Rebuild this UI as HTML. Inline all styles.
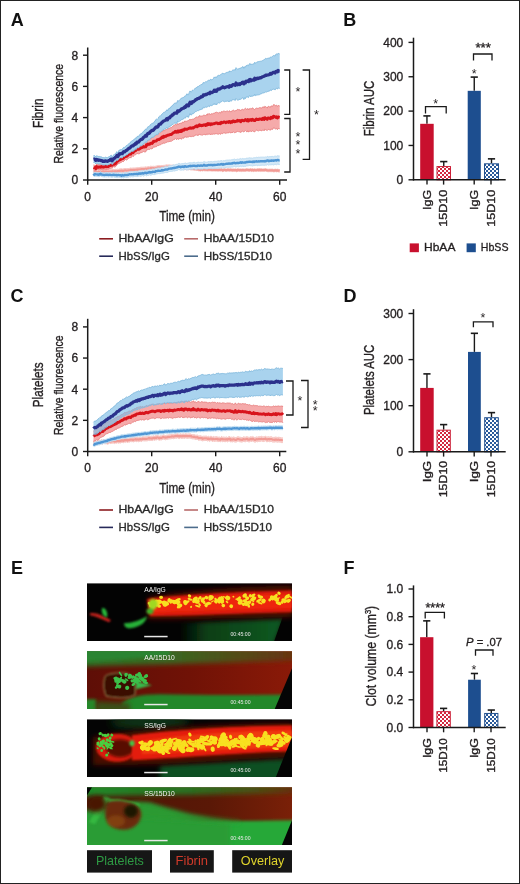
<!DOCTYPE html>
<html><head><meta charset="utf-8"><title>Figure</title>
<style>html,body{margin:0;padding:0;background:#fff;} svg{display:block;will-change:transform;} text{font-family:"Liberation Sans", sans-serif;}</style>
</head><body>
<svg width="520" height="884" viewBox="0 0 520 884" font-family='"Liberation Sans", sans-serif'>
<defs>
<pattern id="chkR" width="4" height="4" patternUnits="userSpaceOnUse"><rect width="4" height="4" fill="#fff"/><rect width="2" height="2" fill="#d2283f"/><rect x="2" y="2" width="2" height="2" fill="#d2283f"/></pattern>
<pattern id="chkB" width="4" height="4" patternUnits="userSpaceOnUse"><rect width="4" height="4" fill="#fff"/><rect width="2" height="2" fill="#2a5a9a"/><rect x="2" y="2" width="2" height="2" fill="#2a5a9a"/></pattern>
</defs>
<rect width="520" height="884" fill="#fff"/>
<path d="M93.46,170.38 L94.24,170.29 L95.02,169.99 L95.80,170.13 L96.58,170.45 L97.36,170.16 L98.14,170.23 L98.91,170.08 L99.69,170.31 L100.47,170.02 L101.25,169.99 L102.03,169.74 L102.81,169.89 L103.59,169.85 L104.37,170.11 L105.15,169.49 L105.93,170.11 L106.71,169.61 L107.49,169.78 L108.27,169.86 L109.04,169.80 L109.82,169.78 L110.60,169.57 L111.38,169.63 L112.16,169.33 L112.94,169.78 L113.72,169.47 L114.50,169.56 L115.28,169.24 L116.06,169.65 L116.84,169.33 L117.62,169.17 L118.40,169.38 L119.18,168.96 L119.95,169.01 L120.73,168.81 L121.51,168.77 L122.29,169.02 L123.07,168.92 L123.85,168.78 L124.63,168.58 L125.41,168.49 L126.19,168.70 L126.97,168.63 L127.75,168.59 L128.53,168.51 L129.31,168.41 L130.08,168.30 L130.86,167.88 L131.64,168.21 L132.42,168.10 L133.20,167.94 L133.98,168.12 L134.76,167.98 L135.54,167.88 L136.32,167.71 L137.10,167.95 L137.88,167.45 L138.66,167.66 L139.44,167.52 L140.21,167.35 L140.99,167.30 L141.77,167.19 L142.55,167.26 L143.33,167.23 L144.11,167.10 L144.89,167.25 L145.67,166.81 L146.45,167.04 L147.23,167.03 L148.01,166.44 L148.79,166.70 L149.57,166.82 L150.35,166.26 L151.12,166.54 L151.90,166.23 L152.68,166.45 L153.46,166.26 L154.24,166.41 L155.02,166.36 L155.80,166.16 L156.58,165.95 L157.36,165.77 L158.14,165.45 L158.92,165.93 L159.70,165.51 L160.48,165.68 L161.25,165.53 L162.03,165.66 L162.81,165.58 L163.59,165.42 L164.37,165.40 L165.15,165.14 L165.93,165.19 L166.71,164.83 L167.49,164.97 L168.27,164.98 L169.05,164.87 L169.83,165.00 L170.61,165.13 L171.38,165.19 L172.16,165.26 L172.94,165.11 L173.72,165.22 L174.50,165.35 L175.28,165.35 L176.06,165.63 L176.84,165.53 L177.62,165.88 L178.40,165.53 L179.18,165.80 L179.96,165.87 L180.74,165.89 L181.51,166.08 L182.29,166.20 L183.07,166.04 L183.85,166.30 L184.63,166.54 L185.41,166.41 L186.19,166.86 L186.97,166.45 L187.75,166.82 L188.53,166.90 L189.31,166.67 L190.09,166.77 L190.87,167.18 L191.65,167.21 L192.42,167.22 L193.20,167.22 L193.98,167.61 L194.76,167.65 L195.54,167.56 L196.32,167.82 L197.10,167.84 L197.88,167.94 L198.66,168.30 L199.44,168.33 L200.22,168.64 L201.00,168.31 L201.78,168.09 L202.55,168.50 L203.33,168.17 L204.11,168.23 L204.89,168.41 L205.67,168.42 L206.45,168.44 L207.23,168.60 L208.01,168.53 L208.79,168.51 L209.57,168.41 L210.35,168.40 L211.13,168.65 L211.91,168.40 L212.68,168.67 L213.46,168.60 L214.24,168.51 L215.02,168.59 L215.80,168.63 L216.58,168.57 L217.36,168.71 L218.14,168.76 L218.92,168.69 L219.70,168.52 L220.48,168.71 L221.26,168.41 L222.04,168.68 L222.81,169.20 L223.59,168.83 L224.37,168.53 L225.15,168.80 L225.93,168.90 L226.71,168.98 L227.49,168.64 L228.27,168.70 L229.05,168.78 L229.83,168.83 L230.61,168.68 L231.39,168.79 L232.17,169.12 L232.95,168.81 L233.72,168.90 L234.50,168.94 L235.28,168.79 L236.06,168.89 L236.84,169.34 L237.62,168.63 L238.40,168.72 L239.18,168.91 L239.96,168.96 L240.74,168.86 L241.52,169.07 L242.30,168.81 L243.08,168.88 L243.85,168.90 L244.63,168.99 L245.41,168.96 L246.19,168.68 L246.97,168.64 L247.75,168.76 L248.53,168.85 L249.31,168.97 L250.09,168.71 L250.87,168.55 L251.65,169.05 L252.43,168.61 L253.21,169.13 L253.98,168.84 L254.76,168.74 L255.54,169.00 L256.32,169.02 L257.10,168.74 L257.88,168.65 L258.66,168.86 L259.44,168.60 L260.22,168.96 L261.00,168.61 L261.78,168.90 L262.56,168.90 L263.34,168.86 L264.12,168.92 L264.89,168.70 L265.67,168.67 L266.45,168.95 L267.23,169.07 L268.01,169.26 L268.79,169.20 L269.57,169.11 L270.35,169.15 L271.13,169.15 L271.91,169.16 L272.69,169.12 L273.47,169.43 L274.25,169.40 L275.02,169.11 L275.80,169.17 L276.58,169.39 L277.36,169.12 L278.14,169.44 L278.92,169.37 L279.70,169.63 L279.70,172.17 L278.92,171.91 L278.14,171.95 L277.36,171.62 L276.58,171.88 L275.80,171.63 L275.02,171.56 L274.25,171.90 L273.47,171.93 L272.69,171.62 L271.91,171.69 L271.13,171.67 L270.35,171.64 L269.57,171.61 L268.79,171.70 L268.01,171.73 L267.23,171.56 L266.45,171.43 L265.67,171.14 L264.89,171.18 L264.12,171.39 L263.34,171.31 L262.56,171.35 L261.78,171.35 L261.00,171.08 L260.22,171.48 L259.44,171.14 L258.66,171.42 L257.88,171.19 L257.10,171.29 L256.32,171.53 L255.54,171.50 L254.76,171.21 L253.98,171.34 L253.21,171.63 L252.43,171.11 L251.65,171.55 L250.87,171.06 L250.09,171.19 L249.31,171.43 L248.53,171.31 L247.75,171.23 L246.97,171.10 L246.19,171.14 L245.41,171.43 L244.63,171.48 L243.85,171.40 L243.08,171.39 L242.30,171.31 L241.52,171.55 L240.74,171.31 L239.96,171.40 L239.18,171.39 L238.40,171.22 L237.62,171.15 L236.84,171.86 L236.06,171.40 L235.28,171.27 L234.50,171.40 L233.72,171.36 L232.95,171.26 L232.17,171.57 L231.39,171.25 L230.61,171.15 L229.83,171.30 L229.05,171.25 L228.27,171.20 L227.49,171.12 L226.71,171.45 L225.93,171.36 L225.15,171.28 L224.37,171.01 L223.59,171.33 L222.81,171.72 L222.04,171.22 L221.26,170.93 L220.48,171.23 L219.70,171.05 L218.92,171.22 L218.14,171.26 L217.36,171.25 L216.58,171.10 L215.80,171.14 L215.02,171.11 L214.24,171.04 L213.46,171.09 L212.68,171.17 L211.91,170.91 L211.13,171.13 L210.35,170.87 L209.57,170.88 L208.79,170.96 L208.01,170.98 L207.23,171.06 L206.45,170.90 L205.67,170.91 L204.89,170.91 L204.11,170.73 L203.33,170.69 L202.55,171.05 L201.78,170.64 L201.00,170.86 L200.22,171.19 L199.44,170.85 L198.66,170.85 L197.88,170.54 L197.10,170.47 L196.32,170.47 L195.54,170.27 L194.76,170.36 L193.98,170.32 L193.20,169.98 L192.42,169.99 L191.65,169.99 L190.87,170.01 L190.09,169.63 L189.31,169.53 L188.53,169.82 L187.75,169.81 L186.97,169.44 L186.19,169.92 L185.41,169.53 L184.63,169.66 L183.85,169.42 L183.07,169.18 L182.29,169.32 L181.51,169.21 L180.74,169.08 L179.96,169.10 L179.18,169.08 L178.40,168.85 L177.62,169.25 L176.84,168.90 L176.06,169.04 L175.28,168.80 L174.50,168.84 L173.72,168.75 L172.94,168.68 L172.16,168.81 L171.38,168.77 L170.61,168.72 L169.83,168.62 L169.05,168.52 L168.27,168.71 L167.49,168.74 L166.71,168.59 L165.93,168.93 L165.15,168.85 L164.37,169.10 L163.59,169.11 L162.81,169.31 L162.03,169.39 L161.25,169.26 L160.48,169.40 L159.70,169.21 L158.92,169.58 L158.14,169.14 L157.36,169.48 L156.58,169.72 L155.80,169.95 L155.02,170.19 L154.24,170.22 L153.46,170.08 L152.68,170.22 L151.90,170.00 L151.12,170.28 L150.35,170.02 L149.57,170.56 L148.79,170.51 L148.01,170.24 L147.23,170.83 L146.45,170.83 L145.67,170.59 L144.89,170.99 L144.11,170.87 L143.33,170.99 L142.55,171.04 L141.77,170.97 L140.99,171.11 L140.21,171.14 L139.44,171.31 L138.66,171.44 L137.88,171.23 L137.10,171.69 L136.32,171.40 L135.54,171.58 L134.76,171.72 L133.98,171.88 L133.20,171.74 L132.42,171.93 L131.64,172.01 L130.86,171.66 L130.08,172.04 L129.31,172.08 L128.53,172.20 L127.75,172.30 L126.97,172.33 L126.19,172.41 L125.41,172.24 L124.63,172.30 L123.85,172.52 L123.07,172.68 L122.29,172.76 L121.51,172.53 L120.73,172.59 L119.95,172.76 L119.18,172.69 L118.40,173.15 L117.62,172.95 L116.84,173.08 L116.06,173.43 L115.28,173.05 L114.50,173.35 L113.72,173.26 L112.94,173.61 L112.16,173.11 L111.38,173.39 L110.60,173.36 L109.82,173.55 L109.04,173.58 L108.27,173.65 L107.49,173.62 L106.71,173.40 L105.93,173.91 L105.15,173.29 L104.37,173.90 L103.59,173.60 L102.81,173.68 L102.03,173.50 L101.25,173.73 L100.47,173.75 L99.69,174.10 L98.91,173.85 L98.14,174.00 L97.36,173.94 L96.58,174.22 L95.80,173.87 L95.02,173.75 L94.24,174.06 L93.46,174.15 Z" fill="#fbd6d3" fill-opacity="1.0" stroke="none"/>
<path d="M93.46,170.38 L94.24,170.29 L95.02,169.99 L95.80,170.13 L96.58,170.45 L97.36,170.16 L98.14,170.23 L98.91,170.08 L99.69,170.31 L100.47,170.02 L101.25,169.99 L102.03,169.74 L102.81,169.89 L103.59,169.85 L104.37,170.11 L105.15,169.49 L105.93,170.11 L106.71,169.61 L107.49,169.78 L108.27,169.86 L109.04,169.80 L109.82,169.78 L110.60,169.57 L111.38,169.63 L112.16,169.33 L112.94,169.78 L113.72,169.47 L114.50,169.56 L115.28,169.24 L116.06,169.65 L116.84,169.33 L117.62,169.17 L118.40,169.38 L119.18,168.96 L119.95,169.01 L120.73,168.81 L121.51,168.77 L122.29,169.02 L123.07,168.92 L123.85,168.78 L124.63,168.58 L125.41,168.49 L126.19,168.70 L126.97,168.63 L127.75,168.59 L128.53,168.51 L129.31,168.41 L130.08,168.30 L130.86,167.88 L131.64,168.21 L132.42,168.10 L133.20,167.94 L133.98,168.12 L134.76,167.98 L135.54,167.88 L136.32,167.71 L137.10,167.95 L137.88,167.45 L138.66,167.66 L139.44,167.52 L140.21,167.35 L140.99,167.30 L141.77,167.19 L142.55,167.26 L143.33,167.23 L144.11,167.10 L144.89,167.25 L145.67,166.81 L146.45,167.04 L147.23,167.03 L148.01,166.44 L148.79,166.70 L149.57,166.82 L150.35,166.26 L151.12,166.54 L151.90,166.23 L152.68,166.45 L153.46,166.26 L154.24,166.41 L155.02,166.36 L155.80,166.16 L156.58,165.95 L157.36,165.77 L158.14,165.45 L158.92,165.93 L159.70,165.51 L160.48,165.68 L161.25,165.53 L162.03,165.66 L162.81,165.58 L163.59,165.42 L164.37,165.40 L165.15,165.14 L165.93,165.19 L166.71,164.83 L167.49,164.97 L168.27,164.98 L169.05,164.87 L169.83,165.00 L170.61,165.13 L171.38,165.19 L172.16,165.26 L172.94,165.11 L173.72,165.22 L174.50,165.35 L175.28,165.35 L176.06,165.63 L176.84,165.53 L177.62,165.88 L178.40,165.53 L179.18,165.80 L179.96,165.87 L180.74,165.89 L181.51,166.08 L182.29,166.20 L183.07,166.04 L183.85,166.30 L184.63,166.54 L185.41,166.41 L186.19,166.86 L186.97,166.45 L187.75,166.82 L188.53,166.90 L189.31,166.67 L190.09,166.77 L190.87,167.18 L191.65,167.21 L192.42,167.22 L193.20,167.22 L193.98,167.61 L194.76,167.65 L195.54,167.56 L196.32,167.82 L197.10,167.84 L197.88,167.94 L198.66,168.30 L199.44,168.33 L200.22,168.64 L201.00,168.31 L201.78,168.09 L202.55,168.50 L203.33,168.17 L204.11,168.23 L204.89,168.41 L205.67,168.42 L206.45,168.44 L207.23,168.60 L208.01,168.53 L208.79,168.51 L209.57,168.41 L210.35,168.40 L211.13,168.65 L211.91,168.40 L212.68,168.67 L213.46,168.60 L214.24,168.51 L215.02,168.59 L215.80,168.63 L216.58,168.57 L217.36,168.71 L218.14,168.76 L218.92,168.69 L219.70,168.52 L220.48,168.71 L221.26,168.41 L222.04,168.68 L222.81,169.20 L223.59,168.83 L224.37,168.53 L225.15,168.80 L225.93,168.90 L226.71,168.98 L227.49,168.64 L228.27,168.70 L229.05,168.78 L229.83,168.83 L230.61,168.68 L231.39,168.79 L232.17,169.12 L232.95,168.81 L233.72,168.90 L234.50,168.94 L235.28,168.79 L236.06,168.89 L236.84,169.34 L237.62,168.63 L238.40,168.72 L239.18,168.91 L239.96,168.96 L240.74,168.86 L241.52,169.07 L242.30,168.81 L243.08,168.88 L243.85,168.90 L244.63,168.99 L245.41,168.96 L246.19,168.68 L246.97,168.64 L247.75,168.76 L248.53,168.85 L249.31,168.97 L250.09,168.71 L250.87,168.55 L251.65,169.05 L252.43,168.61 L253.21,169.13 L253.98,168.84 L254.76,168.74 L255.54,169.00 L256.32,169.02 L257.10,168.74 L257.88,168.65 L258.66,168.86 L259.44,168.60 L260.22,168.96 L261.00,168.61 L261.78,168.90 L262.56,168.90 L263.34,168.86 L264.12,168.92 L264.89,168.70 L265.67,168.67 L266.45,168.95 L267.23,169.07 L268.01,169.26 L268.79,169.20 L269.57,169.11 L270.35,169.15 L271.13,169.15 L271.91,169.16 L272.69,169.12 L273.47,169.43 L274.25,169.40 L275.02,169.11 L275.80,169.17 L276.58,169.39 L277.36,169.12 L278.14,169.44 L278.92,169.37 L279.70,169.63" fill="none" stroke="#f7c2be" stroke-width="1.0"/>
<path d="M93.46,174.15 L94.24,174.06 L95.02,173.75 L95.80,173.87 L96.58,174.22 L97.36,173.94 L98.14,174.00 L98.91,173.85 L99.69,174.10 L100.47,173.75 L101.25,173.73 L102.03,173.50 L102.81,173.68 L103.59,173.60 L104.37,173.90 L105.15,173.29 L105.93,173.91 L106.71,173.40 L107.49,173.62 L108.27,173.65 L109.04,173.58 L109.82,173.55 L110.60,173.36 L111.38,173.39 L112.16,173.11 L112.94,173.61 L113.72,173.26 L114.50,173.35 L115.28,173.05 L116.06,173.43 L116.84,173.08 L117.62,172.95 L118.40,173.15 L119.18,172.69 L119.95,172.76 L120.73,172.59 L121.51,172.53 L122.29,172.76 L123.07,172.68 L123.85,172.52 L124.63,172.30 L125.41,172.24 L126.19,172.41 L126.97,172.33 L127.75,172.30 L128.53,172.20 L129.31,172.08 L130.08,172.04 L130.86,171.66 L131.64,172.01 L132.42,171.93 L133.20,171.74 L133.98,171.88 L134.76,171.72 L135.54,171.58 L136.32,171.40 L137.10,171.69 L137.88,171.23 L138.66,171.44 L139.44,171.31 L140.21,171.14 L140.99,171.11 L141.77,170.97 L142.55,171.04 L143.33,170.99 L144.11,170.87 L144.89,170.99 L145.67,170.59 L146.45,170.83 L147.23,170.83 L148.01,170.24 L148.79,170.51 L149.57,170.56 L150.35,170.02 L151.12,170.28 L151.90,170.00 L152.68,170.22 L153.46,170.08 L154.24,170.22 L155.02,170.19 L155.80,169.95 L156.58,169.72 L157.36,169.48 L158.14,169.14 L158.92,169.58 L159.70,169.21 L160.48,169.40 L161.25,169.26 L162.03,169.39 L162.81,169.31 L163.59,169.11 L164.37,169.10 L165.15,168.85 L165.93,168.93 L166.71,168.59 L167.49,168.74 L168.27,168.71 L169.05,168.52 L169.83,168.62 L170.61,168.72 L171.38,168.77 L172.16,168.81 L172.94,168.68 L173.72,168.75 L174.50,168.84 L175.28,168.80 L176.06,169.04 L176.84,168.90 L177.62,169.25 L178.40,168.85 L179.18,169.08 L179.96,169.10 L180.74,169.08 L181.51,169.21 L182.29,169.32 L183.07,169.18 L183.85,169.42 L184.63,169.66 L185.41,169.53 L186.19,169.92 L186.97,169.44 L187.75,169.81 L188.53,169.82 L189.31,169.53 L190.09,169.63 L190.87,170.01 L191.65,169.99 L192.42,169.99 L193.20,169.98 L193.98,170.32 L194.76,170.36 L195.54,170.27 L196.32,170.47 L197.10,170.47 L197.88,170.54 L198.66,170.85 L199.44,170.85 L200.22,171.19 L201.00,170.86 L201.78,170.64 L202.55,171.05 L203.33,170.69 L204.11,170.73 L204.89,170.91 L205.67,170.91 L206.45,170.90 L207.23,171.06 L208.01,170.98 L208.79,170.96 L209.57,170.88 L210.35,170.87 L211.13,171.13 L211.91,170.91 L212.68,171.17 L213.46,171.09 L214.24,171.04 L215.02,171.11 L215.80,171.14 L216.58,171.10 L217.36,171.25 L218.14,171.26 L218.92,171.22 L219.70,171.05 L220.48,171.23 L221.26,170.93 L222.04,171.22 L222.81,171.72 L223.59,171.33 L224.37,171.01 L225.15,171.28 L225.93,171.36 L226.71,171.45 L227.49,171.12 L228.27,171.20 L229.05,171.25 L229.83,171.30 L230.61,171.15 L231.39,171.25 L232.17,171.57 L232.95,171.26 L233.72,171.36 L234.50,171.40 L235.28,171.27 L236.06,171.40 L236.84,171.86 L237.62,171.15 L238.40,171.22 L239.18,171.39 L239.96,171.40 L240.74,171.31 L241.52,171.55 L242.30,171.31 L243.08,171.39 L243.85,171.40 L244.63,171.48 L245.41,171.43 L246.19,171.14 L246.97,171.10 L247.75,171.23 L248.53,171.31 L249.31,171.43 L250.09,171.19 L250.87,171.06 L251.65,171.55 L252.43,171.11 L253.21,171.63 L253.98,171.34 L254.76,171.21 L255.54,171.50 L256.32,171.53 L257.10,171.29 L257.88,171.19 L258.66,171.42 L259.44,171.14 L260.22,171.48 L261.00,171.08 L261.78,171.35 L262.56,171.35 L263.34,171.31 L264.12,171.39 L264.89,171.18 L265.67,171.14 L266.45,171.43 L267.23,171.56 L268.01,171.73 L268.79,171.70 L269.57,171.61 L270.35,171.64 L271.13,171.67 L271.91,171.69 L272.69,171.62 L273.47,171.93 L274.25,171.90 L275.02,171.56 L275.80,171.63 L276.58,171.88 L277.36,171.62 L278.14,171.95 L278.92,171.91 L279.70,172.17" fill="none" stroke="#f7c2be" stroke-width="1.0"/>
<path d="M93.46,172.27 L94.24,172.18 L95.02,171.87 L95.80,172.00 L96.58,172.33 L97.36,172.05 L98.14,172.11 L98.91,171.96 L99.69,172.21 L100.47,171.89 L101.25,171.86 L102.03,171.62 L102.81,171.78 L103.59,171.72 L104.37,172.00 L105.15,171.39 L105.93,172.01 L106.71,171.51 L107.49,171.70 L108.27,171.76 L109.04,171.69 L109.82,171.66 L110.60,171.46 L111.38,171.51 L112.16,171.22 L112.94,171.69 L113.72,171.36 L114.50,171.45 L115.28,171.14 L116.06,171.54 L116.84,171.21 L117.62,171.06 L118.40,171.27 L119.18,170.82 L119.95,170.89 L120.73,170.70 L121.51,170.65 L122.29,170.89 L123.07,170.80 L123.85,170.65 L124.63,170.44 L125.41,170.37 L126.19,170.55 L126.97,170.48 L127.75,170.45 L128.53,170.36 L129.31,170.24 L130.08,170.17 L130.86,169.77 L131.64,170.11 L132.42,170.01 L133.20,169.84 L133.98,170.00 L134.76,169.85 L135.54,169.73 L136.32,169.55 L137.10,169.82 L137.88,169.34 L138.66,169.55 L139.44,169.41 L140.21,169.24 L140.99,169.21 L141.77,169.08 L142.55,169.15 L143.33,169.11 L144.11,168.99 L144.89,169.12 L145.67,168.70 L146.45,168.93 L147.23,168.93 L148.01,168.34 L148.79,168.61 L149.57,168.69 L150.35,168.14 L151.12,168.41 L151.90,168.11 L152.68,168.33 L153.46,168.17 L154.24,168.32 L155.02,168.27 L155.80,168.05 L156.58,167.84 L157.36,167.62 L158.14,167.29 L158.92,167.76 L159.70,167.36 L160.48,167.54 L161.25,167.39 L162.03,167.52 L162.81,167.45 L163.59,167.26 L164.37,167.25 L165.15,167.00 L165.93,167.06 L166.71,166.71 L167.49,166.86 L168.27,166.85 L169.05,166.70 L169.83,166.81 L170.61,166.93 L171.38,166.98 L172.16,167.03 L172.94,166.89 L173.72,166.98 L174.50,167.10 L175.28,167.08 L176.06,167.33 L176.84,167.22 L177.62,167.57 L178.40,167.19 L179.18,167.44 L179.96,167.49 L180.74,167.49 L181.51,167.65 L182.29,167.76 L183.07,167.61 L183.85,167.86 L184.63,168.10 L185.41,167.97 L186.19,168.39 L186.97,167.95 L187.75,168.31 L188.53,168.36 L189.31,168.10 L190.09,168.20 L190.87,168.60 L191.65,168.60 L192.42,168.61 L193.20,168.60 L193.98,168.96 L194.76,169.01 L195.54,168.92 L196.32,169.15 L197.10,169.15 L197.88,169.24 L198.66,169.58 L199.44,169.59 L200.22,169.92 L201.00,169.58 L201.78,169.37 L202.55,169.77 L203.33,169.43 L204.11,169.48 L204.89,169.66 L205.67,169.67 L206.45,169.67 L207.23,169.83 L208.01,169.75 L208.79,169.73 L209.57,169.64 L210.35,169.63 L211.13,169.89 L211.91,169.66 L212.68,169.92 L213.46,169.84 L214.24,169.77 L215.02,169.85 L215.80,169.88 L216.58,169.84 L217.36,169.98 L218.14,170.01 L218.92,169.95 L219.70,169.79 L220.48,169.97 L221.26,169.67 L222.04,169.95 L222.81,170.46 L223.59,170.08 L224.37,169.77 L225.15,170.04 L225.93,170.13 L226.71,170.21 L227.49,169.88 L228.27,169.95 L229.05,170.01 L229.83,170.06 L230.61,169.92 L231.39,170.02 L232.17,170.34 L232.95,170.04 L233.72,170.13 L234.50,170.17 L235.28,170.03 L236.06,170.14 L236.84,170.60 L237.62,169.89 L238.40,169.97 L239.18,170.15 L239.96,170.18 L240.74,170.08 L241.52,170.31 L242.30,170.06 L243.08,170.14 L243.85,170.15 L244.63,170.24 L245.41,170.19 L246.19,169.91 L246.97,169.87 L247.75,170.00 L248.53,170.08 L249.31,170.20 L250.09,169.95 L250.87,169.80 L251.65,170.30 L252.43,169.86 L253.21,170.38 L253.98,170.09 L254.76,169.97 L255.54,170.25 L256.32,170.27 L257.10,170.01 L257.88,169.92 L258.66,170.14 L259.44,169.87 L260.22,170.22 L261.00,169.85 L261.78,170.12 L262.56,170.13 L263.34,170.09 L264.12,170.16 L264.89,169.94 L265.67,169.91 L266.45,170.19 L267.23,170.32 L268.01,170.50 L268.79,170.45 L269.57,170.36 L270.35,170.40 L271.13,170.41 L271.91,170.42 L272.69,170.37 L273.47,170.68 L274.25,170.65 L275.02,170.33 L275.80,170.40 L276.58,170.64 L277.36,170.37 L278.14,170.69 L278.92,170.64 L279.70,170.90" fill="none" stroke="#f29b95" stroke-width="2.2" stroke-linejoin="round"/>
<path d="M93.46,171.67 L94.24,172.78 L95.02,172.11 L95.80,172.39 L96.58,172.39 L97.36,172.38 L98.14,172.85 L98.91,172.47 L99.69,172.65 L100.47,171.71 L101.25,172.47 L102.03,172.61 L102.81,172.65 L103.59,172.74 L104.37,172.85 L105.15,172.72 L105.93,172.55 L106.71,172.73 L107.49,172.51 L108.27,172.81 L109.04,172.77 L109.82,172.42 L110.60,172.66 L111.38,172.90 L112.16,172.86 L112.94,172.70 L113.72,172.41 L114.50,172.92 L115.28,172.91 L116.06,172.61 L116.84,173.05 L117.62,172.93 L118.40,172.69 L119.18,172.80 L119.95,172.93 L120.73,172.79 L121.51,173.59 L122.29,172.65 L123.07,173.07 L123.85,173.19 L124.63,172.68 L125.41,172.51 L126.19,172.71 L126.97,172.77 L127.75,172.40 L128.53,172.30 L129.31,171.87 L130.08,171.90 L130.86,171.93 L131.64,171.65 L132.42,171.88 L133.20,171.98 L133.98,171.53 L134.76,171.44 L135.54,171.51 L136.32,171.57 L137.10,171.21 L137.88,171.75 L138.66,170.90 L139.44,170.87 L140.21,171.25 L140.99,170.75 L141.77,170.90 L142.55,170.42 L143.33,170.98 L144.11,170.60 L144.89,170.18 L145.67,169.98 L146.45,170.67 L147.23,170.15 L148.01,169.86 L148.79,169.96 L149.57,169.33 L150.35,169.86 L151.12,169.42 L151.90,169.64 L152.68,168.92 L153.46,169.12 L154.24,169.05 L155.02,169.21 L155.80,168.23 L156.58,168.31 L157.36,168.16 L158.14,167.91 L158.92,167.94 L159.70,168.05 L160.48,167.95 L161.25,167.77 L162.03,167.11 L162.81,167.59 L163.59,167.21 L164.37,166.98 L165.15,166.70 L165.93,166.47 L166.71,166.77 L167.49,166.72 L168.27,166.15 L169.05,165.74 L169.83,165.69 L170.61,165.64 L171.38,165.64 L172.16,165.34 L172.94,165.27 L173.72,164.84 L174.50,165.07 L175.28,164.69 L176.06,164.57 L176.84,164.28 L177.62,164.22 L178.40,163.53 L179.18,163.61 L179.96,163.50 L180.74,164.18 L181.51,163.65 L182.29,163.65 L183.07,163.33 L183.85,163.93 L184.63,163.10 L185.41,163.07 L186.19,163.53 L186.97,163.39 L187.75,163.28 L188.53,163.04 L189.31,162.85 L190.09,162.51 L190.87,163.00 L191.65,162.76 L192.42,162.82 L193.20,162.41 L193.98,162.57 L194.76,162.38 L195.54,162.88 L196.32,162.62 L197.10,162.71 L197.88,162.12 L198.66,162.24 L199.44,162.42 L200.22,162.42 L201.00,162.16 L201.78,162.38 L202.55,162.38 L203.33,161.99 L204.11,161.46 L204.89,162.05 L205.67,162.11 L206.45,162.23 L207.23,162.18 L208.01,161.71 L208.79,161.54 L209.57,161.70 L210.35,161.55 L211.13,161.58 L211.91,161.53 L212.68,161.86 L213.46,161.53 L214.24,161.34 L215.02,161.47 L215.80,161.31 L216.58,161.35 L217.36,161.19 L218.14,160.86 L218.92,161.10 L219.70,161.03 L220.48,160.77 L221.26,160.76 L222.04,160.43 L222.81,161.26 L223.59,160.50 L224.37,160.73 L225.15,160.49 L225.93,160.28 L226.71,160.17 L227.49,160.10 L228.27,160.22 L229.05,159.81 L229.83,160.16 L230.61,160.04 L231.39,159.73 L232.17,159.96 L232.95,159.22 L233.72,159.45 L234.50,159.09 L235.28,159.52 L236.06,159.55 L236.84,159.33 L237.62,159.08 L238.40,159.30 L239.18,159.00 L239.96,158.96 L240.74,158.50 L241.52,158.97 L242.30,158.46 L243.08,158.78 L243.85,158.78 L244.63,158.66 L245.41,158.70 L246.19,158.36 L246.97,158.08 L247.75,158.26 L248.53,158.07 L249.31,157.76 L250.09,158.04 L250.87,157.97 L251.65,158.03 L252.43,158.28 L253.21,157.68 L253.98,158.18 L254.76,157.54 L255.54,157.65 L256.32,157.29 L257.10,157.44 L257.88,157.53 L258.66,157.21 L259.44,157.34 L260.22,157.22 L261.00,157.17 L261.78,157.18 L262.56,157.16 L263.34,157.21 L264.12,157.01 L264.89,157.43 L265.67,156.91 L266.45,157.10 L267.23,156.51 L268.01,156.46 L268.79,157.12 L269.57,156.56 L270.35,156.54 L271.13,156.74 L271.91,156.31 L272.69,156.51 L273.47,156.74 L274.25,156.30 L275.02,156.23 L275.80,156.13 L276.58,156.31 L277.36,155.84 L278.14,155.79 L278.92,156.16 L279.70,155.99 L279.70,164.49 L278.92,164.61 L278.14,164.16 L277.36,164.25 L276.58,164.73 L275.80,164.38 L275.02,164.50 L274.25,164.58 L273.47,164.94 L272.69,164.66 L271.91,164.50 L271.13,164.90 L270.35,164.77 L269.57,164.72 L268.79,165.24 L268.01,164.50 L267.23,164.61 L266.45,165.20 L265.67,165.01 L264.89,165.51 L264.12,165.12 L263.34,165.31 L262.56,165.16 L261.78,165.22 L261.00,165.24 L260.22,165.40 L259.44,165.55 L258.66,165.35 L257.88,165.68 L257.10,165.52 L256.32,165.21 L255.54,165.48 L254.76,165.38 L253.98,165.96 L253.21,165.39 L252.43,165.99 L251.65,165.71 L250.87,165.66 L250.09,165.66 L249.31,165.40 L248.53,165.68 L247.75,165.82 L246.97,165.72 L246.19,165.98 L245.41,166.41 L244.63,166.35 L243.85,166.49 L243.08,166.48 L242.30,166.16 L241.52,166.59 L240.74,166.14 L239.96,166.59 L239.18,166.50 L238.40,166.79 L237.62,166.54 L236.84,166.69 L236.06,166.88 L235.28,166.89 L234.50,166.43 L233.72,166.75 L232.95,166.58 L232.17,167.26 L231.39,166.99 L230.61,167.28 L229.83,167.36 L229.05,166.97 L228.27,167.38 L227.49,167.23 L226.71,167.28 L225.93,167.43 L225.15,167.68 L224.37,167.87 L223.59,167.61 L222.81,168.35 L222.04,167.53 L221.26,167.80 L220.48,167.81 L219.70,168.10 L218.92,168.25 L218.14,167.99 L217.36,168.30 L216.58,168.45 L215.80,168.42 L215.02,168.49 L214.24,168.30 L213.46,168.46 L212.68,168.72 L211.91,168.36 L211.13,168.40 L210.35,168.42 L209.57,168.51 L208.79,168.36 L208.01,168.43 L207.23,168.91 L206.45,168.88 L205.67,168.80 L204.89,168.80 L204.11,168.21 L203.33,168.69 L202.55,169.06 L201.78,169.04 L201.00,168.78 L200.22,169.05 L199.44,169.07 L198.66,168.89 L197.88,168.70 L197.10,169.29 L196.32,169.17 L195.54,169.41 L194.76,168.85 L193.98,169.05 L193.20,168.82 L192.42,169.25 L191.65,169.11 L190.87,169.41 L190.09,168.94 L189.31,169.34 L188.53,169.52 L187.75,169.76 L186.97,169.82 L186.19,169.92 L185.41,169.36 L184.63,169.37 L183.85,170.24 L183.07,169.63 L182.29,169.97 L181.51,169.99 L180.74,170.43 L179.96,169.65 L179.18,169.76 L178.40,169.60 L177.62,170.26 L176.84,170.33 L176.06,170.65 L175.28,170.71 L174.50,171.05 L173.72,170.83 L172.94,171.19 L172.16,171.16 L171.38,171.45 L170.61,171.49 L169.83,171.48 L169.05,171.52 L168.27,171.97 L167.49,172.50 L166.71,172.52 L165.93,172.27 L165.15,172.49 L164.37,172.76 L163.59,172.96 L162.81,173.28 L162.03,172.73 L161.25,173.38 L160.48,173.50 L159.70,173.62 L158.92,173.56 L158.14,173.52 L157.36,173.74 L156.58,173.89 L155.80,173.83 L155.02,174.74 L154.24,174.55 L153.46,174.59 L152.68,174.38 L151.90,175.04 L151.12,174.84 L150.35,175.34 L149.57,174.77 L148.79,175.36 L148.01,175.19 L147.23,175.46 L146.45,175.88 L145.67,175.19 L144.89,175.37 L144.11,175.87 L143.33,176.19 L142.55,175.60 L141.77,176.10 L140.99,175.94 L140.21,176.40 L139.44,175.96 L138.66,176.00 L137.88,176.81 L137.10,176.25 L136.32,176.53 L135.54,176.50 L134.76,176.36 L133.98,176.43 L133.20,176.87 L132.42,176.79 L131.64,176.57 L130.86,176.89 L130.08,176.83 L129.31,176.72 L128.53,177.14 L127.75,177.18 L126.97,177.49 L126.19,177.42 L125.41,177.24 L124.63,177.40 L123.85,177.90 L123.07,177.77 L122.29,177.31 L121.51,178.21 L120.73,177.37 L119.95,177.49 L119.18,177.35 L118.40,177.27 L117.62,177.54 L116.84,177.65 L116.06,177.16 L115.28,177.39 L114.50,177.35 L113.72,176.79 L112.94,177.10 L112.16,177.24 L111.38,177.30 L110.60,177.01 L109.82,176.73 L109.04,177.04 L108.27,177.05 L107.49,176.75 L106.71,177.01 L105.93,176.79 L105.15,176.95 L104.37,177.05 L103.59,176.90 L102.81,176.71 L102.03,176.69 L101.25,176.47 L100.47,175.69 L99.69,176.62 L98.91,176.42 L98.14,176.78 L97.36,176.32 L96.58,176.33 L95.80,176.30 L95.02,176.05 L94.24,176.71 L93.46,175.62 Z" fill="#d3e8f7" fill-opacity="1.0" stroke="none"/>
<path d="M93.46,171.67 L94.24,172.78 L95.02,172.11 L95.80,172.39 L96.58,172.39 L97.36,172.38 L98.14,172.85 L98.91,172.47 L99.69,172.65 L100.47,171.71 L101.25,172.47 L102.03,172.61 L102.81,172.65 L103.59,172.74 L104.37,172.85 L105.15,172.72 L105.93,172.55 L106.71,172.73 L107.49,172.51 L108.27,172.81 L109.04,172.77 L109.82,172.42 L110.60,172.66 L111.38,172.90 L112.16,172.86 L112.94,172.70 L113.72,172.41 L114.50,172.92 L115.28,172.91 L116.06,172.61 L116.84,173.05 L117.62,172.93 L118.40,172.69 L119.18,172.80 L119.95,172.93 L120.73,172.79 L121.51,173.59 L122.29,172.65 L123.07,173.07 L123.85,173.19 L124.63,172.68 L125.41,172.51 L126.19,172.71 L126.97,172.77 L127.75,172.40 L128.53,172.30 L129.31,171.87 L130.08,171.90 L130.86,171.93 L131.64,171.65 L132.42,171.88 L133.20,171.98 L133.98,171.53 L134.76,171.44 L135.54,171.51 L136.32,171.57 L137.10,171.21 L137.88,171.75 L138.66,170.90 L139.44,170.87 L140.21,171.25 L140.99,170.75 L141.77,170.90 L142.55,170.42 L143.33,170.98 L144.11,170.60 L144.89,170.18 L145.67,169.98 L146.45,170.67 L147.23,170.15 L148.01,169.86 L148.79,169.96 L149.57,169.33 L150.35,169.86 L151.12,169.42 L151.90,169.64 L152.68,168.92 L153.46,169.12 L154.24,169.05 L155.02,169.21 L155.80,168.23 L156.58,168.31 L157.36,168.16 L158.14,167.91 L158.92,167.94 L159.70,168.05 L160.48,167.95 L161.25,167.77 L162.03,167.11 L162.81,167.59 L163.59,167.21 L164.37,166.98 L165.15,166.70 L165.93,166.47 L166.71,166.77 L167.49,166.72 L168.27,166.15 L169.05,165.74 L169.83,165.69 L170.61,165.64 L171.38,165.64 L172.16,165.34 L172.94,165.27 L173.72,164.84 L174.50,165.07 L175.28,164.69 L176.06,164.57 L176.84,164.28 L177.62,164.22 L178.40,163.53 L179.18,163.61 L179.96,163.50 L180.74,164.18 L181.51,163.65 L182.29,163.65 L183.07,163.33 L183.85,163.93 L184.63,163.10 L185.41,163.07 L186.19,163.53 L186.97,163.39 L187.75,163.28 L188.53,163.04 L189.31,162.85 L190.09,162.51 L190.87,163.00 L191.65,162.76 L192.42,162.82 L193.20,162.41 L193.98,162.57 L194.76,162.38 L195.54,162.88 L196.32,162.62 L197.10,162.71 L197.88,162.12 L198.66,162.24 L199.44,162.42 L200.22,162.42 L201.00,162.16 L201.78,162.38 L202.55,162.38 L203.33,161.99 L204.11,161.46 L204.89,162.05 L205.67,162.11 L206.45,162.23 L207.23,162.18 L208.01,161.71 L208.79,161.54 L209.57,161.70 L210.35,161.55 L211.13,161.58 L211.91,161.53 L212.68,161.86 L213.46,161.53 L214.24,161.34 L215.02,161.47 L215.80,161.31 L216.58,161.35 L217.36,161.19 L218.14,160.86 L218.92,161.10 L219.70,161.03 L220.48,160.77 L221.26,160.76 L222.04,160.43 L222.81,161.26 L223.59,160.50 L224.37,160.73 L225.15,160.49 L225.93,160.28 L226.71,160.17 L227.49,160.10 L228.27,160.22 L229.05,159.81 L229.83,160.16 L230.61,160.04 L231.39,159.73 L232.17,159.96 L232.95,159.22 L233.72,159.45 L234.50,159.09 L235.28,159.52 L236.06,159.55 L236.84,159.33 L237.62,159.08 L238.40,159.30 L239.18,159.00 L239.96,158.96 L240.74,158.50 L241.52,158.97 L242.30,158.46 L243.08,158.78 L243.85,158.78 L244.63,158.66 L245.41,158.70 L246.19,158.36 L246.97,158.08 L247.75,158.26 L248.53,158.07 L249.31,157.76 L250.09,158.04 L250.87,157.97 L251.65,158.03 L252.43,158.28 L253.21,157.68 L253.98,158.18 L254.76,157.54 L255.54,157.65 L256.32,157.29 L257.10,157.44 L257.88,157.53 L258.66,157.21 L259.44,157.34 L260.22,157.22 L261.00,157.17 L261.78,157.18 L262.56,157.16 L263.34,157.21 L264.12,157.01 L264.89,157.43 L265.67,156.91 L266.45,157.10 L267.23,156.51 L268.01,156.46 L268.79,157.12 L269.57,156.56 L270.35,156.54 L271.13,156.74 L271.91,156.31 L272.69,156.51 L273.47,156.74 L274.25,156.30 L275.02,156.23 L275.80,156.13 L276.58,156.31 L277.36,155.84 L278.14,155.79 L278.92,156.16 L279.70,155.99" fill="none" stroke="#bcdcf2" stroke-width="1.0"/>
<path d="M93.46,175.62 L94.24,176.71 L95.02,176.05 L95.80,176.30 L96.58,176.33 L97.36,176.32 L98.14,176.78 L98.91,176.42 L99.69,176.62 L100.47,175.69 L101.25,176.47 L102.03,176.69 L102.81,176.71 L103.59,176.90 L104.37,177.05 L105.15,176.95 L105.93,176.79 L106.71,177.01 L107.49,176.75 L108.27,177.05 L109.04,177.04 L109.82,176.73 L110.60,177.01 L111.38,177.30 L112.16,177.24 L112.94,177.10 L113.72,176.79 L114.50,177.35 L115.28,177.39 L116.06,177.16 L116.84,177.65 L117.62,177.54 L118.40,177.27 L119.18,177.35 L119.95,177.49 L120.73,177.37 L121.51,178.21 L122.29,177.31 L123.07,177.77 L123.85,177.90 L124.63,177.40 L125.41,177.24 L126.19,177.42 L126.97,177.49 L127.75,177.18 L128.53,177.14 L129.31,176.72 L130.08,176.83 L130.86,176.89 L131.64,176.57 L132.42,176.79 L133.20,176.87 L133.98,176.43 L134.76,176.36 L135.54,176.50 L136.32,176.53 L137.10,176.25 L137.88,176.81 L138.66,176.00 L139.44,175.96 L140.21,176.40 L140.99,175.94 L141.77,176.10 L142.55,175.60 L143.33,176.19 L144.11,175.87 L144.89,175.37 L145.67,175.19 L146.45,175.88 L147.23,175.46 L148.01,175.19 L148.79,175.36 L149.57,174.77 L150.35,175.34 L151.12,174.84 L151.90,175.04 L152.68,174.38 L153.46,174.59 L154.24,174.55 L155.02,174.74 L155.80,173.83 L156.58,173.89 L157.36,173.74 L158.14,173.52 L158.92,173.56 L159.70,173.62 L160.48,173.50 L161.25,173.38 L162.03,172.73 L162.81,173.28 L163.59,172.96 L164.37,172.76 L165.15,172.49 L165.93,172.27 L166.71,172.52 L167.49,172.50 L168.27,171.97 L169.05,171.52 L169.83,171.48 L170.61,171.49 L171.38,171.45 L172.16,171.16 L172.94,171.19 L173.72,170.83 L174.50,171.05 L175.28,170.71 L176.06,170.65 L176.84,170.33 L177.62,170.26 L178.40,169.60 L179.18,169.76 L179.96,169.65 L180.74,170.43 L181.51,169.99 L182.29,169.97 L183.07,169.63 L183.85,170.24 L184.63,169.37 L185.41,169.36 L186.19,169.92 L186.97,169.82 L187.75,169.76 L188.53,169.52 L189.31,169.34 L190.09,168.94 L190.87,169.41 L191.65,169.11 L192.42,169.25 L193.20,168.82 L193.98,169.05 L194.76,168.85 L195.54,169.41 L196.32,169.17 L197.10,169.29 L197.88,168.70 L198.66,168.89 L199.44,169.07 L200.22,169.05 L201.00,168.78 L201.78,169.04 L202.55,169.06 L203.33,168.69 L204.11,168.21 L204.89,168.80 L205.67,168.80 L206.45,168.88 L207.23,168.91 L208.01,168.43 L208.79,168.36 L209.57,168.51 L210.35,168.42 L211.13,168.40 L211.91,168.36 L212.68,168.72 L213.46,168.46 L214.24,168.30 L215.02,168.49 L215.80,168.42 L216.58,168.45 L217.36,168.30 L218.14,167.99 L218.92,168.25 L219.70,168.10 L220.48,167.81 L221.26,167.80 L222.04,167.53 L222.81,168.35 L223.59,167.61 L224.37,167.87 L225.15,167.68 L225.93,167.43 L226.71,167.28 L227.49,167.23 L228.27,167.38 L229.05,166.97 L229.83,167.36 L230.61,167.28 L231.39,166.99 L232.17,167.26 L232.95,166.58 L233.72,166.75 L234.50,166.43 L235.28,166.89 L236.06,166.88 L236.84,166.69 L237.62,166.54 L238.40,166.79 L239.18,166.50 L239.96,166.59 L240.74,166.14 L241.52,166.59 L242.30,166.16 L243.08,166.48 L243.85,166.49 L244.63,166.35 L245.41,166.41 L246.19,165.98 L246.97,165.72 L247.75,165.82 L248.53,165.68 L249.31,165.40 L250.09,165.66 L250.87,165.66 L251.65,165.71 L252.43,165.99 L253.21,165.39 L253.98,165.96 L254.76,165.38 L255.54,165.48 L256.32,165.21 L257.10,165.52 L257.88,165.68 L258.66,165.35 L259.44,165.55 L260.22,165.40 L261.00,165.24 L261.78,165.22 L262.56,165.16 L263.34,165.31 L264.12,165.12 L264.89,165.51 L265.67,165.01 L266.45,165.20 L267.23,164.61 L268.01,164.50 L268.79,165.24 L269.57,164.72 L270.35,164.77 L271.13,164.90 L271.91,164.50 L272.69,164.66 L273.47,164.94 L274.25,164.58 L275.02,164.50 L275.80,164.38 L276.58,164.73 L277.36,164.25 L278.14,164.16 L278.92,164.61 L279.70,164.49" fill="none" stroke="#bcdcf2" stroke-width="1.0"/>
<path d="M93.46,173.64 L94.24,174.75 L95.02,174.08 L95.80,174.35 L96.58,174.36 L97.36,174.35 L98.14,174.82 L98.91,174.44 L99.69,174.64 L100.47,173.70 L101.25,174.47 L102.03,174.65 L102.81,174.68 L103.59,174.82 L104.37,174.95 L105.15,174.84 L105.93,174.67 L106.71,174.87 L107.49,174.63 L108.27,174.93 L109.04,174.91 L109.82,174.58 L110.60,174.83 L111.38,175.10 L112.16,175.05 L112.94,174.90 L113.72,174.60 L114.50,175.14 L115.28,175.15 L116.06,174.89 L116.84,175.35 L117.62,175.23 L118.40,174.98 L119.18,175.08 L119.95,175.21 L120.73,175.08 L121.51,175.90 L122.29,174.98 L123.07,175.42 L123.85,175.54 L124.63,175.04 L125.41,174.87 L126.19,175.07 L126.97,175.13 L127.75,174.79 L128.53,174.72 L129.31,174.30 L130.08,174.37 L130.86,174.41 L131.64,174.11 L132.42,174.34 L133.20,174.42 L133.98,173.98 L134.76,173.90 L135.54,174.00 L136.32,174.05 L137.10,173.73 L137.88,174.28 L138.66,173.45 L139.44,173.41 L140.21,173.83 L140.99,173.35 L141.77,173.50 L142.55,173.01 L143.33,173.58 L144.11,173.24 L144.89,172.77 L145.67,172.58 L146.45,173.27 L147.23,172.80 L148.01,172.52 L148.79,172.66 L149.57,172.05 L150.35,172.60 L151.12,172.13 L151.90,172.34 L152.68,171.65 L153.46,171.85 L154.24,171.80 L155.02,171.97 L155.80,171.03 L156.58,171.10 L157.36,170.95 L158.14,170.71 L158.92,170.75 L159.70,170.83 L160.48,170.72 L161.25,170.58 L162.03,169.92 L162.81,170.43 L163.59,170.08 L164.37,169.87 L165.15,169.60 L165.93,169.37 L166.71,169.65 L167.49,169.61 L168.27,169.06 L169.05,168.63 L169.83,168.59 L170.61,168.57 L171.38,168.54 L172.16,168.25 L172.94,168.23 L173.72,167.83 L174.50,168.06 L175.28,167.70 L176.06,167.61 L176.84,167.31 L177.62,167.24 L178.40,166.56 L179.18,166.69 L179.96,166.58 L180.74,167.31 L181.51,166.82 L182.29,166.81 L183.07,166.48 L183.85,167.08 L184.63,166.23 L185.41,166.21 L186.19,166.72 L186.97,166.61 L187.75,166.52 L188.53,166.28 L189.31,166.09 L190.09,165.72 L190.87,166.20 L191.65,165.93 L192.42,166.03 L193.20,165.61 L193.98,165.81 L194.76,165.62 L195.54,166.15 L196.32,165.90 L197.10,166.00 L197.88,165.41 L198.66,165.56 L199.44,165.75 L200.22,165.74 L201.00,165.47 L201.78,165.71 L202.55,165.72 L203.33,165.34 L204.11,164.84 L204.89,165.43 L205.67,165.45 L206.45,165.55 L207.23,165.55 L208.01,165.07 L208.79,164.95 L209.57,165.10 L210.35,164.98 L211.13,164.99 L211.91,164.94 L212.68,165.29 L213.46,164.99 L214.24,164.82 L215.02,164.98 L215.80,164.87 L216.58,164.90 L217.36,164.74 L218.14,164.42 L218.92,164.67 L219.70,164.57 L220.48,164.29 L221.26,164.28 L222.04,163.98 L222.81,164.80 L223.59,164.05 L224.37,164.30 L225.15,164.09 L225.93,163.85 L226.71,163.73 L227.49,163.66 L228.27,163.80 L229.05,163.39 L229.83,163.76 L230.61,163.66 L231.39,163.36 L232.17,163.61 L232.95,162.90 L233.72,163.10 L234.50,162.76 L235.28,163.20 L236.06,163.21 L236.84,163.01 L237.62,162.81 L238.40,163.05 L239.18,162.75 L239.96,162.77 L240.74,162.32 L241.52,162.78 L242.30,162.31 L243.08,162.63 L243.85,162.64 L244.63,162.51 L245.41,162.55 L246.19,162.17 L246.97,161.90 L247.75,162.04 L248.53,161.88 L249.31,161.58 L250.09,161.85 L250.87,161.81 L251.65,161.87 L252.43,162.14 L253.21,161.53 L253.98,162.07 L254.76,161.46 L255.54,161.57 L256.32,161.25 L257.10,161.48 L257.88,161.61 L258.66,161.28 L259.44,161.45 L260.22,161.31 L261.00,161.21 L261.78,161.20 L262.56,161.16 L263.34,161.26 L264.12,161.06 L264.89,161.47 L265.67,160.96 L266.45,161.15 L267.23,160.56 L268.01,160.48 L268.79,161.18 L269.57,160.64 L270.35,160.65 L271.13,160.82 L271.91,160.40 L272.69,160.58 L273.47,160.84 L274.25,160.44 L275.02,160.36 L275.80,160.25 L276.58,160.52 L277.36,160.04 L278.14,159.98 L278.92,160.38 L279.70,160.24" fill="none" stroke="#4f96d4" stroke-width="2.4" stroke-linejoin="round"/>
<path d="M93.46,164.97 L94.24,165.27 L95.02,165.17 L95.80,166.05 L96.58,164.01 L97.36,164.23 L98.14,164.85 L98.91,164.21 L99.69,164.34 L100.47,164.67 L101.25,163.89 L102.03,164.39 L102.81,164.34 L103.59,164.49 L104.37,163.81 L105.15,163.99 L105.93,163.58 L106.71,164.01 L107.49,163.57 L108.27,163.88 L109.04,162.86 L109.82,162.90 L110.60,162.51 L111.38,162.10 L112.16,162.37 L112.94,161.09 L113.72,160.01 L114.50,161.29 L115.28,160.81 L116.06,160.16 L116.84,158.50 L117.62,158.31 L118.40,157.30 L119.18,156.98 L119.95,156.71 L120.73,156.14 L121.51,155.81 L122.29,154.83 L123.07,155.21 L123.85,154.33 L124.63,153.50 L125.41,152.23 L126.19,152.84 L126.97,152.50 L127.75,151.73 L128.53,150.48 L129.31,150.55 L130.08,149.31 L130.86,150.27 L131.64,148.39 L132.42,147.94 L133.20,148.59 L133.98,147.40 L134.76,146.43 L135.54,146.51 L136.32,145.63 L137.10,144.50 L137.88,145.01 L138.66,144.79 L139.44,144.51 L140.21,143.35 L140.99,143.32 L141.77,142.90 L142.55,142.43 L143.33,141.67 L144.11,142.04 L144.89,141.84 L145.67,141.83 L146.45,139.79 L147.23,139.90 L148.01,138.89 L148.79,139.20 L149.57,139.11 L150.35,138.06 L151.12,137.91 L151.90,137.97 L152.68,137.39 L153.46,135.71 L154.24,135.88 L155.02,135.35 L155.80,135.26 L156.58,134.90 L157.36,133.67 L158.14,133.73 L158.92,133.64 L159.70,132.85 L160.48,132.74 L161.25,131.79 L162.03,130.92 L162.81,131.38 L163.59,129.87 L164.37,130.51 L165.15,129.77 L165.93,129.81 L166.71,129.23 L167.49,128.75 L168.27,128.64 L169.05,128.39 L169.83,128.02 L170.61,127.67 L171.38,127.72 L172.16,126.74 L172.94,126.07 L173.72,125.58 L174.50,125.42 L175.28,124.24 L176.06,124.89 L176.84,124.99 L177.62,123.57 L178.40,124.57 L179.18,123.36 L179.96,123.91 L180.74,122.95 L181.51,123.64 L182.29,122.08 L183.07,122.29 L183.85,122.48 L184.63,121.05 L185.41,121.29 L186.19,121.27 L186.97,121.38 L187.75,120.78 L188.53,120.44 L189.31,119.71 L190.09,119.41 L190.87,119.77 L191.65,119.45 L192.42,119.25 L193.20,119.35 L193.98,118.77 L194.76,118.25 L195.54,117.60 L196.32,117.01 L197.10,117.67 L197.88,116.71 L198.66,116.98 L199.44,115.54 L200.22,116.21 L201.00,115.72 L201.78,116.27 L202.55,115.93 L203.33,115.26 L204.11,115.57 L204.89,115.13 L205.67,115.70 L206.45,114.55 L207.23,115.12 L208.01,113.55 L208.79,114.35 L209.57,113.66 L210.35,114.61 L211.13,113.64 L211.91,114.11 L212.68,113.80 L213.46,113.36 L214.24,113.32 L215.02,112.71 L215.80,112.39 L216.58,112.24 L217.36,112.46 L218.14,113.08 L218.92,112.81 L219.70,112.36 L220.48,113.14 L221.26,111.60 L222.04,111.85 L222.81,111.76 L223.59,111.12 L224.37,111.19 L225.15,111.39 L225.93,111.79 L226.71,111.14 L227.49,111.02 L228.27,111.64 L229.05,110.77 L229.83,111.01 L230.61,112.14 L231.39,111.05 L232.17,111.40 L232.95,110.14 L233.72,110.25 L234.50,110.94 L235.28,110.79 L236.06,110.31 L236.84,110.37 L237.62,109.37 L238.40,109.63 L239.18,110.00 L239.96,109.63 L240.74,110.77 L241.52,109.65 L242.30,109.29 L243.08,109.74 L243.85,109.75 L244.63,109.00 L245.41,108.32 L246.19,109.07 L246.97,109.59 L247.75,108.42 L248.53,109.96 L249.31,108.67 L250.09,109.12 L250.87,108.34 L251.65,108.99 L252.43,107.86 L253.21,108.33 L253.98,109.34 L254.76,109.54 L255.54,108.84 L256.32,107.96 L257.10,108.41 L257.88,108.35 L258.66,108.23 L259.44,107.68 L260.22,107.84 L261.00,107.78 L261.78,108.19 L262.56,107.07 L263.34,106.74 L264.12,107.98 L264.89,106.23 L265.67,106.82 L266.45,107.34 L267.23,108.02 L268.01,106.51 L268.79,106.42 L269.57,106.90 L270.35,107.37 L271.13,105.81 L271.91,106.50 L272.69,106.37 L273.47,104.64 L274.25,104.78 L275.02,105.22 L275.80,105.82 L276.58,105.15 L277.36,106.50 L278.14,105.38 L278.92,105.78 L279.70,106.03 L279.70,128.74 L278.92,128.62 L278.14,128.35 L277.36,129.64 L276.58,128.43 L275.80,129.01 L275.02,128.51 L274.25,128.06 L273.47,127.75 L272.69,129.33 L271.91,129.53 L271.13,128.84 L270.35,130.22 L269.57,129.78 L268.79,129.40 L268.01,129.43 L267.23,130.54 L266.45,130.10 L265.67,129.71 L264.89,129.03 L264.12,130.87 L263.34,129.83 L262.56,129.87 L261.78,130.96 L261.00,130.36 L260.22,130.38 L259.44,130.36 L258.66,130.86 L257.88,130.58 L257.10,130.58 L256.32,130.05 L255.54,130.79 L254.76,131.75 L253.98,131.83 L253.21,131.05 L252.43,130.68 L251.65,131.69 L250.87,130.79 L250.09,131.53 L249.31,131.08 L248.53,132.13 L247.75,130.66 L246.97,132.00 L246.19,131.40 L245.41,130.62 L244.63,131.35 L243.85,131.90 L243.08,131.53 L242.30,131.12 L241.52,131.41 L240.74,132.61 L239.96,131.44 L239.18,132.02 L238.40,131.58 L237.62,131.26 L236.84,132.06 L236.06,131.96 L235.28,132.56 L234.50,132.78 L233.72,131.83 L232.95,131.79 L232.17,132.93 L231.39,132.14 L230.61,133.17 L229.83,132.14 L229.05,132.03 L228.27,133.12 L227.49,132.74 L226.71,132.82 L225.93,133.55 L225.15,132.96 L224.37,132.90 L223.59,132.87 L222.81,133.51 L222.04,133.58 L221.26,133.08 L220.48,134.40 L219.70,133.56 L218.92,133.87 L218.14,134.32 L217.36,133.95 L216.58,133.68 L215.80,133.64 L215.02,133.98 L214.24,134.11 L213.46,133.96 L212.68,134.21 L211.91,134.48 L211.13,133.92 L210.35,134.87 L209.57,133.68 L208.79,134.49 L208.01,133.62 L207.23,134.71 L206.45,134.03 L205.67,135.16 L204.89,134.14 L204.11,134.59 L203.33,134.57 L202.55,135.08 L201.78,135.12 L201.00,134.60 L200.22,134.93 L199.44,133.94 L198.66,135.21 L197.88,134.93 L197.10,135.64 L196.32,134.73 L195.54,135.15 L194.76,135.66 L193.98,136.03 L193.20,136.58 L192.42,136.34 L191.65,136.57 L190.87,136.79 L190.09,136.20 L189.31,136.39 L188.53,136.91 L187.75,136.88 L186.97,137.36 L186.19,137.15 L185.41,136.88 L184.63,136.71 L183.85,138.20 L183.07,138.08 L182.29,137.76 L181.51,139.34 L180.74,138.34 L179.96,139.08 L179.18,138.32 L178.40,139.47 L177.62,138.23 L176.84,139.47 L176.06,139.33 L175.28,138.47 L174.50,139.47 L173.72,139.57 L172.94,140.07 L172.16,140.56 L171.38,141.36 L170.61,141.28 L169.83,141.38 L169.05,141.64 L168.27,141.76 L167.49,141.84 L166.71,142.24 L165.93,142.86 L165.15,142.61 L164.37,143.30 L163.59,142.65 L162.81,143.96 L162.03,143.30 L161.25,144.05 L160.48,144.89 L159.70,144.85 L158.92,145.45 L158.14,145.58 L157.36,145.54 L156.58,146.63 L155.80,146.72 L155.02,146.81 L154.24,147.15 L153.46,146.80 L152.68,148.39 L151.90,148.93 L151.12,148.64 L150.35,148.72 L149.57,149.54 L148.79,149.47 L148.01,149.07 L147.23,150.11 L146.45,149.88 L145.67,151.95 L144.89,151.81 L144.11,151.91 L143.33,151.41 L142.55,152.11 L141.77,152.45 L140.99,152.81 L140.21,152.76 L139.44,153.71 L138.66,153.75 L137.88,153.80 L137.10,153.13 L136.32,154.07 L135.54,154.85 L134.76,154.69 L133.98,155.54 L133.20,156.68 L132.42,155.90 L131.64,156.25 L130.86,158.08 L130.08,156.96 L129.31,158.12 L128.53,158.00 L127.75,159.12 L126.97,159.77 L126.19,160.08 L125.41,159.23 L124.63,160.38 L123.85,161.13 L123.07,161.88 L122.29,161.36 L121.51,162.33 L120.73,162.56 L119.95,163.05 L119.18,163.30 L118.40,163.64 L117.62,164.52 L116.84,164.66 L116.06,166.18 L115.28,166.74 L114.50,167.17 L113.72,165.99 L112.94,167.06 L112.16,168.32 L111.38,168.03 L110.60,168.37 L109.82,168.69 L109.04,168.60 L108.27,169.59 L107.49,169.23 L106.71,169.67 L105.93,169.15 L105.15,169.48 L104.37,169.28 L103.59,169.90 L102.81,169.74 L102.03,169.81 L101.25,169.24 L100.47,170.02 L99.69,169.69 L98.91,169.50 L98.14,170.02 L97.36,169.39 L96.58,169.13 L95.80,171.18 L95.02,170.26 L94.24,170.35 L93.46,170.06 Z" fill="#f5aaaa" fill-opacity="1.0" stroke="none"/>
<path d="M93.46,164.97 L94.24,165.27 L95.02,165.17 L95.80,166.05 L96.58,164.01 L97.36,164.23 L98.14,164.85 L98.91,164.21 L99.69,164.34 L100.47,164.67 L101.25,163.89 L102.03,164.39 L102.81,164.34 L103.59,164.49 L104.37,163.81 L105.15,163.99 L105.93,163.58 L106.71,164.01 L107.49,163.57 L108.27,163.88 L109.04,162.86 L109.82,162.90 L110.60,162.51 L111.38,162.10 L112.16,162.37 L112.94,161.09 L113.72,160.01 L114.50,161.29 L115.28,160.81 L116.06,160.16 L116.84,158.50 L117.62,158.31 L118.40,157.30 L119.18,156.98 L119.95,156.71 L120.73,156.14 L121.51,155.81 L122.29,154.83 L123.07,155.21 L123.85,154.33 L124.63,153.50 L125.41,152.23 L126.19,152.84 L126.97,152.50 L127.75,151.73 L128.53,150.48 L129.31,150.55 L130.08,149.31 L130.86,150.27 L131.64,148.39 L132.42,147.94 L133.20,148.59 L133.98,147.40 L134.76,146.43 L135.54,146.51 L136.32,145.63 L137.10,144.50 L137.88,145.01 L138.66,144.79 L139.44,144.51 L140.21,143.35 L140.99,143.32 L141.77,142.90 L142.55,142.43 L143.33,141.67 L144.11,142.04 L144.89,141.84 L145.67,141.83 L146.45,139.79 L147.23,139.90 L148.01,138.89 L148.79,139.20 L149.57,139.11 L150.35,138.06 L151.12,137.91 L151.90,137.97 L152.68,137.39 L153.46,135.71 L154.24,135.88 L155.02,135.35 L155.80,135.26 L156.58,134.90 L157.36,133.67 L158.14,133.73 L158.92,133.64 L159.70,132.85 L160.48,132.74 L161.25,131.79 L162.03,130.92 L162.81,131.38 L163.59,129.87 L164.37,130.51 L165.15,129.77 L165.93,129.81 L166.71,129.23 L167.49,128.75 L168.27,128.64 L169.05,128.39 L169.83,128.02 L170.61,127.67 L171.38,127.72 L172.16,126.74 L172.94,126.07 L173.72,125.58 L174.50,125.42 L175.28,124.24 L176.06,124.89 L176.84,124.99 L177.62,123.57 L178.40,124.57 L179.18,123.36 L179.96,123.91 L180.74,122.95 L181.51,123.64 L182.29,122.08 L183.07,122.29 L183.85,122.48 L184.63,121.05 L185.41,121.29 L186.19,121.27 L186.97,121.38 L187.75,120.78 L188.53,120.44 L189.31,119.71 L190.09,119.41 L190.87,119.77 L191.65,119.45 L192.42,119.25 L193.20,119.35 L193.98,118.77 L194.76,118.25 L195.54,117.60 L196.32,117.01 L197.10,117.67 L197.88,116.71 L198.66,116.98 L199.44,115.54 L200.22,116.21 L201.00,115.72 L201.78,116.27 L202.55,115.93 L203.33,115.26 L204.11,115.57 L204.89,115.13 L205.67,115.70 L206.45,114.55 L207.23,115.12 L208.01,113.55 L208.79,114.35 L209.57,113.66 L210.35,114.61 L211.13,113.64 L211.91,114.11 L212.68,113.80 L213.46,113.36 L214.24,113.32 L215.02,112.71 L215.80,112.39 L216.58,112.24 L217.36,112.46 L218.14,113.08 L218.92,112.81 L219.70,112.36 L220.48,113.14 L221.26,111.60 L222.04,111.85 L222.81,111.76 L223.59,111.12 L224.37,111.19 L225.15,111.39 L225.93,111.79 L226.71,111.14 L227.49,111.02 L228.27,111.64 L229.05,110.77 L229.83,111.01 L230.61,112.14 L231.39,111.05 L232.17,111.40 L232.95,110.14 L233.72,110.25 L234.50,110.94 L235.28,110.79 L236.06,110.31 L236.84,110.37 L237.62,109.37 L238.40,109.63 L239.18,110.00 L239.96,109.63 L240.74,110.77 L241.52,109.65 L242.30,109.29 L243.08,109.74 L243.85,109.75 L244.63,109.00 L245.41,108.32 L246.19,109.07 L246.97,109.59 L247.75,108.42 L248.53,109.96 L249.31,108.67 L250.09,109.12 L250.87,108.34 L251.65,108.99 L252.43,107.86 L253.21,108.33 L253.98,109.34 L254.76,109.54 L255.54,108.84 L256.32,107.96 L257.10,108.41 L257.88,108.35 L258.66,108.23 L259.44,107.68 L260.22,107.84 L261.00,107.78 L261.78,108.19 L262.56,107.07 L263.34,106.74 L264.12,107.98 L264.89,106.23 L265.67,106.82 L266.45,107.34 L267.23,108.02 L268.01,106.51 L268.79,106.42 L269.57,106.90 L270.35,107.37 L271.13,105.81 L271.91,106.50 L272.69,106.37 L273.47,104.64 L274.25,104.78 L275.02,105.22 L275.80,105.82 L276.58,105.15 L277.36,106.50 L278.14,105.38 L278.92,105.78 L279.70,106.03" fill="none" stroke="#ea8686" stroke-width="1.0"/>
<path d="M93.46,170.06 L94.24,170.35 L95.02,170.26 L95.80,171.18 L96.58,169.13 L97.36,169.39 L98.14,170.02 L98.91,169.50 L99.69,169.69 L100.47,170.02 L101.25,169.24 L102.03,169.81 L102.81,169.74 L103.59,169.90 L104.37,169.28 L105.15,169.48 L105.93,169.15 L106.71,169.67 L107.49,169.23 L108.27,169.59 L109.04,168.60 L109.82,168.69 L110.60,168.37 L111.38,168.03 L112.16,168.32 L112.94,167.06 L113.72,165.99 L114.50,167.17 L115.28,166.74 L116.06,166.18 L116.84,164.66 L117.62,164.52 L118.40,163.64 L119.18,163.30 L119.95,163.05 L120.73,162.56 L121.51,162.33 L122.29,161.36 L123.07,161.88 L123.85,161.13 L124.63,160.38 L125.41,159.23 L126.19,160.08 L126.97,159.77 L127.75,159.12 L128.53,158.00 L129.31,158.12 L130.08,156.96 L130.86,158.08 L131.64,156.25 L132.42,155.90 L133.20,156.68 L133.98,155.54 L134.76,154.69 L135.54,154.85 L136.32,154.07 L137.10,153.13 L137.88,153.80 L138.66,153.75 L139.44,153.71 L140.21,152.76 L140.99,152.81 L141.77,152.45 L142.55,152.11 L143.33,151.41 L144.11,151.91 L144.89,151.81 L145.67,151.95 L146.45,149.88 L147.23,150.11 L148.01,149.07 L148.79,149.47 L149.57,149.54 L150.35,148.72 L151.12,148.64 L151.90,148.93 L152.68,148.39 L153.46,146.80 L154.24,147.15 L155.02,146.81 L155.80,146.72 L156.58,146.63 L157.36,145.54 L158.14,145.58 L158.92,145.45 L159.70,144.85 L160.48,144.89 L161.25,144.05 L162.03,143.30 L162.81,143.96 L163.59,142.65 L164.37,143.30 L165.15,142.61 L165.93,142.86 L166.71,142.24 L167.49,141.84 L168.27,141.76 L169.05,141.64 L169.83,141.38 L170.61,141.28 L171.38,141.36 L172.16,140.56 L172.94,140.07 L173.72,139.57 L174.50,139.47 L175.28,138.47 L176.06,139.33 L176.84,139.47 L177.62,138.23 L178.40,139.47 L179.18,138.32 L179.96,139.08 L180.74,138.34 L181.51,139.34 L182.29,137.76 L183.07,138.08 L183.85,138.20 L184.63,136.71 L185.41,136.88 L186.19,137.15 L186.97,137.36 L187.75,136.88 L188.53,136.91 L189.31,136.39 L190.09,136.20 L190.87,136.79 L191.65,136.57 L192.42,136.34 L193.20,136.58 L193.98,136.03 L194.76,135.66 L195.54,135.15 L196.32,134.73 L197.10,135.64 L197.88,134.93 L198.66,135.21 L199.44,133.94 L200.22,134.93 L201.00,134.60 L201.78,135.12 L202.55,135.08 L203.33,134.57 L204.11,134.59 L204.89,134.14 L205.67,135.16 L206.45,134.03 L207.23,134.71 L208.01,133.62 L208.79,134.49 L209.57,133.68 L210.35,134.87 L211.13,133.92 L211.91,134.48 L212.68,134.21 L213.46,133.96 L214.24,134.11 L215.02,133.98 L215.80,133.64 L216.58,133.68 L217.36,133.95 L218.14,134.32 L218.92,133.87 L219.70,133.56 L220.48,134.40 L221.26,133.08 L222.04,133.58 L222.81,133.51 L223.59,132.87 L224.37,132.90 L225.15,132.96 L225.93,133.55 L226.71,132.82 L227.49,132.74 L228.27,133.12 L229.05,132.03 L229.83,132.14 L230.61,133.17 L231.39,132.14 L232.17,132.93 L232.95,131.79 L233.72,131.83 L234.50,132.78 L235.28,132.56 L236.06,131.96 L236.84,132.06 L237.62,131.26 L238.40,131.58 L239.18,132.02 L239.96,131.44 L240.74,132.61 L241.52,131.41 L242.30,131.12 L243.08,131.53 L243.85,131.90 L244.63,131.35 L245.41,130.62 L246.19,131.40 L246.97,132.00 L247.75,130.66 L248.53,132.13 L249.31,131.08 L250.09,131.53 L250.87,130.79 L251.65,131.69 L252.43,130.68 L253.21,131.05 L253.98,131.83 L254.76,131.75 L255.54,130.79 L256.32,130.05 L257.10,130.58 L257.88,130.58 L258.66,130.86 L259.44,130.36 L260.22,130.38 L261.00,130.36 L261.78,130.96 L262.56,129.87 L263.34,129.83 L264.12,130.87 L264.89,129.03 L265.67,129.71 L266.45,130.10 L267.23,130.54 L268.01,129.43 L268.79,129.40 L269.57,129.78 L270.35,130.22 L271.13,128.84 L271.91,129.53 L272.69,129.33 L273.47,127.75 L274.25,128.06 L275.02,128.51 L275.80,129.01 L276.58,128.43 L277.36,129.64 L278.14,128.35 L278.92,128.62 L279.70,128.74" fill="none" stroke="#ea8686" stroke-width="1.0"/>
<path d="M93.46,167.51 L94.24,167.81 L95.02,167.72 L95.80,168.61 L96.58,166.57 L97.36,166.81 L98.14,167.43 L98.91,166.85 L99.69,167.02 L100.47,167.34 L101.25,166.56 L102.03,167.10 L102.81,167.04 L103.59,167.19 L104.37,166.54 L105.15,166.74 L105.93,166.37 L106.71,166.84 L107.49,166.40 L108.27,166.73 L109.04,165.73 L109.82,165.80 L110.60,165.44 L111.38,165.07 L112.16,165.35 L112.94,164.07 L113.72,163.00 L114.50,164.23 L115.28,163.78 L116.06,163.17 L116.84,161.58 L117.62,161.41 L118.40,160.47 L119.18,160.14 L119.95,159.88 L120.73,159.35 L121.51,159.07 L122.29,158.10 L123.07,158.54 L123.85,157.73 L124.63,156.94 L125.41,155.73 L126.19,156.46 L126.97,156.14 L127.75,155.43 L128.53,154.24 L129.31,154.34 L130.08,153.14 L130.86,154.17 L131.64,152.32 L132.42,151.92 L133.20,152.63 L133.98,151.47 L134.76,150.56 L135.54,150.68 L136.32,149.85 L137.10,148.81 L137.88,149.41 L138.66,149.27 L139.44,149.11 L140.21,148.06 L140.99,148.07 L141.77,147.68 L142.55,147.27 L143.33,146.54 L144.11,146.97 L144.89,146.83 L145.67,146.89 L146.45,144.84 L147.23,145.01 L148.01,143.98 L148.79,144.34 L149.57,144.32 L150.35,143.39 L151.12,143.27 L151.90,143.45 L152.68,142.89 L153.46,141.25 L154.24,141.52 L155.02,141.08 L155.80,140.99 L156.58,140.77 L157.36,139.61 L158.14,139.66 L158.92,139.55 L159.70,138.85 L160.48,138.82 L161.25,137.92 L162.03,137.11 L162.81,137.67 L163.59,136.26 L164.37,136.90 L165.15,136.19 L165.93,136.34 L166.71,135.73 L167.49,135.29 L168.27,135.20 L169.05,135.02 L169.83,134.70 L170.61,134.48 L171.38,134.54 L172.16,133.65 L172.94,133.07 L173.72,132.57 L174.50,132.44 L175.28,131.35 L176.06,132.11 L176.84,132.23 L177.62,130.90 L178.40,132.02 L179.18,130.84 L179.96,131.49 L180.74,130.64 L181.51,131.49 L182.29,129.92 L183.07,130.19 L183.85,130.34 L184.63,128.88 L185.41,129.09 L186.19,129.21 L186.97,129.37 L187.75,128.83 L188.53,128.68 L189.31,128.05 L190.09,127.80 L190.87,128.28 L191.65,128.01 L192.42,127.79 L193.20,127.96 L193.98,127.40 L194.76,126.95 L195.54,126.38 L196.32,125.87 L197.10,126.66 L197.88,125.82 L198.66,126.10 L199.44,124.74 L200.22,125.57 L201.00,125.16 L201.78,125.69 L202.55,125.50 L203.33,124.91 L204.11,125.08 L204.89,124.64 L205.67,125.43 L206.45,124.29 L207.23,124.91 L208.01,123.59 L208.79,124.42 L209.57,123.67 L210.35,124.74 L211.13,123.78 L211.91,124.29 L212.68,124.00 L213.46,123.66 L214.24,123.72 L215.02,123.34 L215.80,123.02 L216.58,122.96 L217.36,123.20 L218.14,123.70 L218.92,123.34 L219.70,122.96 L220.48,123.77 L221.26,122.34 L222.04,122.71 L222.81,122.64 L223.59,121.99 L224.37,122.05 L225.15,122.18 L225.93,122.67 L226.71,121.98 L227.49,121.88 L228.27,122.38 L229.05,121.40 L229.83,121.57 L230.61,122.65 L231.39,121.60 L232.17,122.17 L232.95,120.96 L233.72,121.04 L234.50,121.86 L235.28,121.68 L236.06,121.13 L236.84,121.22 L237.62,120.31 L238.40,120.60 L239.18,121.01 L239.96,120.54 L240.74,121.69 L241.52,120.53 L242.30,120.21 L243.08,120.64 L243.85,120.83 L244.63,120.17 L245.41,119.47 L246.19,120.23 L246.97,120.80 L247.75,119.54 L248.53,121.04 L249.31,119.87 L250.09,120.33 L250.87,119.56 L251.65,120.34 L252.43,119.27 L253.21,119.69 L253.98,120.59 L254.76,120.65 L255.54,119.81 L256.32,119.01 L257.10,119.50 L257.88,119.47 L258.66,119.54 L259.44,119.02 L260.22,119.11 L261.00,119.07 L261.78,119.58 L262.56,118.47 L263.34,118.28 L264.12,119.43 L264.89,117.63 L265.67,118.26 L266.45,118.72 L267.23,119.28 L268.01,117.97 L268.79,117.91 L269.57,118.34 L270.35,118.79 L271.13,117.32 L271.91,118.02 L272.69,117.85 L273.47,116.19 L274.25,116.42 L275.02,116.86 L275.80,117.42 L276.58,116.79 L277.36,118.07 L278.14,116.87 L278.92,117.20 L279.70,117.39" fill="none" stroke="#d8141c" stroke-width="2.9" stroke-linejoin="round"/>
<path d="M93.46,155.77 L94.24,155.55 L95.02,155.90 L95.80,156.87 L96.58,155.71 L97.36,156.08 L98.14,156.75 L98.91,156.25 L99.69,156.53 L100.47,156.71 L101.25,157.03 L102.03,156.90 L102.81,157.75 L103.59,157.56 L104.37,157.81 L105.15,157.16 L105.93,157.42 L106.71,157.52 L107.49,157.62 L108.27,157.12 L109.04,156.76 L109.82,156.62 L110.60,155.45 L111.38,155.26 L112.16,156.94 L112.94,156.09 L113.72,154.71 L114.50,154.36 L115.28,153.59 L116.06,153.13 L116.84,151.62 L117.62,152.86 L118.40,151.93 L119.18,150.00 L119.95,150.15 L120.73,149.49 L121.51,149.51 L122.29,149.49 L123.07,147.95 L123.85,147.34 L124.63,147.44 L125.41,146.53 L126.19,145.63 L126.97,145.53 L127.75,144.58 L128.53,143.95 L129.31,143.42 L130.08,143.09 L130.86,141.82 L131.64,140.96 L132.42,140.61 L133.20,140.61 L133.98,139.16 L134.76,139.23 L135.54,137.90 L136.32,138.29 L137.10,136.53 L137.88,136.35 L138.66,136.36 L139.44,135.11 L140.21,134.20 L140.99,133.40 L141.77,133.38 L142.55,132.74 L143.33,131.35 L144.11,131.07 L144.89,129.99 L145.67,129.03 L146.45,129.61 L147.23,127.81 L148.01,126.59 L148.79,126.65 L149.57,126.22 L150.35,124.68 L151.12,124.36 L151.90,123.35 L152.68,123.32 L153.46,123.24 L154.24,121.72 L155.02,121.10 L155.80,119.60 L156.58,119.16 L157.36,119.39 L158.14,118.58 L158.92,116.79 L159.70,116.15 L160.48,116.13 L161.25,115.08 L162.03,114.04 L162.81,113.32 L163.59,112.44 L164.37,112.27 L165.15,111.85 L165.93,111.25 L166.71,109.82 L167.49,111.00 L168.27,109.07 L169.05,108.33 L169.83,108.54 L170.61,106.97 L171.38,106.86 L172.16,105.47 L172.94,105.23 L173.72,104.15 L174.50,103.19 L175.28,103.07 L176.06,103.12 L176.84,102.99 L177.62,100.59 L178.40,100.96 L179.18,100.66 L179.96,99.52 L180.74,99.13 L181.51,97.99 L182.29,97.89 L183.07,97.45 L183.85,97.45 L184.63,96.19 L185.41,96.39 L186.19,94.91 L186.97,93.75 L187.75,94.82 L188.53,94.72 L189.31,92.46 L190.09,90.92 L190.87,92.26 L191.65,91.63 L192.42,90.09 L193.20,90.39 L193.98,89.59 L194.76,88.96 L195.54,87.99 L196.32,87.87 L197.10,86.91 L197.88,86.61 L198.66,86.35 L199.44,85.52 L200.22,85.34 L201.00,84.38 L201.78,84.56 L202.55,84.11 L203.33,82.41 L204.11,82.90 L204.89,82.42 L205.67,81.71 L206.45,81.80 L207.23,81.25 L208.01,80.55 L208.79,80.25 L209.57,80.58 L210.35,79.30 L211.13,79.75 L211.91,79.67 L212.68,79.32 L213.46,78.61 L214.24,76.91 L215.02,77.91 L215.80,76.83 L216.58,77.52 L217.36,75.98 L218.14,75.25 L218.92,75.54 L219.70,75.36 L220.48,74.67 L221.26,74.20 L222.04,73.93 L222.81,73.06 L223.59,73.60 L224.37,73.78 L225.15,73.25 L225.93,72.95 L226.71,72.36 L227.49,72.32 L228.27,71.84 L229.05,72.42 L229.83,70.83 L230.61,71.57 L231.39,71.60 L232.17,70.49 L232.95,69.90 L233.72,70.04 L234.50,69.82 L235.28,70.10 L236.06,67.66 L236.84,68.51 L237.62,69.34 L238.40,68.88 L239.18,68.28 L239.96,68.97 L240.74,67.73 L241.52,67.94 L242.30,66.82 L243.08,66.63 L243.85,68.36 L244.63,66.74 L245.41,67.11 L246.19,65.51 L246.97,65.66 L247.75,65.11 L248.53,65.70 L249.31,63.96 L250.09,63.41 L250.87,64.94 L251.65,64.05 L252.43,64.30 L253.21,63.74 L253.98,64.24 L254.76,62.21 L255.54,63.31 L256.32,62.55 L257.10,61.75 L257.88,62.07 L258.66,61.51 L259.44,61.44 L260.22,61.20 L261.00,61.55 L261.78,60.96 L262.56,60.53 L263.34,60.21 L264.12,59.50 L264.89,59.40 L265.67,58.33 L266.45,58.73 L267.23,58.38 L268.01,58.48 L268.79,58.10 L269.57,58.36 L270.35,56.98 L271.13,57.64 L271.91,56.95 L272.69,56.02 L273.47,55.50 L274.25,55.67 L275.02,56.06 L275.80,54.35 L276.58,54.02 L277.36,54.67 L278.14,53.14 L278.92,53.80 L279.70,53.91 L279.70,88.33 L278.92,88.30 L278.14,87.75 L277.36,89.07 L276.58,88.42 L275.80,88.50 L275.02,90.05 L274.25,89.27 L273.47,89.15 L272.69,89.27 L271.91,90.14 L271.13,90.48 L270.35,89.91 L269.57,91.07 L268.79,91.12 L268.01,91.49 L267.23,91.59 L266.45,92.05 L265.67,91.86 L264.89,92.53 L264.12,92.64 L263.34,92.94 L262.56,93.04 L261.78,93.42 L261.00,94.17 L260.22,93.92 L259.44,94.66 L258.66,94.74 L257.88,95.11 L257.10,94.65 L256.32,95.19 L255.54,95.64 L254.76,94.11 L253.98,95.97 L253.21,95.59 L252.43,96.21 L251.65,95.78 L250.87,96.93 L250.09,95.56 L249.31,95.69 L248.53,97.59 L247.75,96.89 L246.97,97.22 L246.19,96.81 L245.41,98.66 L244.63,97.69 L243.85,99.55 L243.08,97.72 L242.30,97.70 L241.52,98.86 L240.74,98.82 L239.96,99.89 L239.18,99.20 L238.40,99.95 L237.62,100.28 L236.84,99.29 L236.06,98.35 L235.28,100.46 L234.50,99.92 L233.72,99.73 L232.95,99.35 L232.17,99.90 L231.39,101.15 L230.61,100.91 L229.83,100.50 L229.05,102.03 L228.27,100.98 L227.49,101.11 L226.71,101.30 L225.93,101.29 L225.15,101.44 L224.37,101.80 L223.59,101.49 L222.81,100.53 L222.04,101.53 L221.26,101.70 L220.48,102.25 L219.70,103.03 L218.92,102.98 L218.14,102.62 L217.36,103.50 L216.58,104.95 L215.80,103.78 L215.02,104.80 L214.24,103.40 L213.46,104.56 L212.68,105.05 L211.91,105.53 L211.13,105.59 L210.35,105.13 L209.57,106.68 L208.79,106.09 L208.01,106.28 L207.23,106.95 L206.45,107.25 L205.67,106.98 L204.89,107.53 L204.11,107.71 L203.33,107.21 L202.55,109.00 L201.78,109.32 L201.00,109.05 L200.22,109.95 L199.44,109.95 L198.66,110.60 L197.88,110.56 L197.10,110.76 L196.32,111.57 L195.54,111.46 L194.76,112.48 L193.98,113.04 L193.20,113.64 L192.42,113.40 L191.65,114.90 L190.87,115.02 L190.09,113.51 L189.31,115.11 L188.53,117.25 L187.75,117.14 L186.97,115.91 L186.19,116.71 L185.41,118.12 L184.63,117.70 L183.85,118.75 L183.07,118.99 L182.29,119.54 L181.51,119.56 L180.74,120.58 L179.96,120.83 L179.18,121.62 L178.40,121.70 L177.62,121.04 L176.84,123.23 L176.06,123.41 L175.28,123.10 L174.50,123.09 L173.72,123.75 L172.94,124.58 L172.16,124.31 L171.38,125.64 L170.61,125.52 L169.83,126.95 L169.05,126.67 L168.27,127.22 L167.49,128.70 L166.71,127.40 L165.93,128.51 L165.15,128.84 L164.37,129.17 L163.59,129.47 L162.81,130.20 L162.03,130.69 L161.25,131.33 L160.48,132.19 L159.70,131.96 L158.92,132.35 L158.14,134.09 L157.36,135.02 L156.58,134.52 L155.80,134.72 L155.02,135.82 L154.24,136.09 L153.46,137.34 L152.68,137.28 L151.90,137.16 L151.12,138.12 L150.35,138.52 L149.57,139.96 L148.79,140.23 L148.01,139.90 L147.23,141.01 L146.45,142.55 L145.67,141.76 L144.89,142.63 L144.11,143.58 L143.33,143.81 L142.55,145.09 L141.77,145.56 L140.99,145.39 L140.21,146.06 L139.44,146.77 L138.66,147.76 L137.88,147.64 L137.10,147.66 L136.32,149.28 L135.54,148.74 L134.76,150.09 L133.98,149.96 L133.20,151.33 L132.42,151.19 L131.64,151.30 L130.86,151.83 L130.08,152.79 L129.31,152.89 L128.53,153.30 L127.75,153.90 L126.97,154.88 L126.19,154.85 L125.41,155.64 L124.63,156.36 L123.85,156.05 L123.07,156.42 L122.29,157.92 L121.51,157.74 L120.73,157.55 L119.95,158.00 L119.18,157.71 L118.40,159.51 L117.62,160.47 L116.84,159.26 L116.06,160.84 L115.28,161.35 L114.50,162.18 L113.72,162.43 L112.94,163.72 L112.16,164.51 L111.38,162.83 L110.60,162.97 L109.82,164.12 L109.04,164.22 L108.27,164.62 L107.49,165.05 L106.71,164.88 L105.93,164.78 L105.15,164.50 L104.37,165.00 L103.59,164.77 L102.81,164.97 L102.03,164.14 L101.25,164.29 L100.47,164.04 L99.69,163.86 L98.91,163.61 L98.14,164.05 L97.36,163.36 L96.58,162.94 L95.80,163.95 L95.02,162.91 L94.24,162.53 L93.46,162.67 Z" fill="#a9d3ee" fill-opacity="1.0" stroke="none"/>
<path d="M93.46,155.77 L94.24,155.55 L95.02,155.90 L95.80,156.87 L96.58,155.71 L97.36,156.08 L98.14,156.75 L98.91,156.25 L99.69,156.53 L100.47,156.71 L101.25,157.03 L102.03,156.90 L102.81,157.75 L103.59,157.56 L104.37,157.81 L105.15,157.16 L105.93,157.42 L106.71,157.52 L107.49,157.62 L108.27,157.12 L109.04,156.76 L109.82,156.62 L110.60,155.45 L111.38,155.26 L112.16,156.94 L112.94,156.09 L113.72,154.71 L114.50,154.36 L115.28,153.59 L116.06,153.13 L116.84,151.62 L117.62,152.86 L118.40,151.93 L119.18,150.00 L119.95,150.15 L120.73,149.49 L121.51,149.51 L122.29,149.49 L123.07,147.95 L123.85,147.34 L124.63,147.44 L125.41,146.53 L126.19,145.63 L126.97,145.53 L127.75,144.58 L128.53,143.95 L129.31,143.42 L130.08,143.09 L130.86,141.82 L131.64,140.96 L132.42,140.61 L133.20,140.61 L133.98,139.16 L134.76,139.23 L135.54,137.90 L136.32,138.29 L137.10,136.53 L137.88,136.35 L138.66,136.36 L139.44,135.11 L140.21,134.20 L140.99,133.40 L141.77,133.38 L142.55,132.74 L143.33,131.35 L144.11,131.07 L144.89,129.99 L145.67,129.03 L146.45,129.61 L147.23,127.81 L148.01,126.59 L148.79,126.65 L149.57,126.22 L150.35,124.68 L151.12,124.36 L151.90,123.35 L152.68,123.32 L153.46,123.24 L154.24,121.72 L155.02,121.10 L155.80,119.60 L156.58,119.16 L157.36,119.39 L158.14,118.58 L158.92,116.79 L159.70,116.15 L160.48,116.13 L161.25,115.08 L162.03,114.04 L162.81,113.32 L163.59,112.44 L164.37,112.27 L165.15,111.85 L165.93,111.25 L166.71,109.82 L167.49,111.00 L168.27,109.07 L169.05,108.33 L169.83,108.54 L170.61,106.97 L171.38,106.86 L172.16,105.47 L172.94,105.23 L173.72,104.15 L174.50,103.19 L175.28,103.07 L176.06,103.12 L176.84,102.99 L177.62,100.59 L178.40,100.96 L179.18,100.66 L179.96,99.52 L180.74,99.13 L181.51,97.99 L182.29,97.89 L183.07,97.45 L183.85,97.45 L184.63,96.19 L185.41,96.39 L186.19,94.91 L186.97,93.75 L187.75,94.82 L188.53,94.72 L189.31,92.46 L190.09,90.92 L190.87,92.26 L191.65,91.63 L192.42,90.09 L193.20,90.39 L193.98,89.59 L194.76,88.96 L195.54,87.99 L196.32,87.87 L197.10,86.91 L197.88,86.61 L198.66,86.35 L199.44,85.52 L200.22,85.34 L201.00,84.38 L201.78,84.56 L202.55,84.11 L203.33,82.41 L204.11,82.90 L204.89,82.42 L205.67,81.71 L206.45,81.80 L207.23,81.25 L208.01,80.55 L208.79,80.25 L209.57,80.58 L210.35,79.30 L211.13,79.75 L211.91,79.67 L212.68,79.32 L213.46,78.61 L214.24,76.91 L215.02,77.91 L215.80,76.83 L216.58,77.52 L217.36,75.98 L218.14,75.25 L218.92,75.54 L219.70,75.36 L220.48,74.67 L221.26,74.20 L222.04,73.93 L222.81,73.06 L223.59,73.60 L224.37,73.78 L225.15,73.25 L225.93,72.95 L226.71,72.36 L227.49,72.32 L228.27,71.84 L229.05,72.42 L229.83,70.83 L230.61,71.57 L231.39,71.60 L232.17,70.49 L232.95,69.90 L233.72,70.04 L234.50,69.82 L235.28,70.10 L236.06,67.66 L236.84,68.51 L237.62,69.34 L238.40,68.88 L239.18,68.28 L239.96,68.97 L240.74,67.73 L241.52,67.94 L242.30,66.82 L243.08,66.63 L243.85,68.36 L244.63,66.74 L245.41,67.11 L246.19,65.51 L246.97,65.66 L247.75,65.11 L248.53,65.70 L249.31,63.96 L250.09,63.41 L250.87,64.94 L251.65,64.05 L252.43,64.30 L253.21,63.74 L253.98,64.24 L254.76,62.21 L255.54,63.31 L256.32,62.55 L257.10,61.75 L257.88,62.07 L258.66,61.51 L259.44,61.44 L260.22,61.20 L261.00,61.55 L261.78,60.96 L262.56,60.53 L263.34,60.21 L264.12,59.50 L264.89,59.40 L265.67,58.33 L266.45,58.73 L267.23,58.38 L268.01,58.48 L268.79,58.10 L269.57,58.36 L270.35,56.98 L271.13,57.64 L271.91,56.95 L272.69,56.02 L273.47,55.50 L274.25,55.67 L275.02,56.06 L275.80,54.35 L276.58,54.02 L277.36,54.67 L278.14,53.14 L278.92,53.80 L279.70,53.91" fill="none" stroke="#86bde0" stroke-width="1.0"/>
<path d="M93.46,162.67 L94.24,162.53 L95.02,162.91 L95.80,163.95 L96.58,162.94 L97.36,163.36 L98.14,164.05 L98.91,163.61 L99.69,163.86 L100.47,164.04 L101.25,164.29 L102.03,164.14 L102.81,164.97 L103.59,164.77 L104.37,165.00 L105.15,164.50 L105.93,164.78 L106.71,164.88 L107.49,165.05 L108.27,164.62 L109.04,164.22 L109.82,164.12 L110.60,162.97 L111.38,162.83 L112.16,164.51 L112.94,163.72 L113.72,162.43 L114.50,162.18 L115.28,161.35 L116.06,160.84 L116.84,159.26 L117.62,160.47 L118.40,159.51 L119.18,157.71 L119.95,158.00 L120.73,157.55 L121.51,157.74 L122.29,157.92 L123.07,156.42 L123.85,156.05 L124.63,156.36 L125.41,155.64 L126.19,154.85 L126.97,154.88 L127.75,153.90 L128.53,153.30 L129.31,152.89 L130.08,152.79 L130.86,151.83 L131.64,151.30 L132.42,151.19 L133.20,151.33 L133.98,149.96 L134.76,150.09 L135.54,148.74 L136.32,149.28 L137.10,147.66 L137.88,147.64 L138.66,147.76 L139.44,146.77 L140.21,146.06 L140.99,145.39 L141.77,145.56 L142.55,145.09 L143.33,143.81 L144.11,143.58 L144.89,142.63 L145.67,141.76 L146.45,142.55 L147.23,141.01 L148.01,139.90 L148.79,140.23 L149.57,139.96 L150.35,138.52 L151.12,138.12 L151.90,137.16 L152.68,137.28 L153.46,137.34 L154.24,136.09 L155.02,135.82 L155.80,134.72 L156.58,134.52 L157.36,135.02 L158.14,134.09 L158.92,132.35 L159.70,131.96 L160.48,132.19 L161.25,131.33 L162.03,130.69 L162.81,130.20 L163.59,129.47 L164.37,129.17 L165.15,128.84 L165.93,128.51 L166.71,127.40 L167.49,128.70 L168.27,127.22 L169.05,126.67 L169.83,126.95 L170.61,125.52 L171.38,125.64 L172.16,124.31 L172.94,124.58 L173.72,123.75 L174.50,123.09 L175.28,123.10 L176.06,123.41 L176.84,123.23 L177.62,121.04 L178.40,121.70 L179.18,121.62 L179.96,120.83 L180.74,120.58 L181.51,119.56 L182.29,119.54 L183.07,118.99 L183.85,118.75 L184.63,117.70 L185.41,118.12 L186.19,116.71 L186.97,115.91 L187.75,117.14 L188.53,117.25 L189.31,115.11 L190.09,113.51 L190.87,115.02 L191.65,114.90 L192.42,113.40 L193.20,113.64 L193.98,113.04 L194.76,112.48 L195.54,111.46 L196.32,111.57 L197.10,110.76 L197.88,110.56 L198.66,110.60 L199.44,109.95 L200.22,109.95 L201.00,109.05 L201.78,109.32 L202.55,109.00 L203.33,107.21 L204.11,107.71 L204.89,107.53 L205.67,106.98 L206.45,107.25 L207.23,106.95 L208.01,106.28 L208.79,106.09 L209.57,106.68 L210.35,105.13 L211.13,105.59 L211.91,105.53 L212.68,105.05 L213.46,104.56 L214.24,103.40 L215.02,104.80 L215.80,103.78 L216.58,104.95 L217.36,103.50 L218.14,102.62 L218.92,102.98 L219.70,103.03 L220.48,102.25 L221.26,101.70 L222.04,101.53 L222.81,100.53 L223.59,101.49 L224.37,101.80 L225.15,101.44 L225.93,101.29 L226.71,101.30 L227.49,101.11 L228.27,100.98 L229.05,102.03 L229.83,100.50 L230.61,100.91 L231.39,101.15 L232.17,99.90 L232.95,99.35 L233.72,99.73 L234.50,99.92 L235.28,100.46 L236.06,98.35 L236.84,99.29 L237.62,100.28 L238.40,99.95 L239.18,99.20 L239.96,99.89 L240.74,98.82 L241.52,98.86 L242.30,97.70 L243.08,97.72 L243.85,99.55 L244.63,97.69 L245.41,98.66 L246.19,96.81 L246.97,97.22 L247.75,96.89 L248.53,97.59 L249.31,95.69 L250.09,95.56 L250.87,96.93 L251.65,95.78 L252.43,96.21 L253.21,95.59 L253.98,95.97 L254.76,94.11 L255.54,95.64 L256.32,95.19 L257.10,94.65 L257.88,95.11 L258.66,94.74 L259.44,94.66 L260.22,93.92 L261.00,94.17 L261.78,93.42 L262.56,93.04 L263.34,92.94 L264.12,92.64 L264.89,92.53 L265.67,91.86 L266.45,92.05 L267.23,91.59 L268.01,91.49 L268.79,91.12 L269.57,91.07 L270.35,89.91 L271.13,90.48 L271.91,90.14 L272.69,89.27 L273.47,89.15 L274.25,89.27 L275.02,90.05 L275.80,88.50 L276.58,88.42 L277.36,89.07 L278.14,87.75 L278.92,88.30 L279.70,88.33" fill="none" stroke="#86bde0" stroke-width="1.0"/>
<path d="M93.46,159.22 L94.24,159.04 L95.02,159.40 L95.80,160.41 L96.58,159.33 L97.36,159.72 L98.14,160.40 L98.91,159.93 L99.69,160.19 L100.47,160.37 L101.25,160.66 L102.03,160.52 L102.81,161.36 L103.59,161.16 L104.37,161.40 L105.15,160.83 L105.93,161.10 L106.71,161.20 L107.49,161.33 L108.27,160.87 L109.04,160.49 L109.82,160.37 L110.60,159.21 L111.38,159.05 L112.16,160.73 L112.94,159.91 L113.72,158.57 L114.50,158.27 L115.28,157.47 L116.06,156.99 L116.84,155.44 L117.62,156.67 L118.40,155.72 L119.18,153.85 L119.95,154.07 L120.73,153.52 L121.51,153.62 L122.29,153.71 L123.07,152.19 L123.85,151.69 L124.63,151.90 L125.41,151.09 L126.19,150.24 L126.97,150.21 L127.75,149.24 L128.53,148.63 L129.31,148.15 L130.08,147.94 L130.86,146.82 L131.64,146.13 L132.42,145.90 L133.20,145.97 L133.98,144.56 L134.76,144.66 L135.54,143.32 L136.32,143.79 L137.10,142.09 L137.88,142.00 L138.66,142.06 L139.44,140.94 L140.21,140.13 L140.99,139.40 L141.77,139.47 L142.55,138.92 L143.33,137.58 L144.11,137.32 L144.89,136.31 L145.67,135.40 L146.45,136.08 L147.23,134.41 L148.01,133.24 L148.79,133.44 L149.57,133.09 L150.35,131.60 L151.12,131.24 L151.90,130.26 L152.68,130.30 L153.46,130.29 L154.24,128.91 L155.02,128.46 L155.80,127.16 L156.58,126.84 L157.36,127.21 L158.14,126.33 L158.92,124.57 L159.70,124.05 L160.48,124.16 L161.25,123.20 L162.03,122.36 L162.81,121.76 L163.59,120.96 L164.37,120.72 L165.15,120.35 L165.93,119.88 L166.71,118.61 L167.49,119.85 L168.27,118.14 L169.05,117.50 L169.83,117.75 L170.61,116.24 L171.38,116.25 L172.16,114.89 L172.94,114.90 L173.72,113.95 L174.50,113.14 L175.28,113.09 L176.06,113.27 L176.84,113.11 L177.62,110.82 L178.40,111.33 L179.18,111.14 L179.96,110.18 L180.74,109.85 L181.51,108.78 L182.29,108.71 L183.07,108.22 L183.85,108.10 L184.63,106.95 L185.41,107.25 L186.19,105.81 L186.97,104.83 L187.75,105.98 L188.53,105.98 L189.31,103.79 L190.09,102.22 L190.87,103.64 L191.65,103.27 L192.42,101.75 L193.20,102.01 L193.98,101.32 L194.76,100.72 L195.54,99.72 L196.32,99.72 L197.10,98.84 L197.88,98.59 L198.66,98.48 L199.44,97.74 L200.22,97.65 L201.00,96.71 L201.78,96.94 L202.55,96.55 L203.33,94.81 L204.11,95.30 L204.89,94.98 L205.67,94.34 L206.45,94.53 L207.23,94.10 L208.01,93.42 L208.79,93.17 L209.57,93.63 L210.35,92.22 L211.13,92.67 L211.91,92.60 L212.68,92.19 L213.46,91.58 L214.24,90.15 L215.02,91.36 L215.80,90.30 L216.58,91.23 L217.36,89.74 L218.14,88.94 L218.92,89.26 L219.70,89.19 L220.48,88.46 L221.26,87.95 L222.04,87.73 L222.81,86.79 L223.59,87.55 L224.37,87.79 L225.15,87.34 L225.93,87.12 L226.71,86.83 L227.49,86.71 L228.27,86.41 L229.05,87.22 L229.83,85.67 L230.61,86.24 L231.39,86.37 L232.17,85.19 L232.95,84.63 L233.72,84.88 L234.50,84.87 L235.28,85.28 L236.06,83.01 L236.84,83.90 L237.62,84.81 L238.40,84.42 L239.18,83.74 L239.96,84.43 L240.74,83.28 L241.52,83.40 L242.30,82.26 L243.08,82.18 L243.85,83.95 L244.63,82.21 L245.41,82.88 L246.19,81.16 L246.97,81.44 L247.75,81.00 L248.53,81.64 L249.31,79.83 L250.09,79.49 L250.87,80.94 L251.65,79.92 L252.43,80.25 L253.21,79.66 L253.98,80.11 L254.76,78.16 L255.54,79.47 L256.32,78.87 L257.10,78.20 L257.88,78.59 L258.66,78.12 L259.44,78.05 L260.22,77.56 L261.00,77.86 L261.78,77.19 L262.56,76.79 L263.34,76.57 L264.12,76.07 L264.89,75.96 L265.67,75.10 L266.45,75.39 L267.23,74.99 L268.01,74.98 L268.79,74.61 L269.57,74.72 L270.35,73.45 L271.13,74.06 L271.91,73.55 L272.69,72.65 L273.47,72.33 L274.25,72.47 L275.02,73.06 L275.80,71.43 L276.58,71.22 L277.36,71.87 L278.14,70.45 L278.92,71.05 L279.70,71.12" fill="none" stroke="#2b318c" stroke-width="3.2" stroke-linejoin="round"/>
<line x1="87.70" y1="47.50" x2="87.70" y2="180.70" stroke="#1a1a1a" stroke-width="1.5" />
<line x1="87.00" y1="180.00" x2="287.00" y2="180.00" stroke="#1a1a1a" stroke-width="1.5" />
<line x1="83.00" y1="180.00" x2="87.70" y2="180.00" stroke="#1a1a1a" stroke-width="1.4" />
<text x="78.30" y="184.30" font-size="12" text-anchor="end" fill="#231f20" stroke="#231f20" stroke-width="0.32" >0</text>
<line x1="83.00" y1="148.80" x2="87.70" y2="148.80" stroke="#1a1a1a" stroke-width="1.4" />
<text x="78.30" y="153.10" font-size="12" text-anchor="end" fill="#231f20" stroke="#231f20" stroke-width="0.32" >2</text>
<line x1="83.00" y1="117.60" x2="87.70" y2="117.60" stroke="#1a1a1a" stroke-width="1.4" />
<text x="78.30" y="121.90" font-size="12" text-anchor="end" fill="#231f20" stroke="#231f20" stroke-width="0.32" >4</text>
<line x1="83.00" y1="86.40" x2="87.70" y2="86.40" stroke="#1a1a1a" stroke-width="1.4" />
<text x="78.30" y="90.70" font-size="12" text-anchor="end" fill="#231f20" stroke="#231f20" stroke-width="0.32" >6</text>
<line x1="83.00" y1="55.20" x2="87.70" y2="55.20" stroke="#1a1a1a" stroke-width="1.4" />
<text x="78.30" y="59.50" font-size="12" text-anchor="end" fill="#231f20" stroke="#231f20" stroke-width="0.32" >8</text>
<line x1="87.70" y1="180.00" x2="87.70" y2="184.80" stroke="#1a1a1a" stroke-width="1.4" />
<text x="87.70" y="200.60" font-size="12" text-anchor="middle" fill="#231f20" stroke="#231f20" stroke-width="0.32" >0</text>
<line x1="151.70" y1="180.00" x2="151.70" y2="184.80" stroke="#1a1a1a" stroke-width="1.4" />
<text x="151.70" y="200.60" font-size="12" text-anchor="middle" fill="#231f20" stroke="#231f20" stroke-width="0.32" >20</text>
<line x1="215.70" y1="180.00" x2="215.70" y2="184.80" stroke="#1a1a1a" stroke-width="1.4" />
<text x="215.70" y="200.60" font-size="12" text-anchor="middle" fill="#231f20" stroke="#231f20" stroke-width="0.32" >40</text>
<line x1="279.70" y1="180.00" x2="279.70" y2="184.80" stroke="#1a1a1a" stroke-width="1.4" />
<text x="279.70" y="200.60" font-size="12" text-anchor="middle" fill="#231f20" stroke="#231f20" stroke-width="0.32" >60</text>
<text x="159.20" y="220.60" font-size="14.5" text-anchor="start" fill="#231f20" stroke="#231f20" stroke-width="0.32" textLength="55.80" lengthAdjust="spacingAndGlyphs" >Time (min)</text>
<text transform="translate(43.00,113.30) rotate(-90)" x="0" y="0" font-size="14.5" text-anchor="middle" fill="#231f20" stroke="#231f20" stroke-width="0.36" textLength="29.60" lengthAdjust="spacingAndGlyphs">Fibrin</text>
<text transform="translate(63.30,113.80) rotate(-90)" x="0" y="0" font-size="13" text-anchor="middle" fill="#231f20" stroke="#231f20" stroke-width="0.36" textLength="99.50" lengthAdjust="spacingAndGlyphs">Relative fluorescence</text>
<path d="M284.2,70 H289.7 V114.3 H284.2" fill="none" stroke="#1a1a1a" stroke-width="1.3"/>
<path d="M284.2,118.5 H290 V172 H284.2" fill="none" stroke="#1a1a1a" stroke-width="1.3"/>
<path d="M302.6,70 H309.5 V159.3 H302.6" fill="none" stroke="#1a1a1a" stroke-width="1.3"/>
<line x1="99.20" y1="238.80" x2="113.00" y2="238.80" stroke="#8c1c20" stroke-width="1.6" />
<text x="118.50" y="242.20" font-size="11" text-anchor="start" fill="#2a2a2a" stroke="#2a2a2a" stroke-width="0.32" textLength="55.20" lengthAdjust="spacingAndGlyphs" >HbAA/IgG</text>
<line x1="184.20" y1="238.80" x2="198.00" y2="238.80" stroke="#b86a6a" stroke-width="1.6" />
<text x="203.70" y="242.20" font-size="11" text-anchor="start" fill="#2a2a2a" stroke="#2a2a2a" stroke-width="0.32" textLength="70.30" lengthAdjust="spacingAndGlyphs" >HbAA/15D10</text>
<line x1="99.20" y1="256.20" x2="113.00" y2="256.20" stroke="#272a5a" stroke-width="1.6" />
<text x="118.50" y="259.60" font-size="11" text-anchor="start" fill="#2a2a2a" stroke="#2a2a2a" stroke-width="0.32" textLength="51.30" lengthAdjust="spacingAndGlyphs" >HbSS/IgG</text>
<line x1="184.20" y1="256.20" x2="198.00" y2="256.20" stroke="#4c6c8c" stroke-width="1.6" />
<text x="203.70" y="259.60" font-size="11" text-anchor="start" fill="#2a2a2a" stroke="#2a2a2a" stroke-width="0.32" textLength="68.30" lengthAdjust="spacingAndGlyphs" >HbSS/15D10</text>
<text x="298.00" y="96.45" font-size="12.5" text-anchor="middle" fill="#231f20">*</text>
<text x="298.00" y="140.75" font-size="12.5" text-anchor="middle" fill="#231f20">*</text>
<text x="298.00" y="148.75" font-size="12.5" text-anchor="middle" fill="#231f20">*</text>
<text x="298.00" y="157.55" font-size="12.5" text-anchor="middle" fill="#231f20">*</text>
<text x="316.50" y="119.25" font-size="12.5" text-anchor="middle" fill="#231f20">*</text>
<path d="M93.46,440.64 L94.25,441.11 L95.05,441.24 L95.84,441.60 L96.63,440.75 L97.42,440.18 L98.22,440.51 L99.01,440.32 L99.80,440.10 L100.59,440.63 L101.39,439.46 L102.18,440.49 L102.97,440.05 L103.76,439.26 L104.56,440.10 L105.35,439.98 L106.14,440.11 L106.93,439.78 L107.73,440.49 L108.52,439.94 L109.31,439.14 L110.11,439.54 L110.90,439.64 L111.69,439.37 L112.48,439.31 L113.28,439.34 L114.07,439.15 L114.86,439.78 L115.65,439.00 L116.45,439.35 L117.24,438.82 L118.03,439.02 L118.82,439.24 L119.62,438.90 L120.41,439.10 L121.20,438.42 L121.99,438.66 L122.79,438.33 L123.58,438.88 L124.37,437.98 L125.17,438.51 L125.96,437.94 L126.75,438.04 L127.54,438.59 L128.34,438.07 L129.13,438.27 L129.92,437.92 L130.71,437.51 L131.51,437.66 L132.30,437.49 L133.09,438.13 L133.88,437.62 L134.68,437.51 L135.47,437.22 L136.26,437.68 L137.05,437.23 L137.85,437.23 L138.64,437.79 L139.43,437.60 L140.23,437.07 L141.02,437.51 L141.81,437.46 L142.60,436.72 L143.40,436.84 L144.19,436.91 L144.98,436.74 L145.77,436.80 L146.57,436.77 L147.36,436.67 L148.15,436.37 L148.94,436.00 L149.74,436.51 L150.53,436.32 L151.32,436.30 L152.12,436.56 L152.91,436.02 L153.70,435.76 L154.49,436.21 L155.29,435.63 L156.08,436.00 L156.87,435.40 L157.66,435.33 L158.46,435.79 L159.25,436.24 L160.04,435.67 L160.83,435.93 L161.63,435.82 L162.42,435.39 L163.21,434.81 L164.00,435.17 L164.80,435.16 L165.59,435.61 L166.38,435.18 L167.18,435.37 L167.97,434.73 L168.76,434.97 L169.55,434.76 L170.35,434.68 L171.14,434.66 L171.93,434.22 L172.72,434.29 L173.52,434.47 L174.31,434.25 L175.10,434.06 L175.89,433.75 L176.69,434.09 L177.48,433.64 L178.27,434.23 L179.06,434.08 L179.86,434.42 L180.65,433.67 L181.44,434.21 L182.24,434.21 L183.03,433.63 L183.82,434.09 L184.61,434.19 L185.41,433.68 L186.20,434.07 L186.99,433.73 L187.78,434.18 L188.58,433.88 L189.37,433.85 L190.16,434.22 L190.95,433.78 L191.75,434.59 L192.54,434.63 L193.33,434.68 L194.12,434.54 L194.92,435.07 L195.71,435.24 L196.50,435.20 L197.30,435.00 L198.09,435.68 L198.88,436.08 L199.67,435.85 L200.47,435.69 L201.26,436.16 L202.05,436.01 L202.84,436.71 L203.64,436.17 L204.43,436.23 L205.22,436.13 L206.01,436.27 L206.81,436.16 L207.60,436.77 L208.39,436.28 L209.18,437.03 L209.98,436.73 L210.77,436.25 L211.56,436.35 L212.36,437.22 L213.15,436.50 L213.94,436.87 L214.73,437.01 L215.53,436.74 L216.32,436.80 L217.11,436.45 L217.90,437.38 L218.70,437.12 L219.49,437.06 L220.28,437.63 L221.07,436.71 L221.87,436.53 L222.66,437.28 L223.45,437.01 L224.24,437.23 L225.04,437.10 L225.83,437.40 L226.62,436.93 L227.42,437.54 L228.21,436.75 L229.00,437.04 L229.79,436.38 L230.59,437.66 L231.38,437.13 L232.17,437.49 L232.96,437.11 L233.76,436.94 L234.55,437.34 L235.34,437.54 L236.13,437.65 L236.93,437.05 L237.72,436.72 L238.51,436.76 L239.31,437.09 L240.10,437.38 L240.89,437.21 L241.68,437.56 L242.48,437.58 L243.27,436.75 L244.06,437.17 L244.85,436.97 L245.65,437.16 L246.44,436.68 L247.23,436.65 L248.02,437.32 L248.82,437.20 L249.61,437.30 L250.40,436.69 L251.19,436.73 L251.99,437.22 L252.78,436.40 L253.57,437.07 L254.37,437.43 L255.16,437.65 L255.95,437.03 L256.74,436.87 L257.54,437.13 L258.33,436.79 L259.12,436.53 L259.91,436.91 L260.71,436.59 L261.50,436.32 L262.29,436.69 L263.08,437.01 L263.88,436.67 L264.67,436.63 L265.46,436.12 L266.25,436.93 L267.05,437.27 L267.84,436.73 L268.63,436.76 L269.43,437.05 L270.22,436.77 L271.01,436.93 L271.80,436.71 L272.60,437.41 L273.39,437.43 L274.18,437.30 L274.97,437.48 L275.77,436.98 L276.56,437.25 L277.35,437.49 L278.14,437.08 L278.94,437.50 L279.73,437.40 L280.52,437.53 L281.31,437.86 L282.11,437.88 L282.90,437.84 L282.90,442.59 L282.11,442.58 L281.31,442.52 L280.52,442.16 L279.73,442.06 L278.94,442.15 L278.14,441.80 L277.35,442.23 L276.56,441.97 L275.77,441.69 L274.97,442.18 L274.18,441.93 L273.39,442.10 L272.60,442.08 L271.80,441.38 L271.01,441.59 L270.22,441.47 L269.43,441.69 L268.63,441.43 L267.84,441.41 L267.05,441.97 L266.25,441.58 L265.46,440.76 L264.67,441.25 L263.88,441.29 L263.08,441.62 L262.29,441.30 L261.50,440.98 L260.71,441.26 L259.91,441.55 L259.12,441.19 L258.33,441.48 L257.54,441.78 L256.74,441.51 L255.95,441.66 L255.16,442.25 L254.37,441.98 L253.57,441.58 L252.78,440.85 L251.99,441.65 L251.19,441.19 L250.40,441.19 L249.61,441.83 L248.82,441.74 L248.02,441.87 L247.23,441.16 L246.44,441.20 L245.65,441.71 L244.85,441.54 L244.06,441.70 L243.27,441.29 L242.48,442.10 L241.68,442.08 L240.89,441.72 L240.10,441.92 L239.31,441.59 L238.51,441.21 L237.72,441.19 L236.93,441.51 L236.13,442.13 L235.34,442.06 L234.55,441.93 L233.76,441.49 L232.96,441.68 L232.17,442.01 L231.38,441.63 L230.59,442.07 L229.79,440.81 L229.00,441.44 L228.21,441.11 L227.42,441.89 L226.62,441.26 L225.83,441.72 L225.04,441.44 L224.24,441.63 L223.45,441.42 L222.66,441.75 L221.87,440.97 L221.07,441.11 L220.28,442.00 L219.49,441.45 L218.70,441.50 L217.90,441.78 L217.11,440.86 L216.32,441.22 L215.53,441.15 L214.73,441.40 L213.94,441.24 L213.15,440.90 L212.36,441.61 L211.56,440.72 L210.77,440.58 L209.98,441.07 L209.18,441.35 L208.39,440.57 L207.60,441.03 L206.81,440.46 L206.01,440.55 L205.22,440.41 L204.43,440.55 L203.64,440.56 L202.84,441.07 L202.05,440.38 L201.26,440.47 L200.47,440.01 L199.67,440.10 L198.88,440.34 L198.09,439.95 L197.30,439.30 L196.50,439.43 L195.71,439.53 L194.92,439.32 L194.12,438.76 L193.33,438.91 L192.54,438.88 L191.75,438.80 L190.95,438.03 L190.16,438.48 L189.37,438.07 L188.58,438.13 L187.78,438.43 L186.99,437.97 L186.20,438.27 L185.41,437.89 L184.61,438.40 L183.82,438.31 L183.03,437.88 L182.24,438.45 L181.44,438.45 L180.65,437.86 L179.86,438.60 L179.06,438.22 L178.27,438.38 L177.48,437.80 L176.69,438.30 L175.89,437.99 L175.10,438.32 L174.31,438.51 L173.52,438.71 L172.72,438.52 L171.93,438.43 L171.14,438.82 L170.35,438.82 L169.55,438.89 L168.76,439.11 L167.97,438.82 L167.18,439.51 L166.38,439.33 L165.59,439.81 L164.80,439.37 L164.00,439.40 L163.21,438.98 L162.42,439.53 L161.63,439.89 L160.83,439.95 L160.04,439.70 L159.25,440.28 L158.46,439.84 L157.66,439.43 L156.87,439.53 L156.08,440.13 L155.29,439.76 L154.49,440.35 L153.70,439.85 L152.91,440.10 L152.12,440.63 L151.32,440.37 L150.53,440.39 L149.74,440.58 L148.94,440.10 L148.15,440.44 L147.36,440.79 L146.57,440.86 L145.77,440.88 L144.98,440.75 L144.19,440.93 L143.40,440.80 L142.60,440.66 L141.81,441.38 L141.02,441.43 L140.23,440.99 L139.43,441.51 L138.64,441.75 L137.85,441.22 L137.05,441.26 L136.26,441.68 L135.47,441.21 L134.68,441.49 L133.88,441.62 L133.09,442.08 L132.30,441.46 L131.51,441.66 L130.71,441.47 L129.92,441.83 L129.13,442.20 L128.34,441.99 L127.54,442.48 L126.75,441.95 L125.96,441.86 L125.17,442.45 L124.37,441.91 L123.58,442.85 L122.79,442.30 L121.99,442.64 L121.20,442.35 L120.41,443.06 L119.62,442.80 L118.82,443.16 L118.03,442.89 L117.24,442.70 L116.45,443.20 L115.65,442.88 L114.86,443.62 L114.07,442.97 L113.28,443.17 L112.48,443.16 L111.69,443.24 L110.90,443.47 L110.11,443.40 L109.31,443.00 L108.52,443.77 L107.73,444.27 L106.93,443.56 L106.14,443.88 L105.35,443.73 L104.56,443.88 L103.76,443.05 L102.97,443.86 L102.18,444.31 L101.39,443.26 L100.59,444.41 L99.80,443.87 L99.01,444.09 L98.22,444.32 L97.42,444.01 L96.63,444.55 L95.84,445.41 L95.05,445.02 L94.25,444.86 L93.46,444.35 Z" fill="#fbd6d3" fill-opacity="1.0" stroke="none"/>
<path d="M93.46,440.64 L94.25,441.11 L95.05,441.24 L95.84,441.60 L96.63,440.75 L97.42,440.18 L98.22,440.51 L99.01,440.32 L99.80,440.10 L100.59,440.63 L101.39,439.46 L102.18,440.49 L102.97,440.05 L103.76,439.26 L104.56,440.10 L105.35,439.98 L106.14,440.11 L106.93,439.78 L107.73,440.49 L108.52,439.94 L109.31,439.14 L110.11,439.54 L110.90,439.64 L111.69,439.37 L112.48,439.31 L113.28,439.34 L114.07,439.15 L114.86,439.78 L115.65,439.00 L116.45,439.35 L117.24,438.82 L118.03,439.02 L118.82,439.24 L119.62,438.90 L120.41,439.10 L121.20,438.42 L121.99,438.66 L122.79,438.33 L123.58,438.88 L124.37,437.98 L125.17,438.51 L125.96,437.94 L126.75,438.04 L127.54,438.59 L128.34,438.07 L129.13,438.27 L129.92,437.92 L130.71,437.51 L131.51,437.66 L132.30,437.49 L133.09,438.13 L133.88,437.62 L134.68,437.51 L135.47,437.22 L136.26,437.68 L137.05,437.23 L137.85,437.23 L138.64,437.79 L139.43,437.60 L140.23,437.07 L141.02,437.51 L141.81,437.46 L142.60,436.72 L143.40,436.84 L144.19,436.91 L144.98,436.74 L145.77,436.80 L146.57,436.77 L147.36,436.67 L148.15,436.37 L148.94,436.00 L149.74,436.51 L150.53,436.32 L151.32,436.30 L152.12,436.56 L152.91,436.02 L153.70,435.76 L154.49,436.21 L155.29,435.63 L156.08,436.00 L156.87,435.40 L157.66,435.33 L158.46,435.79 L159.25,436.24 L160.04,435.67 L160.83,435.93 L161.63,435.82 L162.42,435.39 L163.21,434.81 L164.00,435.17 L164.80,435.16 L165.59,435.61 L166.38,435.18 L167.18,435.37 L167.97,434.73 L168.76,434.97 L169.55,434.76 L170.35,434.68 L171.14,434.66 L171.93,434.22 L172.72,434.29 L173.52,434.47 L174.31,434.25 L175.10,434.06 L175.89,433.75 L176.69,434.09 L177.48,433.64 L178.27,434.23 L179.06,434.08 L179.86,434.42 L180.65,433.67 L181.44,434.21 L182.24,434.21 L183.03,433.63 L183.82,434.09 L184.61,434.19 L185.41,433.68 L186.20,434.07 L186.99,433.73 L187.78,434.18 L188.58,433.88 L189.37,433.85 L190.16,434.22 L190.95,433.78 L191.75,434.59 L192.54,434.63 L193.33,434.68 L194.12,434.54 L194.92,435.07 L195.71,435.24 L196.50,435.20 L197.30,435.00 L198.09,435.68 L198.88,436.08 L199.67,435.85 L200.47,435.69 L201.26,436.16 L202.05,436.01 L202.84,436.71 L203.64,436.17 L204.43,436.23 L205.22,436.13 L206.01,436.27 L206.81,436.16 L207.60,436.77 L208.39,436.28 L209.18,437.03 L209.98,436.73 L210.77,436.25 L211.56,436.35 L212.36,437.22 L213.15,436.50 L213.94,436.87 L214.73,437.01 L215.53,436.74 L216.32,436.80 L217.11,436.45 L217.90,437.38 L218.70,437.12 L219.49,437.06 L220.28,437.63 L221.07,436.71 L221.87,436.53 L222.66,437.28 L223.45,437.01 L224.24,437.23 L225.04,437.10 L225.83,437.40 L226.62,436.93 L227.42,437.54 L228.21,436.75 L229.00,437.04 L229.79,436.38 L230.59,437.66 L231.38,437.13 L232.17,437.49 L232.96,437.11 L233.76,436.94 L234.55,437.34 L235.34,437.54 L236.13,437.65 L236.93,437.05 L237.72,436.72 L238.51,436.76 L239.31,437.09 L240.10,437.38 L240.89,437.21 L241.68,437.56 L242.48,437.58 L243.27,436.75 L244.06,437.17 L244.85,436.97 L245.65,437.16 L246.44,436.68 L247.23,436.65 L248.02,437.32 L248.82,437.20 L249.61,437.30 L250.40,436.69 L251.19,436.73 L251.99,437.22 L252.78,436.40 L253.57,437.07 L254.37,437.43 L255.16,437.65 L255.95,437.03 L256.74,436.87 L257.54,437.13 L258.33,436.79 L259.12,436.53 L259.91,436.91 L260.71,436.59 L261.50,436.32 L262.29,436.69 L263.08,437.01 L263.88,436.67 L264.67,436.63 L265.46,436.12 L266.25,436.93 L267.05,437.27 L267.84,436.73 L268.63,436.76 L269.43,437.05 L270.22,436.77 L271.01,436.93 L271.80,436.71 L272.60,437.41 L273.39,437.43 L274.18,437.30 L274.97,437.48 L275.77,436.98 L276.56,437.25 L277.35,437.49 L278.14,437.08 L278.94,437.50 L279.73,437.40 L280.52,437.53 L281.31,437.86 L282.11,437.88 L282.90,437.84" fill="none" stroke="#f7c2be" stroke-width="1.0"/>
<path d="M93.46,444.35 L94.25,444.86 L95.05,445.02 L95.84,445.41 L96.63,444.55 L97.42,444.01 L98.22,444.32 L99.01,444.09 L99.80,443.87 L100.59,444.41 L101.39,443.26 L102.18,444.31 L102.97,443.86 L103.76,443.05 L104.56,443.88 L105.35,443.73 L106.14,443.88 L106.93,443.56 L107.73,444.27 L108.52,443.77 L109.31,443.00 L110.11,443.40 L110.90,443.47 L111.69,443.24 L112.48,443.16 L113.28,443.17 L114.07,442.97 L114.86,443.62 L115.65,442.88 L116.45,443.20 L117.24,442.70 L118.03,442.89 L118.82,443.16 L119.62,442.80 L120.41,443.06 L121.20,442.35 L121.99,442.64 L122.79,442.30 L123.58,442.85 L124.37,441.91 L125.17,442.45 L125.96,441.86 L126.75,441.95 L127.54,442.48 L128.34,441.99 L129.13,442.20 L129.92,441.83 L130.71,441.47 L131.51,441.66 L132.30,441.46 L133.09,442.08 L133.88,441.62 L134.68,441.49 L135.47,441.21 L136.26,441.68 L137.05,441.26 L137.85,441.22 L138.64,441.75 L139.43,441.51 L140.23,440.99 L141.02,441.43 L141.81,441.38 L142.60,440.66 L143.40,440.80 L144.19,440.93 L144.98,440.75 L145.77,440.88 L146.57,440.86 L147.36,440.79 L148.15,440.44 L148.94,440.10 L149.74,440.58 L150.53,440.39 L151.32,440.37 L152.12,440.63 L152.91,440.10 L153.70,439.85 L154.49,440.35 L155.29,439.76 L156.08,440.13 L156.87,439.53 L157.66,439.43 L158.46,439.84 L159.25,440.28 L160.04,439.70 L160.83,439.95 L161.63,439.89 L162.42,439.53 L163.21,438.98 L164.00,439.40 L164.80,439.37 L165.59,439.81 L166.38,439.33 L167.18,439.51 L167.97,438.82 L168.76,439.11 L169.55,438.89 L170.35,438.82 L171.14,438.82 L171.93,438.43 L172.72,438.52 L173.52,438.71 L174.31,438.51 L175.10,438.32 L175.89,437.99 L176.69,438.30 L177.48,437.80 L178.27,438.38 L179.06,438.22 L179.86,438.60 L180.65,437.86 L181.44,438.45 L182.24,438.45 L183.03,437.88 L183.82,438.31 L184.61,438.40 L185.41,437.89 L186.20,438.27 L186.99,437.97 L187.78,438.43 L188.58,438.13 L189.37,438.07 L190.16,438.48 L190.95,438.03 L191.75,438.80 L192.54,438.88 L193.33,438.91 L194.12,438.76 L194.92,439.32 L195.71,439.53 L196.50,439.43 L197.30,439.30 L198.09,439.95 L198.88,440.34 L199.67,440.10 L200.47,440.01 L201.26,440.47 L202.05,440.38 L202.84,441.07 L203.64,440.56 L204.43,440.55 L205.22,440.41 L206.01,440.55 L206.81,440.46 L207.60,441.03 L208.39,440.57 L209.18,441.35 L209.98,441.07 L210.77,440.58 L211.56,440.72 L212.36,441.61 L213.15,440.90 L213.94,441.24 L214.73,441.40 L215.53,441.15 L216.32,441.22 L217.11,440.86 L217.90,441.78 L218.70,441.50 L219.49,441.45 L220.28,442.00 L221.07,441.11 L221.87,440.97 L222.66,441.75 L223.45,441.42 L224.24,441.63 L225.04,441.44 L225.83,441.72 L226.62,441.26 L227.42,441.89 L228.21,441.11 L229.00,441.44 L229.79,440.81 L230.59,442.07 L231.38,441.63 L232.17,442.01 L232.96,441.68 L233.76,441.49 L234.55,441.93 L235.34,442.06 L236.13,442.13 L236.93,441.51 L237.72,441.19 L238.51,441.21 L239.31,441.59 L240.10,441.92 L240.89,441.72 L241.68,442.08 L242.48,442.10 L243.27,441.29 L244.06,441.70 L244.85,441.54 L245.65,441.71 L246.44,441.20 L247.23,441.16 L248.02,441.87 L248.82,441.74 L249.61,441.83 L250.40,441.19 L251.19,441.19 L251.99,441.65 L252.78,440.85 L253.57,441.58 L254.37,441.98 L255.16,442.25 L255.95,441.66 L256.74,441.51 L257.54,441.78 L258.33,441.48 L259.12,441.19 L259.91,441.55 L260.71,441.26 L261.50,440.98 L262.29,441.30 L263.08,441.62 L263.88,441.29 L264.67,441.25 L265.46,440.76 L266.25,441.58 L267.05,441.97 L267.84,441.41 L268.63,441.43 L269.43,441.69 L270.22,441.47 L271.01,441.59 L271.80,441.38 L272.60,442.08 L273.39,442.10 L274.18,441.93 L274.97,442.18 L275.77,441.69 L276.56,441.97 L277.35,442.23 L278.14,441.80 L278.94,442.15 L279.73,442.06 L280.52,442.16 L281.31,442.52 L282.11,442.58 L282.90,442.59" fill="none" stroke="#f7c2be" stroke-width="1.0"/>
<path d="M93.46,442.50 L94.25,442.98 L95.05,443.13 L95.84,443.51 L96.63,442.65 L97.42,442.09 L98.22,442.41 L99.01,442.21 L99.80,441.99 L100.59,442.52 L101.39,441.36 L102.18,442.40 L102.97,441.95 L103.76,441.16 L104.56,441.99 L105.35,441.86 L106.14,441.99 L106.93,441.67 L107.73,442.38 L108.52,441.86 L109.31,441.07 L110.11,441.47 L110.90,441.55 L111.69,441.30 L112.48,441.23 L113.28,441.26 L114.07,441.06 L114.86,441.70 L115.65,440.94 L116.45,441.28 L117.24,440.76 L118.03,440.96 L118.82,441.20 L119.62,440.85 L120.41,441.08 L121.20,440.39 L121.99,440.65 L122.79,440.31 L123.58,440.86 L124.37,439.95 L125.17,440.48 L125.96,439.90 L126.75,439.99 L127.54,440.54 L128.34,440.03 L129.13,440.24 L129.92,439.87 L130.71,439.49 L131.51,439.66 L132.30,439.48 L133.09,440.11 L133.88,439.62 L134.68,439.50 L135.47,439.21 L136.26,439.68 L137.05,439.25 L137.85,439.23 L138.64,439.77 L139.43,439.55 L140.23,439.03 L141.02,439.47 L141.81,439.42 L142.60,438.69 L143.40,438.82 L144.19,438.92 L144.98,438.75 L145.77,438.84 L146.57,438.82 L147.36,438.73 L148.15,438.40 L148.94,438.05 L149.74,438.54 L150.53,438.35 L151.32,438.34 L152.12,438.60 L152.91,438.06 L153.70,437.81 L154.49,438.28 L155.29,437.69 L156.08,438.07 L156.87,437.47 L157.66,437.38 L158.46,437.82 L159.25,438.26 L160.04,437.68 L160.83,437.94 L161.63,437.86 L162.42,437.46 L163.21,436.90 L164.00,437.29 L164.80,437.26 L165.59,437.71 L166.38,437.26 L167.18,437.44 L167.97,436.78 L168.76,437.04 L169.55,436.83 L170.35,436.75 L171.14,436.74 L171.93,436.32 L172.72,436.40 L173.52,436.59 L174.31,436.38 L175.10,436.19 L175.89,435.87 L176.69,436.19 L177.48,435.72 L178.27,436.30 L179.06,436.15 L179.86,436.51 L180.65,435.77 L181.44,436.33 L182.24,436.33 L183.03,435.75 L183.82,436.20 L184.61,436.29 L185.41,435.79 L186.20,436.17 L186.99,435.85 L187.78,436.30 L188.58,436.00 L189.37,435.96 L190.16,436.35 L190.95,435.91 L191.75,436.69 L192.54,436.76 L193.33,436.80 L194.12,436.65 L194.92,437.20 L195.71,437.39 L196.50,437.31 L197.30,437.15 L198.09,437.81 L198.88,438.21 L199.67,437.98 L200.47,437.85 L201.26,438.31 L202.05,438.19 L202.84,438.89 L203.64,438.36 L204.43,438.39 L205.22,438.27 L206.01,438.41 L206.81,438.31 L207.60,438.90 L208.39,438.43 L209.18,439.19 L209.98,438.90 L210.77,438.41 L211.56,438.53 L212.36,439.42 L213.15,438.70 L213.94,439.06 L214.73,439.21 L215.53,438.94 L216.32,439.01 L217.11,438.66 L217.90,439.58 L218.70,439.31 L219.49,439.26 L220.28,439.82 L221.07,438.91 L221.87,438.75 L222.66,439.51 L223.45,439.21 L224.24,439.43 L225.04,439.27 L225.83,439.56 L226.62,439.09 L227.42,439.71 L228.21,438.93 L229.00,439.24 L229.79,438.60 L230.59,439.87 L231.38,439.38 L232.17,439.75 L232.96,439.40 L233.76,439.22 L234.55,439.64 L235.34,439.80 L236.13,439.89 L236.93,439.28 L237.72,438.95 L238.51,438.99 L239.31,439.34 L240.10,439.65 L240.89,439.46 L241.68,439.82 L242.48,439.84 L243.27,439.02 L244.06,439.44 L244.85,439.25 L245.65,439.44 L246.44,438.94 L247.23,438.90 L248.02,439.59 L248.82,439.47 L249.61,439.56 L250.40,438.94 L251.19,438.96 L251.99,439.44 L252.78,438.63 L253.57,439.33 L254.37,439.71 L255.16,439.95 L255.95,439.35 L256.74,439.19 L257.54,439.45 L258.33,439.14 L259.12,438.86 L259.91,439.23 L260.71,438.93 L261.50,438.65 L262.29,439.00 L263.08,439.31 L263.88,438.98 L264.67,438.94 L265.46,438.44 L266.25,439.25 L267.05,439.62 L267.84,439.07 L268.63,439.10 L269.43,439.37 L270.22,439.12 L271.01,439.26 L271.80,439.04 L272.60,439.74 L273.39,439.76 L274.18,439.61 L274.97,439.83 L275.77,439.33 L276.56,439.61 L277.35,439.86 L278.14,439.44 L278.94,439.82 L279.73,439.73 L280.52,439.84 L281.31,440.19 L282.11,440.23 L282.90,440.22" fill="none" stroke="#f29b95" stroke-width="2.2" stroke-linejoin="round"/>
<path d="M93.46,442.19 L94.25,442.87 L95.05,442.09 L95.84,442.05 L96.63,441.63 L97.42,441.54 L98.22,441.08 L99.01,441.13 L99.80,441.03 L100.59,440.66 L101.39,440.46 L102.18,440.34 L102.97,440.10 L103.76,439.72 L104.56,439.51 L105.35,439.47 L106.14,439.22 L106.93,439.22 L107.73,438.45 L108.52,438.50 L109.31,438.02 L110.11,437.95 L110.90,437.49 L111.69,437.29 L112.48,437.25 L113.28,436.86 L114.07,437.01 L114.86,436.44 L115.65,436.64 L116.45,436.15 L117.24,435.82 L118.03,435.73 L118.82,435.59 L119.62,435.51 L120.41,435.27 L121.20,434.87 L121.99,434.74 L122.79,434.80 L123.58,434.80 L124.37,434.38 L125.17,434.61 L125.96,434.37 L126.75,434.30 L127.54,433.98 L128.34,433.95 L129.13,433.83 L129.92,433.76 L130.71,433.80 L131.51,433.49 L132.30,433.22 L133.09,433.33 L133.88,433.12 L134.68,433.14 L135.47,432.86 L136.26,432.83 L137.05,432.69 L137.85,432.68 L138.64,432.37 L139.43,432.58 L140.23,432.47 L141.02,432.39 L141.81,432.09 L142.60,432.19 L143.40,432.09 L144.19,431.77 L144.98,431.62 L145.77,431.60 L146.57,431.99 L147.36,431.63 L148.15,431.54 L148.94,431.43 L149.74,431.22 L150.53,430.79 L151.32,431.02 L152.12,431.00 L152.91,430.69 L153.70,430.72 L154.49,430.65 L155.29,430.71 L156.08,430.55 L156.87,430.43 L157.66,430.73 L158.46,430.62 L159.25,430.12 L160.04,430.10 L160.83,430.24 L161.63,430.25 L162.42,430.09 L163.21,430.21 L164.00,430.01 L164.80,429.65 L165.59,429.83 L166.38,429.59 L167.18,429.74 L167.97,429.61 L168.76,429.39 L169.55,429.78 L170.35,429.58 L171.14,429.50 L171.93,429.38 L172.72,429.14 L173.52,429.23 L174.31,429.51 L175.10,429.28 L175.89,429.32 L176.69,429.29 L177.48,428.79 L178.27,429.22 L179.06,428.98 L179.86,429.08 L180.65,428.78 L181.44,428.80 L182.24,428.78 L183.03,428.77 L183.82,428.54 L184.61,428.83 L185.41,428.76 L186.20,428.78 L186.99,428.37 L187.78,428.59 L188.58,428.66 L189.37,428.53 L190.16,428.04 L190.95,428.40 L191.75,428.23 L192.54,428.24 L193.33,428.29 L194.12,428.37 L194.92,428.29 L195.71,428.24 L196.50,428.49 L197.30,427.73 L198.09,427.97 L198.88,428.05 L199.67,428.07 L200.47,428.13 L201.26,427.80 L202.05,427.91 L202.84,427.75 L203.64,428.01 L204.43,427.69 L205.22,427.39 L206.01,427.72 L206.81,427.53 L207.60,427.60 L208.39,427.40 L209.18,427.39 L209.98,427.50 L210.77,427.55 L211.56,427.38 L212.36,427.39 L213.15,427.44 L213.94,427.25 L214.73,427.21 L215.53,427.37 L216.32,427.20 L217.11,426.65 L217.90,426.94 L218.70,427.03 L219.49,426.61 L220.28,427.05 L221.07,427.37 L221.87,427.24 L222.66,427.15 L223.45,426.87 L224.24,426.72 L225.04,427.18 L225.83,426.65 L226.62,426.99 L227.42,426.74 L228.21,426.71 L229.00,426.72 L229.79,426.78 L230.59,426.74 L231.38,426.94 L232.17,426.68 L232.96,426.54 L233.76,426.52 L234.55,426.23 L235.34,426.47 L236.13,426.51 L236.93,426.34 L237.72,426.57 L238.51,426.80 L239.31,426.91 L240.10,426.37 L240.89,426.47 L241.68,426.39 L242.48,426.55 L243.27,426.42 L244.06,426.14 L244.85,426.38 L245.65,426.60 L246.44,426.48 L247.23,426.21 L248.02,426.60 L248.82,426.83 L249.61,426.78 L250.40,426.63 L251.19,426.27 L251.99,426.35 L252.78,426.46 L253.57,426.53 L254.37,426.33 L255.16,426.33 L255.95,426.39 L256.74,426.31 L257.54,426.36 L258.33,425.94 L259.12,426.57 L259.91,426.16 L260.71,426.35 L261.50,426.08 L262.29,426.22 L263.08,426.13 L263.88,426.08 L264.67,426.11 L265.46,425.96 L266.25,426.31 L267.05,425.93 L267.84,426.10 L268.63,425.98 L269.43,425.79 L270.22,425.84 L271.01,425.69 L271.80,426.35 L272.60,426.16 L273.39,425.81 L274.18,426.14 L274.97,425.96 L275.77,425.64 L276.56,425.76 L277.35,426.04 L278.14,425.79 L278.94,425.74 L279.73,425.83 L280.52,425.83 L281.31,425.78 L282.11,426.04 L282.90,425.79 L282.90,429.54 L282.11,429.82 L281.31,429.58 L280.52,429.63 L279.73,429.61 L278.94,429.54 L278.14,429.58 L277.35,429.80 L276.56,429.54 L275.77,429.42 L274.97,429.72 L274.18,429.87 L273.39,429.57 L272.60,429.85 L271.80,430.09 L271.01,429.46 L270.22,429.61 L269.43,429.55 L268.63,429.76 L267.84,429.85 L267.05,429.69 L266.25,430.06 L265.46,429.69 L264.67,429.82 L263.88,429.77 L263.08,429.80 L262.29,429.93 L261.50,429.80 L260.71,430.10 L259.91,429.96 L259.12,430.37 L258.33,429.72 L257.54,430.13 L256.74,430.04 L255.95,430.09 L255.16,430.05 L254.37,430.07 L253.57,430.26 L252.78,430.20 L251.99,430.07 L251.19,429.96 L250.40,430.30 L249.61,430.46 L248.82,430.53 L248.02,430.33 L247.23,429.98 L246.44,430.30 L245.65,430.43 L244.85,430.22 L244.06,430.00 L243.27,430.24 L242.48,430.35 L241.68,430.17 L240.89,430.20 L240.10,430.11 L239.31,430.69 L238.51,430.53 L237.72,430.32 L236.93,430.13 L236.13,430.28 L235.34,430.23 L234.55,430.03 L233.76,430.30 L232.96,430.29 L232.17,430.40 L231.38,430.60 L230.59,430.42 L229.79,430.46 L229.00,430.42 L228.21,430.45 L227.42,430.51 L226.62,430.75 L225.83,430.39 L225.04,430.91 L224.24,430.43 L223.45,430.55 L222.66,430.86 L221.87,430.94 L221.07,431.05 L220.28,430.80 L219.49,430.38 L218.70,430.79 L217.90,430.74 L217.11,430.45 L216.32,430.92 L215.53,431.07 L214.73,430.89 L213.94,430.92 L213.15,431.14 L212.36,431.07 L211.56,431.07 L210.77,431.25 L209.98,431.18 L209.18,431.05 L208.39,431.11 L207.60,431.32 L206.81,431.23 L206.01,431.45 L205.22,431.15 L204.43,431.44 L203.64,431.74 L202.84,431.50 L202.05,431.62 L201.26,431.45 L200.47,431.74 L199.67,431.69 L198.88,431.69 L198.09,431.60 L197.30,431.40 L196.50,432.21 L195.71,431.96 L194.92,431.99 L194.12,432.09 L193.33,432.04 L192.54,432.01 L191.75,431.98 L190.95,432.19 L190.16,431.81 L189.37,432.30 L188.58,432.45 L187.78,432.37 L186.99,432.15 L186.20,432.58 L185.41,432.56 L184.61,432.63 L183.82,432.36 L183.03,432.58 L182.24,432.59 L181.44,432.58 L180.65,432.52 L179.86,432.80 L179.06,432.69 L178.27,432.94 L177.48,432.50 L176.69,433.01 L175.89,433.07 L175.10,433.00 L174.31,433.24 L173.52,432.93 L172.72,432.85 L171.93,433.09 L171.14,433.20 L170.35,433.27 L169.55,433.48 L168.76,433.12 L167.97,433.32 L167.18,433.48 L166.38,433.31 L165.59,433.51 L164.80,433.33 L164.00,433.71 L163.21,433.91 L162.42,433.83 L161.63,434.06 L160.83,434.04 L160.04,433.88 L159.25,433.91 L158.46,434.38 L157.66,434.48 L156.87,434.18 L156.08,434.33 L155.29,434.50 L154.49,434.44 L153.70,434.52 L152.91,434.49 L152.12,434.79 L151.32,434.80 L150.53,434.55 L149.74,434.98 L148.94,435.21 L148.15,435.27 L147.36,435.35 L146.57,435.74 L145.77,435.32 L144.98,435.33 L144.19,435.52 L143.40,435.84 L142.60,435.93 L141.81,435.86 L141.02,436.15 L140.23,436.20 L139.43,436.30 L138.64,436.10 L137.85,436.40 L137.05,436.43 L136.26,436.57 L135.47,436.64 L134.68,436.92 L133.88,436.91 L133.09,437.12 L132.30,436.99 L131.51,437.21 L130.71,437.48 L129.92,437.44 L129.13,437.51 L128.34,437.67 L127.54,437.70 L126.75,438.04 L125.96,438.12 L125.17,438.37 L124.37,438.15 L123.58,438.55 L122.79,438.48 L121.99,438.46 L121.20,438.58 L120.41,438.94 L119.62,439.20 L118.82,439.36 L118.03,439.44 L117.24,439.53 L116.45,439.88 L115.65,440.41 L114.86,440.21 L114.07,440.78 L113.28,440.63 L112.48,441.05 L111.69,441.08 L110.90,441.22 L110.11,441.69 L109.31,441.78 L108.52,442.24 L107.73,442.15 L106.93,442.92 L106.14,442.93 L105.35,443.17 L104.56,443.21 L103.76,443.45 L102.97,443.82 L102.18,444.07 L101.39,444.16 L100.59,444.37 L99.80,444.79 L99.01,444.98 L98.22,444.92 L97.42,445.36 L96.63,445.44 L95.84,445.81 L95.05,445.84 L94.25,446.63 L93.46,446.03 Z" fill="#d3e8f7" fill-opacity="1.0" stroke="none"/>
<path d="M93.46,442.19 L94.25,442.87 L95.05,442.09 L95.84,442.05 L96.63,441.63 L97.42,441.54 L98.22,441.08 L99.01,441.13 L99.80,441.03 L100.59,440.66 L101.39,440.46 L102.18,440.34 L102.97,440.10 L103.76,439.72 L104.56,439.51 L105.35,439.47 L106.14,439.22 L106.93,439.22 L107.73,438.45 L108.52,438.50 L109.31,438.02 L110.11,437.95 L110.90,437.49 L111.69,437.29 L112.48,437.25 L113.28,436.86 L114.07,437.01 L114.86,436.44 L115.65,436.64 L116.45,436.15 L117.24,435.82 L118.03,435.73 L118.82,435.59 L119.62,435.51 L120.41,435.27 L121.20,434.87 L121.99,434.74 L122.79,434.80 L123.58,434.80 L124.37,434.38 L125.17,434.61 L125.96,434.37 L126.75,434.30 L127.54,433.98 L128.34,433.95 L129.13,433.83 L129.92,433.76 L130.71,433.80 L131.51,433.49 L132.30,433.22 L133.09,433.33 L133.88,433.12 L134.68,433.14 L135.47,432.86 L136.26,432.83 L137.05,432.69 L137.85,432.68 L138.64,432.37 L139.43,432.58 L140.23,432.47 L141.02,432.39 L141.81,432.09 L142.60,432.19 L143.40,432.09 L144.19,431.77 L144.98,431.62 L145.77,431.60 L146.57,431.99 L147.36,431.63 L148.15,431.54 L148.94,431.43 L149.74,431.22 L150.53,430.79 L151.32,431.02 L152.12,431.00 L152.91,430.69 L153.70,430.72 L154.49,430.65 L155.29,430.71 L156.08,430.55 L156.87,430.43 L157.66,430.73 L158.46,430.62 L159.25,430.12 L160.04,430.10 L160.83,430.24 L161.63,430.25 L162.42,430.09 L163.21,430.21 L164.00,430.01 L164.80,429.65 L165.59,429.83 L166.38,429.59 L167.18,429.74 L167.97,429.61 L168.76,429.39 L169.55,429.78 L170.35,429.58 L171.14,429.50 L171.93,429.38 L172.72,429.14 L173.52,429.23 L174.31,429.51 L175.10,429.28 L175.89,429.32 L176.69,429.29 L177.48,428.79 L178.27,429.22 L179.06,428.98 L179.86,429.08 L180.65,428.78 L181.44,428.80 L182.24,428.78 L183.03,428.77 L183.82,428.54 L184.61,428.83 L185.41,428.76 L186.20,428.78 L186.99,428.37 L187.78,428.59 L188.58,428.66 L189.37,428.53 L190.16,428.04 L190.95,428.40 L191.75,428.23 L192.54,428.24 L193.33,428.29 L194.12,428.37 L194.92,428.29 L195.71,428.24 L196.50,428.49 L197.30,427.73 L198.09,427.97 L198.88,428.05 L199.67,428.07 L200.47,428.13 L201.26,427.80 L202.05,427.91 L202.84,427.75 L203.64,428.01 L204.43,427.69 L205.22,427.39 L206.01,427.72 L206.81,427.53 L207.60,427.60 L208.39,427.40 L209.18,427.39 L209.98,427.50 L210.77,427.55 L211.56,427.38 L212.36,427.39 L213.15,427.44 L213.94,427.25 L214.73,427.21 L215.53,427.37 L216.32,427.20 L217.11,426.65 L217.90,426.94 L218.70,427.03 L219.49,426.61 L220.28,427.05 L221.07,427.37 L221.87,427.24 L222.66,427.15 L223.45,426.87 L224.24,426.72 L225.04,427.18 L225.83,426.65 L226.62,426.99 L227.42,426.74 L228.21,426.71 L229.00,426.72 L229.79,426.78 L230.59,426.74 L231.38,426.94 L232.17,426.68 L232.96,426.54 L233.76,426.52 L234.55,426.23 L235.34,426.47 L236.13,426.51 L236.93,426.34 L237.72,426.57 L238.51,426.80 L239.31,426.91 L240.10,426.37 L240.89,426.47 L241.68,426.39 L242.48,426.55 L243.27,426.42 L244.06,426.14 L244.85,426.38 L245.65,426.60 L246.44,426.48 L247.23,426.21 L248.02,426.60 L248.82,426.83 L249.61,426.78 L250.40,426.63 L251.19,426.27 L251.99,426.35 L252.78,426.46 L253.57,426.53 L254.37,426.33 L255.16,426.33 L255.95,426.39 L256.74,426.31 L257.54,426.36 L258.33,425.94 L259.12,426.57 L259.91,426.16 L260.71,426.35 L261.50,426.08 L262.29,426.22 L263.08,426.13 L263.88,426.08 L264.67,426.11 L265.46,425.96 L266.25,426.31 L267.05,425.93 L267.84,426.10 L268.63,425.98 L269.43,425.79 L270.22,425.84 L271.01,425.69 L271.80,426.35 L272.60,426.16 L273.39,425.81 L274.18,426.14 L274.97,425.96 L275.77,425.64 L276.56,425.76 L277.35,426.04 L278.14,425.79 L278.94,425.74 L279.73,425.83 L280.52,425.83 L281.31,425.78 L282.11,426.04 L282.90,425.79" fill="none" stroke="#bcdcf2" stroke-width="1.0"/>
<path d="M93.46,446.03 L94.25,446.63 L95.05,445.84 L95.84,445.81 L96.63,445.44 L97.42,445.36 L98.22,444.92 L99.01,444.98 L99.80,444.79 L100.59,444.37 L101.39,444.16 L102.18,444.07 L102.97,443.82 L103.76,443.45 L104.56,443.21 L105.35,443.17 L106.14,442.93 L106.93,442.92 L107.73,442.15 L108.52,442.24 L109.31,441.78 L110.11,441.69 L110.90,441.22 L111.69,441.08 L112.48,441.05 L113.28,440.63 L114.07,440.78 L114.86,440.21 L115.65,440.41 L116.45,439.88 L117.24,439.53 L118.03,439.44 L118.82,439.36 L119.62,439.20 L120.41,438.94 L121.20,438.58 L121.99,438.46 L122.79,438.48 L123.58,438.55 L124.37,438.15 L125.17,438.37 L125.96,438.12 L126.75,438.04 L127.54,437.70 L128.34,437.67 L129.13,437.51 L129.92,437.44 L130.71,437.48 L131.51,437.21 L132.30,436.99 L133.09,437.12 L133.88,436.91 L134.68,436.92 L135.47,436.64 L136.26,436.57 L137.05,436.43 L137.85,436.40 L138.64,436.10 L139.43,436.30 L140.23,436.20 L141.02,436.15 L141.81,435.86 L142.60,435.93 L143.40,435.84 L144.19,435.52 L144.98,435.33 L145.77,435.32 L146.57,435.74 L147.36,435.35 L148.15,435.27 L148.94,435.21 L149.74,434.98 L150.53,434.55 L151.32,434.80 L152.12,434.79 L152.91,434.49 L153.70,434.52 L154.49,434.44 L155.29,434.50 L156.08,434.33 L156.87,434.18 L157.66,434.48 L158.46,434.38 L159.25,433.91 L160.04,433.88 L160.83,434.04 L161.63,434.06 L162.42,433.83 L163.21,433.91 L164.00,433.71 L164.80,433.33 L165.59,433.51 L166.38,433.31 L167.18,433.48 L167.97,433.32 L168.76,433.12 L169.55,433.48 L170.35,433.27 L171.14,433.20 L171.93,433.09 L172.72,432.85 L173.52,432.93 L174.31,433.24 L175.10,433.00 L175.89,433.07 L176.69,433.01 L177.48,432.50 L178.27,432.94 L179.06,432.69 L179.86,432.80 L180.65,432.52 L181.44,432.58 L182.24,432.59 L183.03,432.58 L183.82,432.36 L184.61,432.63 L185.41,432.56 L186.20,432.58 L186.99,432.15 L187.78,432.37 L188.58,432.45 L189.37,432.30 L190.16,431.81 L190.95,432.19 L191.75,431.98 L192.54,432.01 L193.33,432.04 L194.12,432.09 L194.92,431.99 L195.71,431.96 L196.50,432.21 L197.30,431.40 L198.09,431.60 L198.88,431.69 L199.67,431.69 L200.47,431.74 L201.26,431.45 L202.05,431.62 L202.84,431.50 L203.64,431.74 L204.43,431.44 L205.22,431.15 L206.01,431.45 L206.81,431.23 L207.60,431.32 L208.39,431.11 L209.18,431.05 L209.98,431.18 L210.77,431.25 L211.56,431.07 L212.36,431.07 L213.15,431.14 L213.94,430.92 L214.73,430.89 L215.53,431.07 L216.32,430.92 L217.11,430.45 L217.90,430.74 L218.70,430.79 L219.49,430.38 L220.28,430.80 L221.07,431.05 L221.87,430.94 L222.66,430.86 L223.45,430.55 L224.24,430.43 L225.04,430.91 L225.83,430.39 L226.62,430.75 L227.42,430.51 L228.21,430.45 L229.00,430.42 L229.79,430.46 L230.59,430.42 L231.38,430.60 L232.17,430.40 L232.96,430.29 L233.76,430.30 L234.55,430.03 L235.34,430.23 L236.13,430.28 L236.93,430.13 L237.72,430.32 L238.51,430.53 L239.31,430.69 L240.10,430.11 L240.89,430.20 L241.68,430.17 L242.48,430.35 L243.27,430.24 L244.06,430.00 L244.85,430.22 L245.65,430.43 L246.44,430.30 L247.23,429.98 L248.02,430.33 L248.82,430.53 L249.61,430.46 L250.40,430.30 L251.19,429.96 L251.99,430.07 L252.78,430.20 L253.57,430.26 L254.37,430.07 L255.16,430.05 L255.95,430.09 L256.74,430.04 L257.54,430.13 L258.33,429.72 L259.12,430.37 L259.91,429.96 L260.71,430.10 L261.50,429.80 L262.29,429.93 L263.08,429.80 L263.88,429.77 L264.67,429.82 L265.46,429.69 L266.25,430.06 L267.05,429.69 L267.84,429.85 L268.63,429.76 L269.43,429.55 L270.22,429.61 L271.01,429.46 L271.80,430.09 L272.60,429.85 L273.39,429.57 L274.18,429.87 L274.97,429.72 L275.77,429.42 L276.56,429.54 L277.35,429.80 L278.14,429.58 L278.94,429.54 L279.73,429.61 L280.52,429.63 L281.31,429.58 L282.11,429.82 L282.90,429.54" fill="none" stroke="#bcdcf2" stroke-width="1.0"/>
<path d="M93.46,444.11 L94.25,444.75 L95.05,443.97 L95.84,443.93 L96.63,443.53 L97.42,443.45 L98.22,443.00 L99.01,443.05 L99.80,442.91 L100.59,442.51 L101.39,442.31 L102.18,442.21 L102.97,441.96 L103.76,441.58 L104.56,441.36 L105.35,441.32 L106.14,441.07 L106.93,441.07 L107.73,440.30 L108.52,440.37 L109.31,439.90 L110.11,439.82 L110.90,439.35 L111.69,439.19 L112.48,439.15 L113.28,438.74 L114.07,438.89 L114.86,438.32 L115.65,438.52 L116.45,438.01 L117.24,437.67 L118.03,437.59 L118.82,437.47 L119.62,437.35 L120.41,437.10 L121.20,436.72 L121.99,436.60 L122.79,436.64 L123.58,436.67 L124.37,436.27 L125.17,436.49 L125.96,436.24 L126.75,436.17 L127.54,435.84 L128.34,435.81 L129.13,435.67 L129.92,435.60 L130.71,435.64 L131.51,435.35 L132.30,435.11 L133.09,435.23 L133.88,435.02 L134.68,435.03 L135.47,434.75 L136.26,434.70 L137.05,434.56 L137.85,434.54 L138.64,434.23 L139.43,434.44 L140.23,434.33 L141.02,434.27 L141.81,433.98 L142.60,434.06 L143.40,433.96 L144.19,433.64 L144.98,433.47 L145.77,433.46 L146.57,433.86 L147.36,433.49 L148.15,433.40 L148.94,433.32 L149.74,433.10 L150.53,432.67 L151.32,432.91 L152.12,432.90 L152.91,432.59 L153.70,432.62 L154.49,432.54 L155.29,432.61 L156.08,432.44 L156.87,432.31 L157.66,432.61 L158.46,432.50 L159.25,432.02 L160.04,431.99 L160.83,432.14 L161.63,432.15 L162.42,431.96 L163.21,432.06 L164.00,431.86 L164.80,431.49 L165.59,431.67 L166.38,431.45 L167.18,431.61 L167.97,431.46 L168.76,431.25 L169.55,431.63 L170.35,431.43 L171.14,431.35 L171.93,431.24 L172.72,430.99 L173.52,431.08 L174.31,431.38 L175.10,431.14 L175.89,431.19 L176.69,431.15 L177.48,430.65 L178.27,431.08 L179.06,430.83 L179.86,430.94 L180.65,430.65 L181.44,430.69 L182.24,430.68 L183.03,430.67 L183.82,430.45 L184.61,430.73 L185.41,430.66 L186.20,430.68 L186.99,430.26 L187.78,430.48 L188.58,430.55 L189.37,430.42 L190.16,429.93 L190.95,430.29 L191.75,430.11 L192.54,430.13 L193.33,430.16 L194.12,430.23 L194.92,430.14 L195.71,430.10 L196.50,430.35 L197.30,429.56 L198.09,429.79 L198.88,429.87 L199.67,429.88 L200.47,429.94 L201.26,429.63 L202.05,429.77 L202.84,429.62 L203.64,429.88 L204.43,429.56 L205.22,429.27 L206.01,429.59 L206.81,429.38 L207.60,429.46 L208.39,429.26 L209.18,429.22 L209.98,429.34 L210.77,429.40 L211.56,429.23 L212.36,429.23 L213.15,429.29 L213.94,429.09 L214.73,429.05 L215.53,429.22 L216.32,429.06 L217.11,428.55 L217.90,428.84 L218.70,428.91 L219.49,428.50 L220.28,428.93 L221.07,429.21 L221.87,429.09 L222.66,429.01 L223.45,428.71 L224.24,428.57 L225.04,429.05 L225.83,428.52 L226.62,428.87 L227.42,428.63 L228.21,428.58 L229.00,428.57 L229.79,428.62 L230.59,428.58 L231.38,428.77 L232.17,428.54 L232.96,428.41 L233.76,428.41 L234.55,428.13 L235.34,428.35 L236.13,428.40 L236.93,428.24 L237.72,428.44 L238.51,428.67 L239.31,428.80 L240.10,428.24 L240.89,428.34 L241.68,428.28 L242.48,428.45 L243.27,428.33 L244.06,428.07 L244.85,428.30 L245.65,428.51 L246.44,428.39 L247.23,428.09 L248.02,428.47 L248.82,428.68 L249.61,428.62 L250.40,428.46 L251.19,428.11 L251.99,428.21 L252.78,428.33 L253.57,428.40 L254.37,428.20 L255.16,428.19 L255.95,428.24 L256.74,428.18 L257.54,428.24 L258.33,427.83 L259.12,428.47 L259.91,428.06 L260.71,428.23 L261.50,427.94 L262.29,428.08 L263.08,427.97 L263.88,427.93 L264.67,427.97 L265.46,427.83 L266.25,428.19 L267.05,427.81 L267.84,427.97 L268.63,427.87 L269.43,427.67 L270.22,427.72 L271.01,427.57 L271.80,428.22 L272.60,428.00 L273.39,427.69 L274.18,428.00 L274.97,427.84 L275.77,427.53 L276.56,427.65 L277.35,427.92 L278.14,427.68 L278.94,427.64 L279.73,427.72 L280.52,427.73 L281.31,427.68 L282.11,427.93 L282.90,427.67" fill="none" stroke="#4f96d4" stroke-width="2.4" stroke-linejoin="round"/>
<path d="M93.46,431.11 L94.25,430.36 L95.05,430.11 L95.84,429.60 L96.63,428.83 L97.42,429.38 L98.22,428.64 L99.01,428.29 L99.80,427.34 L100.59,426.38 L101.39,426.27 L102.18,425.55 L102.97,426.05 L103.76,424.75 L104.56,424.67 L105.35,423.09 L106.14,422.98 L106.93,422.45 L107.73,422.35 L108.52,421.57 L109.31,421.07 L110.11,420.95 L110.90,420.53 L111.69,419.96 L112.48,419.66 L113.28,419.32 L114.07,418.75 L114.86,418.52 L115.65,417.45 L116.45,417.99 L117.24,416.53 L118.03,416.65 L118.82,416.19 L119.62,416.10 L120.41,415.18 L121.20,414.83 L121.99,414.31 L122.79,414.20 L123.58,413.54 L124.37,412.57 L125.17,412.74 L125.96,412.83 L126.75,411.93 L127.54,412.07 L128.34,411.40 L129.13,411.09 L129.92,411.07 L130.71,411.35 L131.51,410.42 L132.30,409.74 L133.09,409.75 L133.88,409.12 L134.68,408.61 L135.47,408.83 L136.26,407.84 L137.05,407.44 L137.85,407.39 L138.64,407.13 L139.43,406.98 L140.23,406.38 L141.02,407.00 L141.81,406.97 L142.60,406.54 L143.40,407.02 L144.19,407.06 L144.98,406.62 L145.77,405.82 L146.57,405.55 L147.36,406.12 L148.15,406.05 L148.94,405.20 L149.74,405.04 L150.53,404.91 L151.32,404.45 L152.12,404.12 L152.91,404.43 L153.70,404.22 L154.49,404.78 L155.29,404.82 L156.08,404.29 L156.87,404.10 L157.66,403.94 L158.46,403.83 L159.25,403.64 L160.04,403.52 L160.83,404.38 L161.63,403.94 L162.42,403.42 L163.21,403.29 L164.00,404.04 L164.80,402.90 L165.59,403.50 L166.38,403.36 L167.18,403.11 L167.97,402.83 L168.76,403.66 L169.55,402.61 L170.35,402.94 L171.14,403.11 L171.93,402.85 L172.72,403.52 L173.52,402.85 L174.31,402.37 L175.10,402.71 L175.89,402.52 L176.69,402.40 L177.48,402.23 L178.27,401.86 L179.06,402.19 L179.86,402.15 L180.65,401.65 L181.44,400.98 L182.24,401.80 L183.03,401.43 L183.82,402.19 L184.61,401.09 L185.41,401.35 L186.20,401.11 L186.99,401.69 L187.78,402.07 L188.58,401.37 L189.37,401.49 L190.16,402.15 L190.95,402.35 L191.75,401.67 L192.54,401.90 L193.33,400.77 L194.12,402.06 L194.92,402.08 L195.71,401.93 L196.50,402.58 L197.30,402.33 L198.09,401.29 L198.88,401.89 L199.67,402.14 L200.47,402.40 L201.26,401.72 L202.05,401.80 L202.84,402.07 L203.64,402.29 L204.43,402.12 L205.22,402.09 L206.01,402.49 L206.81,402.08 L207.60,403.18 L208.39,402.85 L209.18,402.55 L209.98,402.55 L210.77,402.95 L211.56,402.45 L212.36,402.13 L213.15,402.37 L213.94,402.49 L214.73,402.27 L215.53,402.48 L216.32,403.21 L217.11,402.90 L217.90,402.33 L218.70,403.37 L219.49,402.83 L220.28,403.05 L221.07,403.26 L221.87,403.32 L222.66,402.84 L223.45,402.90 L224.24,402.97 L225.04,403.65 L225.83,403.29 L226.62,403.18 L227.42,402.99 L228.21,403.08 L229.00,403.09 L229.79,403.11 L230.59,403.21 L231.38,403.83 L232.17,403.54 L232.96,403.91 L233.76,404.46 L234.55,404.34 L235.34,402.87 L236.13,404.17 L236.93,404.64 L237.72,404.03 L238.51,403.07 L239.31,403.81 L240.10,403.65 L240.89,403.95 L241.68,403.96 L242.48,403.54 L243.27,403.68 L244.06,404.11 L244.85,403.80 L245.65,403.81 L246.44,404.45 L247.23,404.47 L248.02,404.61 L248.82,405.13 L249.61,404.57 L250.40,405.22 L251.19,405.40 L251.99,405.94 L252.78,405.78 L253.57,404.78 L254.37,405.92 L255.16,405.47 L255.95,405.79 L256.74,405.61 L257.54,405.68 L258.33,406.27 L259.12,406.17 L259.91,406.14 L260.71,406.19 L261.50,406.30 L262.29,406.52 L263.08,406.21 L263.88,405.94 L264.67,406.26 L265.46,406.80 L266.25,406.35 L267.05,406.52 L267.84,406.48 L268.63,406.00 L269.43,406.81 L270.22,406.66 L271.01,406.94 L271.80,406.69 L272.60,406.75 L273.39,405.85 L274.18,406.42 L274.97,406.76 L275.77,405.77 L276.56,406.98 L277.35,406.07 L278.14,405.96 L278.94,406.09 L279.73,406.33 L280.52,406.25 L281.31,406.31 L282.11,405.80 L282.90,406.98 L282.90,422.83 L282.11,421.62 L281.31,422.03 L280.52,421.97 L279.73,422.05 L278.94,421.70 L278.14,421.55 L277.35,421.62 L276.56,422.48 L275.77,421.21 L274.97,422.23 L274.18,421.95 L273.39,421.57 L272.60,422.42 L271.80,422.33 L271.01,422.60 L270.22,422.27 L269.43,422.32 L268.63,421.54 L267.84,422.13 L267.05,422.37 L266.25,422.23 L265.46,422.58 L264.67,422.03 L263.88,421.62 L263.08,421.73 L262.29,422.00 L261.50,421.85 L260.71,421.69 L259.91,421.59 L259.12,421.72 L258.33,421.84 L257.54,421.21 L256.74,421.18 L255.95,421.52 L255.16,421.04 L254.37,421.63 L253.57,420.49 L252.78,421.46 L251.99,421.41 L251.19,420.90 L250.40,420.51 L249.61,419.90 L248.82,420.52 L248.02,420.08 L247.23,419.98 L246.44,420.15 L245.65,419.57 L244.85,419.53 L244.06,419.81 L243.27,419.40 L242.48,419.04 L241.68,419.55 L240.89,419.61 L240.10,419.30 L239.31,419.42 L238.51,418.87 L237.72,419.48 L236.93,420.10 L236.13,419.62 L235.34,418.36 L234.55,419.75 L233.76,420.11 L232.96,419.29 L232.17,418.99 L231.38,419.31 L230.59,418.59 L229.79,418.40 L229.00,418.56 L228.21,418.63 L227.42,418.44 L226.62,418.64 L225.83,418.96 L225.04,419.43 L224.24,418.68 L223.45,418.66 L222.66,418.81 L221.87,419.12 L221.07,419.02 L220.28,418.76 L219.49,418.54 L218.70,418.86 L217.90,417.92 L217.11,418.43 L216.32,418.77 L215.53,418.21 L214.73,418.01 L213.94,418.17 L213.15,418.03 L212.36,417.72 L211.56,417.89 L210.77,418.46 L209.98,417.96 L209.18,418.03 L208.39,418.42 L207.60,418.65 L206.81,417.53 L206.01,418.05 L205.22,417.55 L204.43,417.49 L203.64,417.79 L202.84,417.43 L202.05,417.32 L201.26,417.41 L200.47,418.12 L199.67,417.81 L198.88,417.65 L198.09,416.83 L197.30,417.74 L196.50,418.07 L195.71,417.48 L194.92,417.64 L194.12,417.69 L193.33,416.44 L192.54,417.46 L191.75,417.17 L190.95,417.97 L190.16,417.66 L189.37,417.04 L188.58,417.02 L187.78,417.80 L186.99,417.39 L186.20,416.85 L185.41,417.12 L184.61,416.86 L183.82,418.05 L183.03,417.21 L182.24,417.56 L181.44,416.57 L180.65,417.17 L179.86,417.38 L179.06,417.27 L178.27,416.90 L177.48,417.39 L176.69,417.48 L175.89,417.61 L175.10,417.82 L174.31,417.58 L173.52,417.85 L172.72,418.49 L171.93,417.78 L171.14,418.01 L170.35,417.63 L169.55,417.35 L168.76,418.29 L167.97,417.53 L167.18,417.72 L166.38,417.97 L165.59,418.08 L164.80,417.53 L164.00,418.58 L163.21,417.78 L162.42,417.85 L161.63,418.36 L160.83,418.80 L160.04,417.77 L159.25,417.76 L158.46,417.81 L157.66,417.69 L156.87,417.67 L156.08,417.91 L155.29,418.58 L154.49,418.65 L153.70,418.00 L152.91,418.24 L152.12,417.94 L151.32,418.25 L150.53,418.57 L149.74,418.81 L148.94,419.02 L148.15,419.70 L147.36,419.69 L146.57,419.02 L145.77,419.16 L144.98,419.66 L144.19,420.08 L143.40,419.94 L142.60,419.57 L141.81,419.94 L141.02,420.09 L140.23,419.43 L139.43,420.06 L138.64,420.23 L137.85,420.43 L137.05,420.39 L136.26,420.76 L135.47,421.66 L134.68,421.22 L133.88,421.69 L133.09,422.30 L132.30,422.22 L131.51,422.86 L130.71,423.80 L129.92,423.51 L129.13,423.34 L128.34,423.67 L127.54,424.20 L126.75,424.12 L125.96,425.04 L125.17,424.99 L124.37,424.70 L123.58,425.71 L122.79,426.20 L121.99,426.22 L121.20,426.76 L120.41,427.07 L119.62,427.86 L118.82,427.95 L118.03,428.37 L117.24,428.21 L116.45,429.50 L115.65,429.08 L114.86,430.03 L114.07,430.33 L113.28,430.86 L112.48,431.40 L111.69,431.58 L110.90,432.19 L110.11,432.51 L109.31,432.48 L108.52,432.88 L107.73,433.51 L106.93,433.53 L106.14,433.96 L105.35,434.09 L104.56,435.56 L103.76,435.63 L102.97,436.91 L102.18,436.55 L101.39,437.25 L100.59,437.36 L99.80,438.29 L99.01,439.30 L98.22,439.44 L97.42,440.17 L96.63,439.54 L95.84,440.38 L95.05,440.65 L94.25,440.84 L93.46,441.48 Z" fill="#f4a1a1" fill-opacity="0.9" stroke="none"/>
<path d="M93.46,431.11 L94.25,430.36 L95.05,430.11 L95.84,429.60 L96.63,428.83 L97.42,429.38 L98.22,428.64 L99.01,428.29 L99.80,427.34 L100.59,426.38 L101.39,426.27 L102.18,425.55 L102.97,426.05 L103.76,424.75 L104.56,424.67 L105.35,423.09 L106.14,422.98 L106.93,422.45 L107.73,422.35 L108.52,421.57 L109.31,421.07 L110.11,420.95 L110.90,420.53 L111.69,419.96 L112.48,419.66 L113.28,419.32 L114.07,418.75 L114.86,418.52 L115.65,417.45 L116.45,417.99 L117.24,416.53 L118.03,416.65 L118.82,416.19 L119.62,416.10 L120.41,415.18 L121.20,414.83 L121.99,414.31 L122.79,414.20 L123.58,413.54 L124.37,412.57 L125.17,412.74 L125.96,412.83 L126.75,411.93 L127.54,412.07 L128.34,411.40 L129.13,411.09 L129.92,411.07 L130.71,411.35 L131.51,410.42 L132.30,409.74 L133.09,409.75 L133.88,409.12 L134.68,408.61 L135.47,408.83 L136.26,407.84 L137.05,407.44 L137.85,407.39 L138.64,407.13 L139.43,406.98 L140.23,406.38 L141.02,407.00 L141.81,406.97 L142.60,406.54 L143.40,407.02 L144.19,407.06 L144.98,406.62 L145.77,405.82 L146.57,405.55 L147.36,406.12 L148.15,406.05 L148.94,405.20 L149.74,405.04 L150.53,404.91 L151.32,404.45 L152.12,404.12 L152.91,404.43 L153.70,404.22 L154.49,404.78 L155.29,404.82 L156.08,404.29 L156.87,404.10 L157.66,403.94 L158.46,403.83 L159.25,403.64 L160.04,403.52 L160.83,404.38 L161.63,403.94 L162.42,403.42 L163.21,403.29 L164.00,404.04 L164.80,402.90 L165.59,403.50 L166.38,403.36 L167.18,403.11 L167.97,402.83 L168.76,403.66 L169.55,402.61 L170.35,402.94 L171.14,403.11 L171.93,402.85 L172.72,403.52 L173.52,402.85 L174.31,402.37 L175.10,402.71 L175.89,402.52 L176.69,402.40 L177.48,402.23 L178.27,401.86 L179.06,402.19 L179.86,402.15 L180.65,401.65 L181.44,400.98 L182.24,401.80 L183.03,401.43 L183.82,402.19 L184.61,401.09 L185.41,401.35 L186.20,401.11 L186.99,401.69 L187.78,402.07 L188.58,401.37 L189.37,401.49 L190.16,402.15 L190.95,402.35 L191.75,401.67 L192.54,401.90 L193.33,400.77 L194.12,402.06 L194.92,402.08 L195.71,401.93 L196.50,402.58 L197.30,402.33 L198.09,401.29 L198.88,401.89 L199.67,402.14 L200.47,402.40 L201.26,401.72 L202.05,401.80 L202.84,402.07 L203.64,402.29 L204.43,402.12 L205.22,402.09 L206.01,402.49 L206.81,402.08 L207.60,403.18 L208.39,402.85 L209.18,402.55 L209.98,402.55 L210.77,402.95 L211.56,402.45 L212.36,402.13 L213.15,402.37 L213.94,402.49 L214.73,402.27 L215.53,402.48 L216.32,403.21 L217.11,402.90 L217.90,402.33 L218.70,403.37 L219.49,402.83 L220.28,403.05 L221.07,403.26 L221.87,403.32 L222.66,402.84 L223.45,402.90 L224.24,402.97 L225.04,403.65 L225.83,403.29 L226.62,403.18 L227.42,402.99 L228.21,403.08 L229.00,403.09 L229.79,403.11 L230.59,403.21 L231.38,403.83 L232.17,403.54 L232.96,403.91 L233.76,404.46 L234.55,404.34 L235.34,402.87 L236.13,404.17 L236.93,404.64 L237.72,404.03 L238.51,403.07 L239.31,403.81 L240.10,403.65 L240.89,403.95 L241.68,403.96 L242.48,403.54 L243.27,403.68 L244.06,404.11 L244.85,403.80 L245.65,403.81 L246.44,404.45 L247.23,404.47 L248.02,404.61 L248.82,405.13 L249.61,404.57 L250.40,405.22 L251.19,405.40 L251.99,405.94 L252.78,405.78 L253.57,404.78 L254.37,405.92 L255.16,405.47 L255.95,405.79 L256.74,405.61 L257.54,405.68 L258.33,406.27 L259.12,406.17 L259.91,406.14 L260.71,406.19 L261.50,406.30 L262.29,406.52 L263.08,406.21 L263.88,405.94 L264.67,406.26 L265.46,406.80 L266.25,406.35 L267.05,406.52 L267.84,406.48 L268.63,406.00 L269.43,406.81 L270.22,406.66 L271.01,406.94 L271.80,406.69 L272.60,406.75 L273.39,405.85 L274.18,406.42 L274.97,406.76 L275.77,405.77 L276.56,406.98 L277.35,406.07 L278.14,405.96 L278.94,406.09 L279.73,406.33 L280.52,406.25 L281.31,406.31 L282.11,405.80 L282.90,406.98" fill="none" stroke="#ea8686" stroke-width="1.0"/>
<path d="M93.46,441.48 L94.25,440.84 L95.05,440.65 L95.84,440.38 L96.63,439.54 L97.42,440.17 L98.22,439.44 L99.01,439.30 L99.80,438.29 L100.59,437.36 L101.39,437.25 L102.18,436.55 L102.97,436.91 L103.76,435.63 L104.56,435.56 L105.35,434.09 L106.14,433.96 L106.93,433.53 L107.73,433.51 L108.52,432.88 L109.31,432.48 L110.11,432.51 L110.90,432.19 L111.69,431.58 L112.48,431.40 L113.28,430.86 L114.07,430.33 L114.86,430.03 L115.65,429.08 L116.45,429.50 L117.24,428.21 L118.03,428.37 L118.82,427.95 L119.62,427.86 L120.41,427.07 L121.20,426.76 L121.99,426.22 L122.79,426.20 L123.58,425.71 L124.37,424.70 L125.17,424.99 L125.96,425.04 L126.75,424.12 L127.54,424.20 L128.34,423.67 L129.13,423.34 L129.92,423.51 L130.71,423.80 L131.51,422.86 L132.30,422.22 L133.09,422.30 L133.88,421.69 L134.68,421.22 L135.47,421.66 L136.26,420.76 L137.05,420.39 L137.85,420.43 L138.64,420.23 L139.43,420.06 L140.23,419.43 L141.02,420.09 L141.81,419.94 L142.60,419.57 L143.40,419.94 L144.19,420.08 L144.98,419.66 L145.77,419.16 L146.57,419.02 L147.36,419.69 L148.15,419.70 L148.94,419.02 L149.74,418.81 L150.53,418.57 L151.32,418.25 L152.12,417.94 L152.91,418.24 L153.70,418.00 L154.49,418.65 L155.29,418.58 L156.08,417.91 L156.87,417.67 L157.66,417.69 L158.46,417.81 L159.25,417.76 L160.04,417.77 L160.83,418.80 L161.63,418.36 L162.42,417.85 L163.21,417.78 L164.00,418.58 L164.80,417.53 L165.59,418.08 L166.38,417.97 L167.18,417.72 L167.97,417.53 L168.76,418.29 L169.55,417.35 L170.35,417.63 L171.14,418.01 L171.93,417.78 L172.72,418.49 L173.52,417.85 L174.31,417.58 L175.10,417.82 L175.89,417.61 L176.69,417.48 L177.48,417.39 L178.27,416.90 L179.06,417.27 L179.86,417.38 L180.65,417.17 L181.44,416.57 L182.24,417.56 L183.03,417.21 L183.82,418.05 L184.61,416.86 L185.41,417.12 L186.20,416.85 L186.99,417.39 L187.78,417.80 L188.58,417.02 L189.37,417.04 L190.16,417.66 L190.95,417.97 L191.75,417.17 L192.54,417.46 L193.33,416.44 L194.12,417.69 L194.92,417.64 L195.71,417.48 L196.50,418.07 L197.30,417.74 L198.09,416.83 L198.88,417.65 L199.67,417.81 L200.47,418.12 L201.26,417.41 L202.05,417.32 L202.84,417.43 L203.64,417.79 L204.43,417.49 L205.22,417.55 L206.01,418.05 L206.81,417.53 L207.60,418.65 L208.39,418.42 L209.18,418.03 L209.98,417.96 L210.77,418.46 L211.56,417.89 L212.36,417.72 L213.15,418.03 L213.94,418.17 L214.73,418.01 L215.53,418.21 L216.32,418.77 L217.11,418.43 L217.90,417.92 L218.70,418.86 L219.49,418.54 L220.28,418.76 L221.07,419.02 L221.87,419.12 L222.66,418.81 L223.45,418.66 L224.24,418.68 L225.04,419.43 L225.83,418.96 L226.62,418.64 L227.42,418.44 L228.21,418.63 L229.00,418.56 L229.79,418.40 L230.59,418.59 L231.38,419.31 L232.17,418.99 L232.96,419.29 L233.76,420.11 L234.55,419.75 L235.34,418.36 L236.13,419.62 L236.93,420.10 L237.72,419.48 L238.51,418.87 L239.31,419.42 L240.10,419.30 L240.89,419.61 L241.68,419.55 L242.48,419.04 L243.27,419.40 L244.06,419.81 L244.85,419.53 L245.65,419.57 L246.44,420.15 L247.23,419.98 L248.02,420.08 L248.82,420.52 L249.61,419.90 L250.40,420.51 L251.19,420.90 L251.99,421.41 L252.78,421.46 L253.57,420.49 L254.37,421.63 L255.16,421.04 L255.95,421.52 L256.74,421.18 L257.54,421.21 L258.33,421.84 L259.12,421.72 L259.91,421.59 L260.71,421.69 L261.50,421.85 L262.29,422.00 L263.08,421.73 L263.88,421.62 L264.67,422.03 L265.46,422.58 L266.25,422.23 L267.05,422.37 L267.84,422.13 L268.63,421.54 L269.43,422.32 L270.22,422.27 L271.01,422.60 L271.80,422.33 L272.60,422.42 L273.39,421.57 L274.18,421.95 L274.97,422.23 L275.77,421.21 L276.56,422.48 L277.35,421.62 L278.14,421.55 L278.94,421.70 L279.73,422.05 L280.52,421.97 L281.31,422.03 L282.11,421.62 L282.90,422.83" fill="none" stroke="#ea8686" stroke-width="1.0"/>
<path d="M93.46,436.29 L94.25,435.60 L95.05,435.38 L95.84,434.99 L96.63,434.19 L97.42,434.77 L98.22,434.04 L99.01,433.80 L99.80,432.81 L100.59,431.87 L101.39,431.76 L102.18,431.05 L102.97,431.48 L103.76,430.19 L104.56,430.11 L105.35,428.59 L106.14,428.47 L106.93,427.99 L107.73,427.93 L108.52,427.23 L109.31,426.77 L110.11,426.73 L110.90,426.36 L111.69,425.77 L112.48,425.53 L113.28,425.09 L114.07,424.54 L114.86,424.28 L115.65,423.26 L116.45,423.75 L117.24,422.37 L118.03,422.51 L118.82,422.07 L119.62,421.98 L120.41,421.13 L121.20,420.79 L121.99,420.26 L122.79,420.20 L123.58,419.62 L124.37,418.63 L125.17,418.87 L125.96,418.94 L126.75,418.03 L127.54,418.13 L128.34,417.54 L129.13,417.21 L129.92,417.29 L130.71,417.57 L131.51,416.64 L132.30,415.98 L133.09,416.03 L133.88,415.41 L134.68,414.91 L135.47,415.24 L136.26,414.30 L137.05,413.91 L137.85,413.91 L138.64,413.68 L139.43,413.52 L140.23,412.90 L141.02,413.55 L141.81,413.45 L142.60,413.06 L143.40,413.48 L144.19,413.57 L144.98,413.14 L145.77,412.49 L146.57,412.28 L147.36,412.90 L148.15,412.87 L148.94,412.11 L149.74,411.92 L150.53,411.74 L151.32,411.35 L152.12,411.03 L152.91,411.33 L153.70,411.11 L154.49,411.71 L155.29,411.70 L156.08,411.10 L156.87,410.89 L157.66,410.81 L158.46,410.82 L159.25,410.70 L160.04,410.64 L160.83,411.59 L161.63,411.15 L162.42,410.64 L163.21,410.53 L164.00,411.31 L164.80,410.21 L165.59,410.79 L166.38,410.66 L167.18,410.42 L167.97,410.18 L168.76,410.98 L169.55,409.98 L170.35,410.28 L171.14,410.56 L171.93,410.31 L172.72,411.00 L173.52,410.35 L174.31,409.97 L175.10,410.27 L175.89,410.06 L176.69,409.94 L177.48,409.81 L178.27,409.38 L179.06,409.73 L179.86,409.77 L180.65,409.41 L181.44,408.77 L182.24,409.68 L183.03,409.32 L183.82,410.12 L184.61,408.97 L185.41,409.24 L186.20,408.98 L186.99,409.54 L187.78,409.93 L188.58,409.20 L189.37,409.26 L190.16,409.91 L190.95,410.16 L191.75,409.42 L192.54,409.68 L193.33,408.61 L194.12,409.88 L194.92,409.86 L195.71,409.71 L196.50,410.33 L197.30,410.04 L198.09,409.06 L198.88,409.77 L199.67,409.98 L200.47,410.26 L201.26,409.56 L202.05,409.56 L202.84,409.75 L203.64,410.04 L204.43,409.80 L205.22,409.82 L206.01,410.27 L206.81,409.81 L207.60,410.91 L208.39,410.63 L209.18,410.29 L209.98,410.26 L210.77,410.71 L211.56,410.17 L212.36,409.93 L213.15,410.20 L213.94,410.33 L214.73,410.14 L215.53,410.35 L216.32,410.99 L217.11,410.67 L217.90,410.13 L218.70,411.11 L219.49,410.69 L220.28,410.90 L221.07,411.14 L221.87,411.22 L222.66,410.83 L223.45,410.78 L224.24,410.82 L225.04,411.54 L225.83,411.12 L226.62,410.91 L227.42,410.71 L228.21,410.85 L229.00,410.83 L229.79,410.76 L230.59,410.90 L231.38,411.57 L232.17,411.27 L232.96,411.60 L233.76,412.28 L234.55,412.05 L235.34,410.61 L236.13,411.90 L236.93,412.37 L237.72,411.76 L238.51,410.97 L239.31,411.62 L240.10,411.47 L240.89,411.78 L241.68,411.76 L242.48,411.29 L243.27,411.54 L244.06,411.96 L244.85,411.67 L245.65,411.69 L246.44,412.30 L247.23,412.22 L248.02,412.35 L248.82,412.82 L249.61,412.23 L250.40,412.86 L251.19,413.15 L251.99,413.67 L252.78,413.62 L253.57,412.64 L254.37,413.77 L255.16,413.25 L255.95,413.65 L256.74,413.40 L257.54,413.44 L258.33,414.06 L259.12,413.94 L259.91,413.87 L260.71,413.94 L261.50,414.07 L262.29,414.26 L263.08,413.97 L263.88,413.78 L264.67,414.14 L265.46,414.69 L266.25,414.29 L267.05,414.45 L267.84,414.31 L268.63,413.77 L269.43,414.56 L270.22,414.46 L271.01,414.77 L271.80,414.51 L272.60,414.59 L273.39,413.71 L274.18,414.19 L274.97,414.50 L275.77,413.49 L276.56,414.73 L277.35,413.84 L278.14,413.75 L278.94,413.90 L279.73,414.19 L280.52,414.11 L281.31,414.17 L282.11,413.71 L282.90,414.91" fill="none" stroke="#d8141c" stroke-width="2.9" stroke-linejoin="round"/>
<path d="M93.46,422.25 L94.25,421.36 L95.05,420.96 L95.84,421.04 L96.63,420.35 L97.42,419.79 L98.22,418.74 L99.01,418.39 L99.80,417.50 L100.59,417.93 L101.39,416.04 L102.18,416.01 L102.97,415.06 L103.76,414.75 L104.56,414.20 L105.35,413.17 L106.14,412.48 L106.93,412.24 L107.73,411.65 L108.52,410.62 L109.31,410.66 L110.11,410.13 L110.90,408.73 L111.69,408.39 L112.48,408.23 L113.28,407.04 L114.07,406.23 L114.86,405.84 L115.65,405.33 L116.45,404.04 L117.24,403.08 L118.03,402.86 L118.82,402.35 L119.62,401.32 L120.41,400.75 L121.20,400.63 L121.99,399.79 L122.79,399.18 L123.58,399.21 L124.37,398.93 L125.17,398.00 L125.96,397.60 L126.75,396.89 L127.54,397.32 L128.34,396.64 L129.13,396.35 L129.92,396.27 L130.71,395.03 L131.51,394.49 L132.30,394.51 L133.09,393.22 L133.88,393.03 L134.68,392.71 L135.47,392.31 L136.26,391.70 L137.05,392.23 L137.85,391.18 L138.64,390.91 L139.43,391.62 L140.23,390.54 L141.02,390.59 L141.81,389.92 L142.60,390.07 L143.40,389.64 L144.19,389.29 L144.98,389.46 L145.77,388.64 L146.57,388.66 L147.36,388.20 L148.15,388.31 L148.94,387.43 L149.74,387.42 L150.53,387.61 L151.32,387.09 L152.12,386.69 L152.91,386.28 L153.70,387.26 L154.49,386.14 L155.29,386.12 L156.08,386.21 L156.87,386.44 L157.66,385.56 L158.46,386.32 L159.25,385.50 L160.04,385.01 L160.83,385.89 L161.63,385.23 L162.42,385.42 L163.21,384.71 L164.00,384.12 L164.80,383.86 L165.59,385.25 L166.38,384.63 L167.18,383.92 L167.97,383.40 L168.76,383.73 L169.55,383.90 L170.35,383.37 L171.14,383.34 L171.93,383.26 L172.72,383.21 L173.52,382.59 L174.31,382.34 L175.10,382.39 L175.89,382.17 L176.69,382.45 L177.48,381.98 L178.27,381.17 L179.06,381.57 L179.86,382.00 L180.65,380.71 L181.44,380.85 L182.24,380.00 L183.03,380.54 L183.82,380.32 L184.61,380.50 L185.41,379.14 L186.20,378.57 L186.99,379.68 L187.78,379.49 L188.58,378.71 L189.37,379.11 L190.16,378.67 L190.95,378.32 L191.75,378.02 L192.54,377.49 L193.33,377.61 L194.12,377.03 L194.92,377.39 L195.71,376.64 L196.50,377.35 L197.30,376.95 L198.09,375.77 L198.88,376.15 L199.67,375.49 L200.47,375.27 L201.26,374.69 L202.05,374.70 L202.84,374.42 L203.64,374.91 L204.43,375.16 L205.22,375.16 L206.01,375.01 L206.81,375.22 L207.60,374.77 L208.39,374.56 L209.18,374.33 L209.98,374.73 L210.77,375.27 L211.56,374.65 L212.36,374.40 L213.15,374.09 L213.94,374.13 L214.73,374.57 L215.53,374.44 L216.32,373.34 L217.11,373.65 L217.90,373.17 L218.70,373.02 L219.49,374.23 L220.28,373.73 L221.07,373.71 L221.87,373.50 L222.66,373.46 L223.45,373.58 L224.24,373.57 L225.04,374.20 L225.83,373.69 L226.62,373.78 L227.42,373.20 L228.21,373.36 L229.00,372.94 L229.79,372.90 L230.59,373.08 L231.38,372.98 L232.17,372.96 L232.96,372.96 L233.76,372.74 L234.55,372.84 L235.34,372.55 L236.13,372.68 L236.93,372.50 L237.72,373.09 L238.51,372.13 L239.31,372.64 L240.10,372.49 L240.89,372.16 L241.68,372.31 L242.48,371.92 L243.27,372.24 L244.06,372.29 L244.85,372.16 L245.65,371.19 L246.44,371.60 L247.23,371.90 L248.02,371.44 L248.82,372.00 L249.61,370.64 L250.40,371.86 L251.19,370.98 L251.99,370.91 L252.78,371.47 L253.57,370.51 L254.37,370.08 L255.16,370.19 L255.95,369.99 L256.74,369.75 L257.54,370.08 L258.33,369.72 L259.12,369.83 L259.91,369.51 L260.71,369.87 L261.50,369.12 L262.29,369.72 L263.08,369.87 L263.88,369.09 L264.67,368.54 L265.46,368.81 L266.25,369.25 L267.05,368.72 L267.84,369.28 L268.63,369.15 L269.43,368.98 L270.22,369.89 L271.01,368.95 L271.80,369.36 L272.60,369.15 L273.39,369.32 L274.18,369.35 L274.97,368.92 L275.77,368.14 L276.56,367.80 L277.35,368.39 L278.14,367.97 L278.94,368.45 L279.73,369.05 L280.52,368.30 L281.31,368.23 L282.11,368.49 L282.90,368.26 L282.90,394.70 L282.11,395.07 L281.31,394.69 L280.52,394.89 L279.73,395.79 L278.94,395.16 L278.14,394.65 L277.35,395.15 L276.56,394.47 L275.77,394.84 L274.97,395.50 L274.18,395.57 L273.39,395.61 L272.60,395.24 L271.80,395.33 L271.01,394.85 L270.22,395.92 L269.43,395.01 L268.63,395.05 L267.84,395.23 L267.05,394.96 L266.25,395.47 L265.46,394.84 L264.67,394.65 L263.88,395.24 L263.08,395.72 L262.29,395.56 L261.50,395.30 L260.71,396.06 L259.91,395.36 L259.12,395.79 L258.33,395.71 L257.54,395.65 L256.74,395.53 L255.95,395.99 L255.16,395.79 L254.37,395.65 L253.57,395.93 L252.78,396.49 L251.99,395.66 L251.19,395.81 L250.40,396.65 L249.61,395.45 L248.82,396.87 L248.02,396.37 L247.23,396.99 L246.44,396.51 L245.65,396.09 L244.85,396.95 L244.06,397.13 L243.27,396.93 L242.48,396.70 L241.68,397.10 L240.89,397.08 L240.10,397.27 L239.31,397.25 L238.51,396.58 L237.72,397.45 L236.93,396.66 L236.13,397.02 L235.34,396.96 L234.55,397.47 L233.76,397.41 L232.96,397.52 L232.17,397.19 L231.38,397.11 L230.59,397.11 L229.79,397.00 L229.00,397.23 L228.21,397.76 L227.42,397.56 L226.62,397.75 L225.83,397.50 L225.04,398.13 L224.24,397.55 L223.45,397.61 L222.66,397.55 L221.87,397.57 L221.07,397.51 L220.28,397.61 L219.49,398.11 L218.70,397.07 L217.90,397.20 L217.11,397.61 L216.32,396.99 L215.53,398.06 L214.73,397.91 L213.94,397.45 L213.15,397.15 L212.36,397.56 L211.56,397.59 L210.77,398.45 L209.98,397.81 L209.18,397.80 L208.39,397.88 L207.60,398.07 L206.81,398.12 L206.01,397.88 L205.22,397.97 L204.43,397.99 L203.64,397.88 L202.84,397.63 L202.05,397.69 L201.26,397.53 L200.47,397.83 L199.67,397.90 L198.88,398.51 L198.09,398.21 L197.30,399.23 L196.50,399.81 L195.71,399.04 L194.92,399.33 L194.12,399.09 L193.33,399.65 L192.54,399.39 L191.75,400.01 L190.95,400.57 L190.16,400.61 L189.37,401.05 L188.58,400.79 L187.78,401.42 L186.99,401.82 L186.20,400.73 L185.41,401.55 L184.61,402.74 L183.82,402.51 L183.03,402.22 L182.24,401.48 L181.44,402.14 L180.65,401.91 L179.86,403.01 L179.06,402.67 L178.27,402.18 L177.48,402.88 L176.69,403.24 L175.89,402.88 L175.10,402.77 L174.31,402.71 L173.52,402.60 L172.72,403.06 L171.93,402.79 L171.14,402.76 L170.35,402.69 L169.55,403.18 L168.76,402.65 L167.97,402.30 L167.18,402.70 L166.38,403.21 L165.59,403.78 L164.80,402.46 L164.00,402.85 L163.21,403.52 L162.42,404.28 L161.63,403.97 L160.83,404.58 L160.04,403.47 L159.25,403.82 L158.46,404.69 L157.66,403.76 L156.87,404.91 L156.08,404.70 L155.29,404.62 L154.49,404.54 L153.70,405.63 L152.91,404.31 L152.12,404.65 L151.32,405.09 L150.53,405.59 L149.74,405.58 L148.94,405.63 L148.15,406.45 L147.36,406.25 L146.57,406.73 L145.77,406.68 L144.98,407.49 L144.19,407.18 L143.40,407.59 L142.60,407.96 L141.81,407.64 L141.02,408.25 L140.23,408.31 L139.43,409.36 L138.64,408.74 L137.85,409.03 L137.05,410.11 L136.26,409.51 L135.47,410.03 L134.68,410.19 L133.88,410.51 L133.09,410.70 L132.30,411.93 L131.51,411.83 L130.71,412.47 L129.92,413.54 L129.13,413.63 L128.34,414.07 L127.54,414.74 L126.75,414.19 L125.96,415.01 L125.17,415.39 L124.37,416.23 L123.58,416.36 L122.79,416.32 L121.99,417.05 L121.20,417.85 L120.41,417.96 L119.62,418.71 L118.82,419.65 L118.03,419.87 L117.24,419.94 L116.45,420.84 L115.65,421.93 L114.86,422.38 L114.07,422.61 L113.28,423.26 L112.48,424.12 L111.69,424.17 L110.90,424.20 L110.11,425.47 L109.31,425.63 L108.52,425.64 L107.73,426.46 L106.93,427.07 L106.14,427.21 L105.35,427.97 L104.56,428.74 L103.76,429.15 L102.97,429.34 L102.18,430.13 L101.39,429.94 L100.59,431.83 L99.80,431.36 L99.01,432.23 L98.22,432.52 L97.42,433.45 L96.63,433.83 L95.84,434.31 L95.05,433.91 L94.25,434.16 L93.46,434.93 Z" fill="#7bbbe5" fill-opacity="0.65" stroke="none"/>
<path d="M93.46,422.25 L94.25,421.36 L95.05,420.96 L95.84,421.04 L96.63,420.35 L97.42,419.79 L98.22,418.74 L99.01,418.39 L99.80,417.50 L100.59,417.93 L101.39,416.04 L102.18,416.01 L102.97,415.06 L103.76,414.75 L104.56,414.20 L105.35,413.17 L106.14,412.48 L106.93,412.24 L107.73,411.65 L108.52,410.62 L109.31,410.66 L110.11,410.13 L110.90,408.73 L111.69,408.39 L112.48,408.23 L113.28,407.04 L114.07,406.23 L114.86,405.84 L115.65,405.33 L116.45,404.04 L117.24,403.08 L118.03,402.86 L118.82,402.35 L119.62,401.32 L120.41,400.75 L121.20,400.63 L121.99,399.79 L122.79,399.18 L123.58,399.21 L124.37,398.93 L125.17,398.00 L125.96,397.60 L126.75,396.89 L127.54,397.32 L128.34,396.64 L129.13,396.35 L129.92,396.27 L130.71,395.03 L131.51,394.49 L132.30,394.51 L133.09,393.22 L133.88,393.03 L134.68,392.71 L135.47,392.31 L136.26,391.70 L137.05,392.23 L137.85,391.18 L138.64,390.91 L139.43,391.62 L140.23,390.54 L141.02,390.59 L141.81,389.92 L142.60,390.07 L143.40,389.64 L144.19,389.29 L144.98,389.46 L145.77,388.64 L146.57,388.66 L147.36,388.20 L148.15,388.31 L148.94,387.43 L149.74,387.42 L150.53,387.61 L151.32,387.09 L152.12,386.69 L152.91,386.28 L153.70,387.26 L154.49,386.14 L155.29,386.12 L156.08,386.21 L156.87,386.44 L157.66,385.56 L158.46,386.32 L159.25,385.50 L160.04,385.01 L160.83,385.89 L161.63,385.23 L162.42,385.42 L163.21,384.71 L164.00,384.12 L164.80,383.86 L165.59,385.25 L166.38,384.63 L167.18,383.92 L167.97,383.40 L168.76,383.73 L169.55,383.90 L170.35,383.37 L171.14,383.34 L171.93,383.26 L172.72,383.21 L173.52,382.59 L174.31,382.34 L175.10,382.39 L175.89,382.17 L176.69,382.45 L177.48,381.98 L178.27,381.17 L179.06,381.57 L179.86,382.00 L180.65,380.71 L181.44,380.85 L182.24,380.00 L183.03,380.54 L183.82,380.32 L184.61,380.50 L185.41,379.14 L186.20,378.57 L186.99,379.68 L187.78,379.49 L188.58,378.71 L189.37,379.11 L190.16,378.67 L190.95,378.32 L191.75,378.02 L192.54,377.49 L193.33,377.61 L194.12,377.03 L194.92,377.39 L195.71,376.64 L196.50,377.35 L197.30,376.95 L198.09,375.77 L198.88,376.15 L199.67,375.49 L200.47,375.27 L201.26,374.69 L202.05,374.70 L202.84,374.42 L203.64,374.91 L204.43,375.16 L205.22,375.16 L206.01,375.01 L206.81,375.22 L207.60,374.77 L208.39,374.56 L209.18,374.33 L209.98,374.73 L210.77,375.27 L211.56,374.65 L212.36,374.40 L213.15,374.09 L213.94,374.13 L214.73,374.57 L215.53,374.44 L216.32,373.34 L217.11,373.65 L217.90,373.17 L218.70,373.02 L219.49,374.23 L220.28,373.73 L221.07,373.71 L221.87,373.50 L222.66,373.46 L223.45,373.58 L224.24,373.57 L225.04,374.20 L225.83,373.69 L226.62,373.78 L227.42,373.20 L228.21,373.36 L229.00,372.94 L229.79,372.90 L230.59,373.08 L231.38,372.98 L232.17,372.96 L232.96,372.96 L233.76,372.74 L234.55,372.84 L235.34,372.55 L236.13,372.68 L236.93,372.50 L237.72,373.09 L238.51,372.13 L239.31,372.64 L240.10,372.49 L240.89,372.16 L241.68,372.31 L242.48,371.92 L243.27,372.24 L244.06,372.29 L244.85,372.16 L245.65,371.19 L246.44,371.60 L247.23,371.90 L248.02,371.44 L248.82,372.00 L249.61,370.64 L250.40,371.86 L251.19,370.98 L251.99,370.91 L252.78,371.47 L253.57,370.51 L254.37,370.08 L255.16,370.19 L255.95,369.99 L256.74,369.75 L257.54,370.08 L258.33,369.72 L259.12,369.83 L259.91,369.51 L260.71,369.87 L261.50,369.12 L262.29,369.72 L263.08,369.87 L263.88,369.09 L264.67,368.54 L265.46,368.81 L266.25,369.25 L267.05,368.72 L267.84,369.28 L268.63,369.15 L269.43,368.98 L270.22,369.89 L271.01,368.95 L271.80,369.36 L272.60,369.15 L273.39,369.32 L274.18,369.35 L274.97,368.92 L275.77,368.14 L276.56,367.80 L277.35,368.39 L278.14,367.97 L278.94,368.45 L279.73,369.05 L280.52,368.30 L281.31,368.23 L282.11,368.49 L282.90,368.26" fill="none" stroke="#86bde0" stroke-width="1.0"/>
<path d="M93.46,434.93 L94.25,434.16 L95.05,433.91 L95.84,434.31 L96.63,433.83 L97.42,433.45 L98.22,432.52 L99.01,432.23 L99.80,431.36 L100.59,431.83 L101.39,429.94 L102.18,430.13 L102.97,429.34 L103.76,429.15 L104.56,428.74 L105.35,427.97 L106.14,427.21 L106.93,427.07 L107.73,426.46 L108.52,425.64 L109.31,425.63 L110.11,425.47 L110.90,424.20 L111.69,424.17 L112.48,424.12 L113.28,423.26 L114.07,422.61 L114.86,422.38 L115.65,421.93 L116.45,420.84 L117.24,419.94 L118.03,419.87 L118.82,419.65 L119.62,418.71 L120.41,417.96 L121.20,417.85 L121.99,417.05 L122.79,416.32 L123.58,416.36 L124.37,416.23 L125.17,415.39 L125.96,415.01 L126.75,414.19 L127.54,414.74 L128.34,414.07 L129.13,413.63 L129.92,413.54 L130.71,412.47 L131.51,411.83 L132.30,411.93 L133.09,410.70 L133.88,410.51 L134.68,410.19 L135.47,410.03 L136.26,409.51 L137.05,410.11 L137.85,409.03 L138.64,408.74 L139.43,409.36 L140.23,408.31 L141.02,408.25 L141.81,407.64 L142.60,407.96 L143.40,407.59 L144.19,407.18 L144.98,407.49 L145.77,406.68 L146.57,406.73 L147.36,406.25 L148.15,406.45 L148.94,405.63 L149.74,405.58 L150.53,405.59 L151.32,405.09 L152.12,404.65 L152.91,404.31 L153.70,405.63 L154.49,404.54 L155.29,404.62 L156.08,404.70 L156.87,404.91 L157.66,403.76 L158.46,404.69 L159.25,403.82 L160.04,403.47 L160.83,404.58 L161.63,403.97 L162.42,404.28 L163.21,403.52 L164.00,402.85 L164.80,402.46 L165.59,403.78 L166.38,403.21 L167.18,402.70 L167.97,402.30 L168.76,402.65 L169.55,403.18 L170.35,402.69 L171.14,402.76 L171.93,402.79 L172.72,403.06 L173.52,402.60 L174.31,402.71 L175.10,402.77 L175.89,402.88 L176.69,403.24 L177.48,402.88 L178.27,402.18 L179.06,402.67 L179.86,403.01 L180.65,401.91 L181.44,402.14 L182.24,401.48 L183.03,402.22 L183.82,402.51 L184.61,402.74 L185.41,401.55 L186.20,400.73 L186.99,401.82 L187.78,401.42 L188.58,400.79 L189.37,401.05 L190.16,400.61 L190.95,400.57 L191.75,400.01 L192.54,399.39 L193.33,399.65 L194.12,399.09 L194.92,399.33 L195.71,399.04 L196.50,399.81 L197.30,399.23 L198.09,398.21 L198.88,398.51 L199.67,397.90 L200.47,397.83 L201.26,397.53 L202.05,397.69 L202.84,397.63 L203.64,397.88 L204.43,397.99 L205.22,397.97 L206.01,397.88 L206.81,398.12 L207.60,398.07 L208.39,397.88 L209.18,397.80 L209.98,397.81 L210.77,398.45 L211.56,397.59 L212.36,397.56 L213.15,397.15 L213.94,397.45 L214.73,397.91 L215.53,398.06 L216.32,396.99 L217.11,397.61 L217.90,397.20 L218.70,397.07 L219.49,398.11 L220.28,397.61 L221.07,397.51 L221.87,397.57 L222.66,397.55 L223.45,397.61 L224.24,397.55 L225.04,398.13 L225.83,397.50 L226.62,397.75 L227.42,397.56 L228.21,397.76 L229.00,397.23 L229.79,397.00 L230.59,397.11 L231.38,397.11 L232.17,397.19 L232.96,397.52 L233.76,397.41 L234.55,397.47 L235.34,396.96 L236.13,397.02 L236.93,396.66 L237.72,397.45 L238.51,396.58 L239.31,397.25 L240.10,397.27 L240.89,397.08 L241.68,397.10 L242.48,396.70 L243.27,396.93 L244.06,397.13 L244.85,396.95 L245.65,396.09 L246.44,396.51 L247.23,396.99 L248.02,396.37 L248.82,396.87 L249.61,395.45 L250.40,396.65 L251.19,395.81 L251.99,395.66 L252.78,396.49 L253.57,395.93 L254.37,395.65 L255.16,395.79 L255.95,395.99 L256.74,395.53 L257.54,395.65 L258.33,395.71 L259.12,395.79 L259.91,395.36 L260.71,396.06 L261.50,395.30 L262.29,395.56 L263.08,395.72 L263.88,395.24 L264.67,394.65 L265.46,394.84 L266.25,395.47 L267.05,394.96 L267.84,395.23 L268.63,395.05 L269.43,395.01 L270.22,395.92 L271.01,394.85 L271.80,395.33 L272.60,395.24 L273.39,395.61 L274.18,395.57 L274.97,395.50 L275.77,394.84 L276.56,394.47 L277.35,395.15 L278.14,394.65 L278.94,395.16 L279.73,395.79 L280.52,394.89 L281.31,394.69 L282.11,395.07 L282.90,394.70" fill="none" stroke="#86bde0" stroke-width="1.0"/>
<path d="M93.46,428.59 L94.25,427.76 L95.05,427.44 L95.84,427.67 L96.63,427.09 L97.42,426.62 L98.22,425.63 L99.01,425.31 L99.80,424.43 L100.59,424.88 L101.39,422.99 L102.18,423.07 L102.97,422.20 L103.76,421.95 L104.56,421.47 L105.35,420.57 L106.14,419.84 L106.93,419.66 L107.73,419.05 L108.52,418.13 L109.31,418.15 L110.11,417.80 L110.90,416.46 L111.69,416.28 L112.48,416.17 L113.28,415.15 L114.07,414.42 L114.86,414.11 L115.65,413.63 L116.45,412.44 L117.24,411.51 L118.03,411.37 L118.82,411.00 L119.62,410.02 L120.41,409.36 L121.20,409.24 L121.99,408.42 L122.79,407.75 L123.58,407.78 L124.37,407.58 L125.17,406.69 L125.96,406.30 L126.75,405.54 L127.54,406.03 L128.34,405.36 L129.13,404.99 L129.92,404.91 L130.71,403.75 L131.51,403.16 L132.30,403.22 L133.09,401.96 L133.88,401.77 L134.68,401.45 L135.47,401.17 L136.26,400.60 L137.05,401.17 L137.85,400.11 L138.64,399.83 L139.43,400.49 L140.23,399.42 L141.02,399.42 L141.81,398.78 L142.60,399.02 L143.40,398.61 L144.19,398.23 L144.98,398.47 L145.77,397.66 L146.57,397.70 L147.36,397.22 L148.15,397.38 L148.94,396.53 L149.74,396.50 L150.53,396.60 L151.32,396.09 L152.12,395.67 L152.91,395.29 L153.70,396.44 L154.49,395.34 L155.29,395.37 L156.08,395.45 L156.87,395.67 L157.66,394.66 L158.46,395.51 L159.25,394.66 L160.04,394.24 L160.83,395.24 L161.63,394.60 L162.42,394.85 L163.21,394.12 L164.00,393.49 L164.80,393.16 L165.59,394.51 L166.38,393.92 L167.18,393.31 L167.97,392.85 L168.76,393.19 L169.55,393.54 L170.35,393.03 L171.14,393.05 L171.93,393.02 L172.72,393.13 L173.52,392.59 L174.31,392.52 L175.10,392.58 L175.89,392.53 L176.69,392.84 L177.48,392.43 L178.27,391.67 L179.06,392.12 L179.86,392.50 L180.65,391.31 L181.44,391.49 L182.24,390.74 L183.03,391.38 L183.82,391.42 L184.61,391.62 L185.41,390.34 L186.20,389.65 L186.99,390.75 L187.78,390.46 L188.58,389.75 L189.37,390.08 L190.16,389.64 L190.95,389.45 L191.75,389.01 L192.54,388.44 L193.33,388.63 L194.12,388.06 L194.92,388.36 L195.71,387.84 L196.50,388.58 L197.30,388.09 L198.09,386.99 L198.88,387.33 L199.67,386.69 L200.47,386.55 L201.26,386.11 L202.05,386.20 L202.84,386.02 L203.64,386.39 L204.43,386.58 L205.22,386.56 L206.01,386.45 L206.81,386.67 L207.60,386.42 L208.39,386.22 L209.18,386.06 L209.98,386.27 L210.77,386.86 L211.56,386.12 L212.36,385.98 L213.15,385.62 L213.94,385.79 L214.73,386.24 L215.53,386.25 L216.32,385.16 L217.11,385.63 L217.90,385.19 L218.70,385.05 L219.49,386.17 L220.28,385.67 L221.07,385.61 L221.87,385.54 L222.66,385.50 L223.45,385.59 L224.24,385.56 L225.04,386.17 L225.83,385.59 L226.62,385.77 L227.42,385.38 L228.21,385.56 L229.00,385.08 L229.79,384.95 L230.59,385.10 L231.38,385.04 L232.17,385.08 L232.96,385.24 L233.76,385.08 L234.55,385.15 L235.34,384.76 L236.13,384.85 L236.93,384.58 L237.72,385.27 L238.51,384.35 L239.31,384.95 L240.10,384.88 L240.89,384.62 L241.68,384.70 L242.48,384.31 L243.27,384.58 L244.06,384.71 L244.85,384.55 L245.65,383.64 L246.44,384.05 L247.23,384.45 L248.02,383.91 L248.82,384.43 L249.61,383.05 L250.40,384.26 L251.19,383.40 L251.99,383.29 L252.78,383.98 L253.57,383.22 L254.37,382.87 L255.16,382.99 L255.95,382.99 L256.74,382.64 L257.54,382.86 L258.33,382.71 L259.12,382.81 L259.91,382.44 L260.71,382.97 L261.50,382.21 L262.29,382.64 L263.08,382.80 L263.88,382.17 L264.67,381.59 L265.46,381.83 L266.25,382.36 L267.05,381.84 L267.84,382.26 L268.63,382.10 L269.43,381.99 L270.22,382.90 L271.01,381.90 L271.80,382.35 L272.60,382.19 L273.39,382.47 L274.18,382.46 L274.97,382.21 L275.77,381.49 L276.56,381.14 L277.35,381.77 L278.14,381.31 L278.94,381.81 L279.73,382.42 L280.52,381.59 L281.31,381.46 L282.11,381.78 L282.90,381.48" fill="none" stroke="#2b318c" stroke-width="3.2" stroke-linejoin="round"/>
<line x1="87.70" y1="318.80" x2="87.70" y2="452.20" stroke="#1a1a1a" stroke-width="1.5" />
<line x1="87.00" y1="451.50" x2="286.30" y2="451.50" stroke="#1a1a1a" stroke-width="1.5" />
<line x1="83.00" y1="451.50" x2="87.70" y2="451.50" stroke="#1a1a1a" stroke-width="1.4" />
<text x="78.30" y="455.80" font-size="12" text-anchor="end" fill="#231f20" stroke="#231f20" stroke-width="0.32" >0</text>
<line x1="83.00" y1="420.35" x2="87.70" y2="420.35" stroke="#1a1a1a" stroke-width="1.4" />
<text x="78.30" y="424.65" font-size="12" text-anchor="end" fill="#231f20" stroke="#231f20" stroke-width="0.32" >2</text>
<line x1="83.00" y1="389.20" x2="87.70" y2="389.20" stroke="#1a1a1a" stroke-width="1.4" />
<text x="78.30" y="393.50" font-size="12" text-anchor="end" fill="#231f20" stroke="#231f20" stroke-width="0.32" >4</text>
<line x1="83.00" y1="358.05" x2="87.70" y2="358.05" stroke="#1a1a1a" stroke-width="1.4" />
<text x="78.30" y="362.35" font-size="12" text-anchor="end" fill="#231f20" stroke="#231f20" stroke-width="0.32" >6</text>
<line x1="83.00" y1="326.90" x2="87.70" y2="326.90" stroke="#1a1a1a" stroke-width="1.4" />
<text x="78.30" y="331.20" font-size="12" text-anchor="end" fill="#231f20" stroke="#231f20" stroke-width="0.32" >8</text>
<line x1="87.70" y1="451.50" x2="87.70" y2="456.30" stroke="#1a1a1a" stroke-width="1.4" />
<text x="87.70" y="472.00" font-size="12" text-anchor="middle" fill="#231f20" stroke="#231f20" stroke-width="0.32" >0</text>
<line x1="151.70" y1="451.50" x2="151.70" y2="456.30" stroke="#1a1a1a" stroke-width="1.4" />
<text x="151.70" y="472.00" font-size="12" text-anchor="middle" fill="#231f20" stroke="#231f20" stroke-width="0.32" >20</text>
<line x1="215.70" y1="451.50" x2="215.70" y2="456.30" stroke="#1a1a1a" stroke-width="1.4" />
<text x="215.70" y="472.00" font-size="12" text-anchor="middle" fill="#231f20" stroke="#231f20" stroke-width="0.32" >40</text>
<line x1="279.70" y1="451.50" x2="279.70" y2="456.30" stroke="#1a1a1a" stroke-width="1.4" />
<text x="279.70" y="472.00" font-size="12" text-anchor="middle" fill="#231f20" stroke="#231f20" stroke-width="0.32" >60</text>
<text x="159.20" y="492.70" font-size="14.5" text-anchor="start" fill="#231f20" stroke="#231f20" stroke-width="0.32" textLength="55.80" lengthAdjust="spacingAndGlyphs" >Time (min)</text>
<text transform="translate(43.00,384.80) rotate(-90)" x="0" y="0" font-size="14.5" text-anchor="middle" fill="#231f20" stroke="#231f20" stroke-width="0.36" textLength="45.00" lengthAdjust="spacingAndGlyphs">Platelets</text>
<text transform="translate(63.30,385.30) rotate(-90)" x="0" y="0" font-size="13" text-anchor="middle" fill="#231f20" stroke="#231f20" stroke-width="0.36" textLength="99.50" lengthAdjust="spacingAndGlyphs">Relative fluorescence</text>
<path d="M286,381 H293 V415 H286" fill="none" stroke="#1a1a1a" stroke-width="1.3"/>
<path d="M301,380.5 H308 V427.5 H301" fill="none" stroke="#1a1a1a" stroke-width="1.3"/>
<line x1="99.20" y1="510.00" x2="113.00" y2="510.00" stroke="#8c1c20" stroke-width="1.6" />
<text x="118.50" y="513.40" font-size="11" text-anchor="start" fill="#2a2a2a" stroke="#2a2a2a" stroke-width="0.32" textLength="55.20" lengthAdjust="spacingAndGlyphs" >HbAA/IgG</text>
<line x1="184.20" y1="510.00" x2="198.00" y2="510.00" stroke="#b86a6a" stroke-width="1.6" />
<text x="203.70" y="513.40" font-size="11" text-anchor="start" fill="#2a2a2a" stroke="#2a2a2a" stroke-width="0.32" textLength="70.30" lengthAdjust="spacingAndGlyphs" >HbAA/15D10</text>
<line x1="99.20" y1="527.40" x2="113.00" y2="527.40" stroke="#272a5a" stroke-width="1.6" />
<text x="118.50" y="530.80" font-size="11" text-anchor="start" fill="#2a2a2a" stroke="#2a2a2a" stroke-width="0.32" textLength="51.30" lengthAdjust="spacingAndGlyphs" >HbSS/IgG</text>
<line x1="184.20" y1="527.40" x2="198.00" y2="527.40" stroke="#4c6c8c" stroke-width="1.6" />
<text x="203.70" y="530.80" font-size="11" text-anchor="start" fill="#2a2a2a" stroke="#2a2a2a" stroke-width="0.32" textLength="68.30" lengthAdjust="spacingAndGlyphs" >HbSS/15D10</text>
<text x="300.00" y="405.25" font-size="12.5" text-anchor="middle" fill="#231f20">*</text>
<text x="315.10" y="408.65" font-size="12.5" text-anchor="middle" fill="#231f20">*</text>
<text x="315.10" y="414.55" font-size="12.5" text-anchor="middle" fill="#231f20">*</text>
<line x1="426.95" y1="123.81" x2="426.95" y2="115.91" stroke="#1a1a1a" stroke-width="1.4" />
<line x1="423.35" y1="115.91" x2="430.55" y2="115.91" stroke="#1a1a1a" stroke-width="1.6" />
<rect x="420.20" y="123.81" width="13.50" height="55.99" fill="#c8102e"/>
<line x1="443.75" y1="166.06" x2="443.75" y2="161.59" stroke="#1a1a1a" stroke-width="1.4" />
<line x1="440.15" y1="161.59" x2="447.35" y2="161.59" stroke="#1a1a1a" stroke-width="1.6" />
<rect x="437.00" y="166.56" width="13.50" height="13.24" fill="url(#chkR)" stroke="#cc2038" stroke-width="1"/>
<line x1="474.25" y1="90.83" x2="474.25" y2="77.09" stroke="#1a1a1a" stroke-width="1.4" />
<line x1="470.65" y1="77.09" x2="477.85" y2="77.09" stroke="#1a1a1a" stroke-width="1.6" />
<rect x="467.70" y="90.83" width="13.10" height="88.97" fill="#1d4e8f"/>
<line x1="491.50" y1="163.31" x2="491.50" y2="158.85" stroke="#1a1a1a" stroke-width="1.4" />
<line x1="487.90" y1="158.85" x2="495.10" y2="158.85" stroke="#1a1a1a" stroke-width="1.6" />
<rect x="484.50" y="163.81" width="14.00" height="15.99" fill="url(#chkB)" stroke="#24528f" stroke-width="1"/>
<line x1="413.50" y1="37.70" x2="413.50" y2="180.50" stroke="#1a1a1a" stroke-width="1.5" />
<line x1="413.00" y1="179.80" x2="505.70" y2="179.80" stroke="#1a1a1a" stroke-width="1.5" />
<line x1="408.50" y1="179.80" x2="413.50" y2="179.80" stroke="#1a1a1a" stroke-width="1.4" />
<text x="403.30" y="184.00" font-size="12" text-anchor="end" fill="#231f20" stroke="#231f20" stroke-width="0.32" >0</text>
<line x1="408.50" y1="145.45" x2="413.50" y2="145.45" stroke="#1a1a1a" stroke-width="1.4" />
<text x="403.30" y="149.65" font-size="12" text-anchor="end" fill="#231f20" stroke="#231f20" stroke-width="0.32" >100</text>
<line x1="408.50" y1="111.10" x2="413.50" y2="111.10" stroke="#1a1a1a" stroke-width="1.4" />
<text x="403.30" y="115.30" font-size="12" text-anchor="end" fill="#231f20" stroke="#231f20" stroke-width="0.32" >200</text>
<line x1="408.50" y1="76.75" x2="413.50" y2="76.75" stroke="#1a1a1a" stroke-width="1.4" />
<text x="403.30" y="80.95" font-size="12" text-anchor="end" fill="#231f20" stroke="#231f20" stroke-width="0.32" >300</text>
<line x1="408.50" y1="42.40" x2="413.50" y2="42.40" stroke="#1a1a1a" stroke-width="1.4" />
<text x="403.30" y="46.60" font-size="12" text-anchor="end" fill="#231f20" stroke="#231f20" stroke-width="0.32" >400</text>
<line x1="427.00" y1="179.80" x2="427.00" y2="184.60" stroke="#1a1a1a" stroke-width="1.4" />
<line x1="443.60" y1="179.80" x2="443.60" y2="184.60" stroke="#1a1a1a" stroke-width="1.4" />
<line x1="474.20" y1="179.80" x2="474.20" y2="184.60" stroke="#1a1a1a" stroke-width="1.4" />
<line x1="491.00" y1="179.80" x2="491.00" y2="184.60" stroke="#1a1a1a" stroke-width="1.4" />
<text transform="translate(430.70,189.80) rotate(-90)" x="0" y="0" font-size="11.5" text-anchor="end" fill="#231f20" stroke="#231f20" stroke-width="0.36" textLength="20.30" lengthAdjust="spacingAndGlyphs">IgG</text>
<text transform="translate(447.30,189.80) rotate(-90)" x="0" y="0" font-size="11.5" text-anchor="end" fill="#231f20" stroke="#231f20" stroke-width="0.36" textLength="36.90" lengthAdjust="spacingAndGlyphs">15D10</text>
<text transform="translate(477.90,189.80) rotate(-90)" x="0" y="0" font-size="11.5" text-anchor="end" fill="#231f20" stroke="#231f20" stroke-width="0.36" textLength="20.30" lengthAdjust="spacingAndGlyphs">IgG</text>
<text transform="translate(494.70,189.80) rotate(-90)" x="0" y="0" font-size="11.5" text-anchor="end" fill="#231f20" stroke="#231f20" stroke-width="0.36" textLength="36.90" lengthAdjust="spacingAndGlyphs">15D10</text>
<text transform="translate(374.00,108.50) rotate(-90)" x="0" y="0" font-size="15" text-anchor="middle" fill="#231f20" stroke="#231f20" stroke-width="0.36" textLength="55.40" lengthAdjust="spacingAndGlyphs">Fibrin AUC</text>
<path d="M425.5,113.5 V106.7 H446.2 V113.5" fill="none" stroke="#1a1a1a" stroke-width="1.3"/>
<text x="435.80" y="108.05" font-size="12.5" text-anchor="middle" fill="#231f20">*</text>
<path d="M473.5,60.5 V54 H492 V60.5" fill="none" stroke="#1a1a1a" stroke-width="1.3"/>
<text x="483.10" y="52.30" font-size="12.5" text-anchor="middle" fill="#231f20" stroke="#231f20" stroke-width="0.32" textLength="15.40" lengthAdjust="spacingAndGlyphs" >***</text>
<text x="474.20" y="77.65" font-size="12.5" text-anchor="middle" fill="#231f20">*</text>
<rect x="409.7" y="243.4" width="9.2" height="8.8" fill="#c8102e"/>
<text x="424.00" y="251.20" font-size="11.5" text-anchor="start" fill="#231f20" stroke="#231f20" stroke-width="0.32" textLength="31.40" lengthAdjust="spacingAndGlyphs" >HbAA</text>
<rect x="466.6" y="243.4" width="9.2" height="8.8" fill="#1d4e8f"/>
<text x="480.80" y="251.20" font-size="11.5" text-anchor="start" fill="#231f20" stroke="#231f20" stroke-width="0.32" textLength="27.70" lengthAdjust="spacingAndGlyphs" >HbSS</text>
<line x1="426.95" y1="387.91" x2="426.95" y2="373.89" stroke="#1a1a1a" stroke-width="1.4" />
<line x1="423.35" y1="373.89" x2="430.55" y2="373.89" stroke="#1a1a1a" stroke-width="1.6" />
<rect x="420.20" y="387.91" width="13.50" height="63.89" fill="#c8102e"/>
<line x1="443.65" y1="429.67" x2="443.65" y2="424.60" stroke="#1a1a1a" stroke-width="1.4" />
<line x1="440.05" y1="424.60" x2="447.25" y2="424.60" stroke="#1a1a1a" stroke-width="1.6" />
<rect x="437.00" y="430.17" width="13.30" height="21.63" fill="url(#chkR)" stroke="#cc2038" stroke-width="1"/>
<line x1="474.40" y1="351.90" x2="474.40" y2="333.32" stroke="#1a1a1a" stroke-width="1.4" />
<line x1="470.80" y1="333.32" x2="478.00" y2="333.32" stroke="#1a1a1a" stroke-width="1.6" />
<rect x="468.00" y="351.90" width="12.80" height="99.90" fill="#1d4e8f"/>
<line x1="491.50" y1="417.23" x2="491.50" y2="412.62" stroke="#1a1a1a" stroke-width="1.4" />
<line x1="487.90" y1="412.62" x2="495.10" y2="412.62" stroke="#1a1a1a" stroke-width="1.6" />
<rect x="484.70" y="417.73" width="13.60" height="34.07" fill="url(#chkB)" stroke="#24528f" stroke-width="1"/>
<line x1="413.50" y1="309.20" x2="413.50" y2="452.50" stroke="#1a1a1a" stroke-width="1.5" />
<line x1="413.00" y1="451.80" x2="505.70" y2="451.80" stroke="#1a1a1a" stroke-width="1.5" />
<line x1="408.50" y1="451.80" x2="413.50" y2="451.80" stroke="#1a1a1a" stroke-width="1.4" />
<text x="403.30" y="456.00" font-size="12" text-anchor="end" fill="#231f20" stroke="#231f20" stroke-width="0.32" >0</text>
<line x1="408.50" y1="405.70" x2="413.50" y2="405.70" stroke="#1a1a1a" stroke-width="1.4" />
<text x="403.30" y="409.90" font-size="12" text-anchor="end" fill="#231f20" stroke="#231f20" stroke-width="0.32" >100</text>
<line x1="408.50" y1="359.60" x2="413.50" y2="359.60" stroke="#1a1a1a" stroke-width="1.4" />
<text x="403.30" y="363.80" font-size="12" text-anchor="end" fill="#231f20" stroke="#231f20" stroke-width="0.32" >200</text>
<line x1="408.50" y1="313.50" x2="413.50" y2="313.50" stroke="#1a1a1a" stroke-width="1.4" />
<text x="403.30" y="317.70" font-size="12" text-anchor="end" fill="#231f20" stroke="#231f20" stroke-width="0.32" >300</text>
<line x1="427.00" y1="451.80" x2="427.00" y2="456.60" stroke="#1a1a1a" stroke-width="1.4" />
<line x1="443.60" y1="451.80" x2="443.60" y2="456.60" stroke="#1a1a1a" stroke-width="1.4" />
<line x1="474.20" y1="451.80" x2="474.20" y2="456.60" stroke="#1a1a1a" stroke-width="1.4" />
<line x1="491.00" y1="451.80" x2="491.00" y2="456.60" stroke="#1a1a1a" stroke-width="1.4" />
<text transform="translate(430.70,460.80) rotate(-90)" x="0" y="0" font-size="11.5" text-anchor="end" fill="#231f20" stroke="#231f20" stroke-width="0.36" textLength="21.50" lengthAdjust="spacingAndGlyphs">IgG</text>
<text transform="translate(447.30,460.80) rotate(-90)" x="0" y="0" font-size="11.5" text-anchor="end" fill="#231f20" stroke="#231f20" stroke-width="0.36" textLength="36.50" lengthAdjust="spacingAndGlyphs">15D10</text>
<text transform="translate(477.90,460.80) rotate(-90)" x="0" y="0" font-size="11.5" text-anchor="end" fill="#231f20" stroke="#231f20" stroke-width="0.36" textLength="21.50" lengthAdjust="spacingAndGlyphs">IgG</text>
<text transform="translate(494.70,460.80) rotate(-90)" x="0" y="0" font-size="11.5" text-anchor="end" fill="#231f20" stroke="#231f20" stroke-width="0.36" textLength="36.50" lengthAdjust="spacingAndGlyphs">15D10</text>
<text transform="translate(374.10,379.90) rotate(-90)" x="0" y="0" font-size="15" text-anchor="middle" fill="#231f20" stroke="#231f20" stroke-width="0.36" textLength="70.30" lengthAdjust="spacingAndGlyphs">Platelets AUC</text>
<path d="M473.4,327.2 V321.9 H493 V327.2" fill="none" stroke="#1a1a1a" stroke-width="1.3"/>
<text x="483.00" y="322.25" font-size="12.5" text-anchor="middle" fill="#231f20">*</text>
<line x1="426.75" y1="637.20" x2="426.75" y2="620.86" stroke="#1a1a1a" stroke-width="1.4" />
<line x1="423.15" y1="620.86" x2="430.35" y2="620.86" stroke="#1a1a1a" stroke-width="1.6" />
<rect x="420.10" y="637.20" width="13.30" height="90.30" fill="#c8102e"/>
<line x1="443.60" y1="711.16" x2="443.60" y2="708.39" stroke="#1a1a1a" stroke-width="1.4" />
<line x1="440.00" y1="708.39" x2="447.20" y2="708.39" stroke="#1a1a1a" stroke-width="1.6" />
<rect x="436.90" y="711.66" width="13.40" height="15.84" fill="url(#chkR)" stroke="#cc2038" stroke-width="1"/>
<line x1="474.45" y1="679.72" x2="474.45" y2="673.49" stroke="#1a1a1a" stroke-width="1.4" />
<line x1="470.85" y1="673.49" x2="478.05" y2="673.49" stroke="#1a1a1a" stroke-width="1.6" />
<rect x="468.10" y="679.72" width="12.70" height="47.78" fill="#1d4e8f"/>
<line x1="491.30" y1="712.96" x2="491.30" y2="710.05" stroke="#1a1a1a" stroke-width="1.4" />
<line x1="487.70" y1="710.05" x2="494.90" y2="710.05" stroke="#1a1a1a" stroke-width="1.6" />
<rect x="484.70" y="713.46" width="13.20" height="14.04" fill="url(#chkB)" stroke="#24528f" stroke-width="1"/>
<line x1="413.50" y1="585.40" x2="413.50" y2="728.20" stroke="#1a1a1a" stroke-width="1.5" />
<line x1="413.00" y1="727.50" x2="505.70" y2="727.50" stroke="#1a1a1a" stroke-width="1.5" />
<line x1="408.50" y1="727.50" x2="413.50" y2="727.50" stroke="#1a1a1a" stroke-width="1.4" />
<text x="403.30" y="731.70" font-size="12" text-anchor="end" fill="#231f20" stroke="#231f20" stroke-width="0.32" >0.0</text>
<line x1="408.50" y1="699.80" x2="413.50" y2="699.80" stroke="#1a1a1a" stroke-width="1.4" />
<text x="403.30" y="704.00" font-size="12" text-anchor="end" fill="#231f20" stroke="#231f20" stroke-width="0.32" >0.2</text>
<line x1="408.50" y1="672.10" x2="413.50" y2="672.10" stroke="#1a1a1a" stroke-width="1.4" />
<text x="403.30" y="676.30" font-size="12" text-anchor="end" fill="#231f20" stroke="#231f20" stroke-width="0.32" >0.4</text>
<line x1="408.50" y1="644.40" x2="413.50" y2="644.40" stroke="#1a1a1a" stroke-width="1.4" />
<text x="403.30" y="648.60" font-size="12" text-anchor="end" fill="#231f20" stroke="#231f20" stroke-width="0.32" >0.6</text>
<line x1="408.50" y1="616.70" x2="413.50" y2="616.70" stroke="#1a1a1a" stroke-width="1.4" />
<text x="403.30" y="620.90" font-size="12" text-anchor="end" fill="#231f20" stroke="#231f20" stroke-width="0.32" >0.8</text>
<line x1="408.50" y1="589.00" x2="413.50" y2="589.00" stroke="#1a1a1a" stroke-width="1.4" />
<text x="403.30" y="593.20" font-size="12" text-anchor="end" fill="#231f20" stroke="#231f20" stroke-width="0.32" >1.0</text>
<line x1="427.00" y1="727.50" x2="427.00" y2="732.30" stroke="#1a1a1a" stroke-width="1.4" />
<line x1="443.60" y1="727.50" x2="443.60" y2="732.30" stroke="#1a1a1a" stroke-width="1.4" />
<line x1="474.20" y1="727.50" x2="474.20" y2="732.30" stroke="#1a1a1a" stroke-width="1.4" />
<line x1="491.00" y1="727.50" x2="491.00" y2="732.30" stroke="#1a1a1a" stroke-width="1.4" />
<text transform="translate(430.70,738.20) rotate(-90)" x="0" y="0" font-size="11.5" text-anchor="end" fill="#231f20" stroke="#231f20" stroke-width="0.36" textLength="19.90" lengthAdjust="spacingAndGlyphs">IgG</text>
<text transform="translate(447.30,738.20) rotate(-90)" x="0" y="0" font-size="11.5" text-anchor="end" fill="#231f20" stroke="#231f20" stroke-width="0.36" textLength="34.60" lengthAdjust="spacingAndGlyphs">15D10</text>
<text transform="translate(477.90,738.20) rotate(-90)" x="0" y="0" font-size="11.5" text-anchor="end" fill="#231f20" stroke="#231f20" stroke-width="0.36" textLength="19.90" lengthAdjust="spacingAndGlyphs">IgG</text>
<text transform="translate(494.70,738.20) rotate(-90)" x="0" y="0" font-size="11.5" text-anchor="end" fill="#231f20" stroke="#231f20" stroke-width="0.36" textLength="34.60" lengthAdjust="spacingAndGlyphs">15D10</text>
<text transform="translate(376.00,656.20) rotate(-90)" x="0" y="0" font-size="15" text-anchor="middle" fill="#231f20" stroke="#231f20" stroke-width="0.36" textLength="100.80" lengthAdjust="spacingAndGlyphs">Clot volume (mm<tspan dy="-5" font-size="9">3</tspan><tspan dy="5">)</tspan></text>
<path d="M425.2,618.5 V612.3 H444.4 V618.5" fill="none" stroke="#1a1a1a" stroke-width="1.3"/>
<text x="435.20" y="611.60" font-size="12.5" text-anchor="middle" fill="#231f20" stroke="#231f20" stroke-width="0.32" textLength="19.50" lengthAdjust="spacingAndGlyphs" >****</text>
<path d="M475.5,655.8 V650 H493 V655.8" fill="none" stroke="#1a1a1a" stroke-width="1.3"/>
<text x="466.00" y="645.90" font-size="11" text-anchor="start" fill="#231f20" stroke="#231f20" stroke-width="0.32" textLength="36.00" lengthAdjust="spacingAndGlyphs" ><tspan font-style="italic">P</tspan> = .07</text>
<text x="474.00" y="673.65" font-size="12.5" text-anchor="middle" fill="#231f20">*</text>
<text x="10.80" y="25.80" font-size="18" text-anchor="start" fill="#111" font-weight="bold" >A</text>
<text x="343.30" y="25.80" font-size="18" text-anchor="start" fill="#111" font-weight="bold" >B</text>
<text x="10.60" y="301.80" font-size="18" text-anchor="start" fill="#111" font-weight="bold" >C</text>
<text x="343.50" y="301.70" font-size="18" text-anchor="start" fill="#111" font-weight="bold" >D</text>
<text x="10.90" y="573.50" font-size="18" text-anchor="start" fill="#111" font-weight="bold" >E</text>
<text x="343.40" y="573.50" font-size="18" text-anchor="start" fill="#111" font-weight="bold" >F</text>
<defs>
<filter id="bl0_5" x="-50%" y="-50%" width="200%" height="200%"><feGaussianBlur stdDeviation="0.5"/></filter>
<filter id="bl0_8" x="-50%" y="-50%" width="200%" height="200%"><feGaussianBlur stdDeviation="0.8"/></filter>
<filter id="bl1_2" x="-50%" y="-50%" width="200%" height="200%"><feGaussianBlur stdDeviation="1.2"/></filter>
<filter id="bl1_8" x="-50%" y="-50%" width="200%" height="200%"><feGaussianBlur stdDeviation="1.8"/></filter>
<filter id="bl2_5" x="-50%" y="-50%" width="200%" height="200%"><feGaussianBlur stdDeviation="2.5"/></filter>
<filter id="bl4" x="-50%" y="-50%" width="200%" height="200%"><feGaussianBlur stdDeviation="4"/></filter>
<filter id="bl6" x="-50%" y="-50%" width="200%" height="200%"><feGaussianBlur stdDeviation="6"/></filter>
<clipPath id="imc0"><rect x="87.0" y="583.2" width="205.0" height="57.8"/></clipPath>
<clipPath id="imc1"><rect x="87.0" y="651.2" width="205.0" height="57.8"/></clipPath>
<clipPath id="imc2"><rect x="87.0" y="719.2" width="205.0" height="57.8"/></clipPath>
<clipPath id="imc3"><rect x="87.0" y="787.2" width="205.0" height="57.8"/></clipPath>
<linearGradient id="g1green" x1="0" x2="1" y1="0" y2="0"><stop offset="0" stop-color="#0a3a14" stop-opacity="0"/><stop offset="0.25" stop-color="#0a3e16"/><stop offset="1" stop-color="#0d5a22"/></linearGradient>
<linearGradient id="g2top" x1="0" x2="1" y1="0" y2="0"><stop offset="0" stop-color="#2a7a28"/><stop offset="0.45" stop-color="#3c6420"/><stop offset="0.8" stop-color="#5a4414"/><stop offset="1" stop-color="#6a3010"/></linearGradient>
<linearGradient id="g4top" x1="0" x2="1" y1="0" y2="0"><stop offset="0" stop-color="#1e8a28"/><stop offset="0.5" stop-color="#2a7020"/><stop offset="0.8" stop-color="#4a5012"/><stop offset="1" stop-color="#6a2a0c"/></linearGradient>
<linearGradient id="g2base" x1="0" x2="1" y1="0" y2="0"><stop offset="0" stop-color="#5e0e06"/><stop offset="0.5" stop-color="#701206"/><stop offset="1" stop-color="#8a1a08"/></linearGradient>
<linearGradient id="g4base" x1="0" x2="1" y1="0" y2="0"><stop offset="0" stop-color="#4a1406"/><stop offset="0.6" stop-color="#5a1806"/><stop offset="1" stop-color="#7a2008"/></linearGradient>
</defs>
<g clip-path="url(#imc0)">
<rect x="87.0" y="583.2" width="205.0" height="57.8" fill="#030303"/>
<g filter="url(#bl2_5)"><path d="M180,623.2 L284,618.2 L274,645.2 L180,645.2 Z" fill="url(#g1green)"/></g>
<path d="M283,616.2 L293,616.2 L293,643.2 L273.5,643.2 Z" fill="#030303"/>
<g filter="url(#bl2_5)"><path d="M148,597.2 C180,591.2 240,586.2 292,585.2 L292,617.2 C240,618.2 190,620.2 148,619.2 Z" fill="#4a0804"/></g>
<g filter="url(#bl1_2)"><path d="M147,599.2 C170,595.2 230,592.2 292,590.2 L292,612.2 C240,613.2 190,616.2 150,616.2 Z" fill="#dc1a0a"/></g>
<g filter="url(#bl1_2)"><path d="M152,601.2 C180,597.2 230,595.2 292,594.2 L292,608.2 C240,609.2 190,611.2 152,612.2 Z" fill="#ee260a"/></g>
<g filter="url(#bl0_5)">
<g fill="#f8e020" fill-opacity="1.0"><ellipse cx="260.1" cy="603.2" rx="2.6" ry="0.9" transform="rotate(16 260.1 603.2)"/><ellipse cx="288.3" cy="596.2" rx="1.2" ry="2.5" transform="rotate(21 288.3 596.2)"/><ellipse cx="177.8" cy="603.8" rx="3.2" ry="1.1" transform="rotate(42 177.8 603.8)"/><ellipse cx="248.5" cy="605.4" rx="1.4" ry="2.5" transform="rotate(-19 248.5 605.4)"/><ellipse cx="212.2" cy="601.5" rx="2.0" ry="0.7" transform="rotate(-29 212.2 601.5)"/><ellipse cx="216.6" cy="601.1" rx="2.3" ry="1.5" transform="rotate(-37 216.6 601.1)"/><ellipse cx="260.6" cy="597.0" rx="2.6" ry="1.6" transform="rotate(6 260.6 597.0)"/><ellipse cx="204.1" cy="602.3" rx="1.4" ry="1.9" transform="rotate(-27 204.1 602.3)"/><ellipse cx="152.0" cy="605.6" rx="3.0" ry="2.0" transform="rotate(10 152.0 605.6)"/><ellipse cx="206.6" cy="597.6" rx="1.6" ry="1.9" transform="rotate(-59 206.6 597.6)"/><ellipse cx="241.0" cy="603.4" rx="2.6" ry="0.8" transform="rotate(11 241.0 603.4)"/><ellipse cx="194.7" cy="599.6" rx="1.0" ry="0.7" transform="rotate(-48 194.7 599.6)"/><ellipse cx="197.8" cy="601.6" rx="2.2" ry="1.9" transform="rotate(-55 197.8 601.6)"/><ellipse cx="174.6" cy="602.1" rx="2.4" ry="2.1" transform="rotate(9 174.6 602.1)"/><ellipse cx="189.4" cy="599.0" rx="1.9" ry="1.2" transform="rotate(31 189.4 599.0)"/><ellipse cx="275.9" cy="600.1" rx="1.3" ry="2.2" transform="rotate(-58 275.9 600.1)"/><ellipse cx="169.1" cy="600.2" rx="1.7" ry="2.2" transform="rotate(23 169.1 600.2)"/><ellipse cx="240.3" cy="601.9" rx="3.0" ry="2.2" transform="rotate(-56 240.3 601.9)"/><ellipse cx="288.8" cy="600.8" rx="1.7" ry="2.3" transform="rotate(50 288.8 600.8)"/><ellipse cx="259.0" cy="595.7" rx="1.0" ry="1.2" transform="rotate(37 259.0 595.7)"/><ellipse cx="290.8" cy="597.2" rx="2.7" ry="0.9" transform="rotate(30 290.8 597.2)"/><ellipse cx="200.3" cy="597.8" rx="1.4" ry="1.8" transform="rotate(-3 200.3 597.8)"/><ellipse cx="246.9" cy="597.7" rx="2.3" ry="1.4" transform="rotate(32 246.9 597.7)"/><ellipse cx="150.9" cy="606.4" rx="2.3" ry="0.8" transform="rotate(32 150.9 606.4)"/><ellipse cx="239.5" cy="597.9" rx="1.4" ry="1.5" transform="rotate(44 239.5 597.9)"/><ellipse cx="283.1" cy="600.3" rx="1.8" ry="2.1" transform="rotate(-5 283.1 600.3)"/><ellipse cx="225.4" cy="597.4" rx="3.0" ry="0.7" transform="rotate(24 225.4 597.4)"/><ellipse cx="279.0" cy="593.3" rx="1.5" ry="1.8" transform="rotate(-56 279.0 593.3)"/><ellipse cx="263.5" cy="601.0" rx="2.5" ry="2.2" transform="rotate(-58 263.5 601.0)"/><ellipse cx="176.7" cy="600.5" rx="2.3" ry="1.4" transform="rotate(-27 176.7 600.5)"/><ellipse cx="153.6" cy="602.4" rx="3.1" ry="0.8" transform="rotate(12 153.6 602.4)"/><ellipse cx="178.8" cy="606.0" rx="2.8" ry="1.1" transform="rotate(57 178.8 606.0)"/><ellipse cx="193.9" cy="599.4" rx="1.6" ry="1.2" transform="rotate(-52 193.9 599.4)"/><ellipse cx="191.4" cy="599.8" rx="1.1" ry="0.7" transform="rotate(-59 191.4 599.8)"/><ellipse cx="274.1" cy="597.4" rx="3.0" ry="1.6" transform="rotate(7 274.1 597.4)"/><ellipse cx="202.4" cy="600.6" rx="1.8" ry="2.2" transform="rotate(-13 202.4 600.6)"/><ellipse cx="167.9" cy="604.0" rx="1.1" ry="1.4" transform="rotate(-14 167.9 604.0)"/><ellipse cx="249.8" cy="602.3" rx="1.3" ry="1.8" transform="rotate(40 249.8 602.3)"/><ellipse cx="246.2" cy="603.8" rx="1.9" ry="2.4" transform="rotate(2 246.2 603.8)"/><ellipse cx="245.3" cy="601.4" rx="2.7" ry="1.7" transform="rotate(34 245.3 601.4)"/><ellipse cx="189.5" cy="595.9" rx="1.4" ry="1.8" transform="rotate(-51 189.5 595.9)"/><ellipse cx="198.7" cy="598.7" rx="1.6" ry="1.2" transform="rotate(-32 198.7 598.7)"/><ellipse cx="216.7" cy="600.6" rx="1.6" ry="1.7" transform="rotate(59 216.7 600.6)"/><ellipse cx="220.7" cy="599.2" rx="2.8" ry="2.4" transform="rotate(30 220.7 599.2)"/><ellipse cx="195.9" cy="601.5" rx="1.7" ry="2.4" transform="rotate(-59 195.9 601.5)"/><ellipse cx="273.3" cy="598.5" rx="1.3" ry="2.3" transform="rotate(35 273.3 598.5)"/><ellipse cx="155.7" cy="601.3" rx="1.2" ry="2.1" transform="rotate(48 155.7 601.3)"/><ellipse cx="191.1" cy="606.9" rx="1.1" ry="0.9" transform="rotate(-52 191.1 606.9)"/><ellipse cx="252.1" cy="596.1" rx="2.0" ry="1.2" transform="rotate(2 252.1 596.1)"/><ellipse cx="228.2" cy="598.4" rx="1.6" ry="2.4" transform="rotate(52 228.2 598.4)"/><ellipse cx="215.9" cy="601.6" rx="2.1" ry="1.7" transform="rotate(55 215.9 601.6)"/><ellipse cx="211.1" cy="598.1" rx="3.1" ry="1.9" transform="rotate(-44 211.1 598.1)"/><ellipse cx="227.1" cy="597.9" rx="2.2" ry="1.2" transform="rotate(-16 227.1 597.9)"/><ellipse cx="252.9" cy="596.9" rx="1.0" ry="1.3" transform="rotate(29 252.9 596.9)"/><ellipse cx="158.7" cy="601.9" rx="2.2" ry="1.3" transform="rotate(22 158.7 601.9)"/><ellipse cx="159.2" cy="601.9" rx="2.7" ry="2.3" transform="rotate(3 159.2 601.9)"/><ellipse cx="215.6" cy="599.3" rx="1.2" ry="1.7" transform="rotate(-23 215.6 599.3)"/><ellipse cx="271.9" cy="597.3" rx="1.1" ry="2.2" transform="rotate(58 271.9 597.3)"/><ellipse cx="210.9" cy="597.3" rx="2.6" ry="2.2" transform="rotate(11 210.9 597.3)"/><ellipse cx="221.4" cy="600.6" rx="2.8" ry="2.5" transform="rotate(47 221.4 600.6)"/><ellipse cx="253.4" cy="601.4" rx="1.1" ry="0.7" transform="rotate(-29 253.4 601.4)"/><ellipse cx="150.9" cy="604.8" rx="1.4" ry="2.3" transform="rotate(-48 150.9 604.8)"/><ellipse cx="259.0" cy="600.5" rx="3.1" ry="1.4" transform="rotate(-27 259.0 600.5)"/><ellipse cx="195.3" cy="599.0" rx="2.9" ry="1.9" transform="rotate(-43 195.3 599.0)"/><ellipse cx="202.7" cy="599.7" rx="1.6" ry="2.4" transform="rotate(25 202.7 599.7)"/><ellipse cx="248.9" cy="601.9" rx="2.2" ry="1.1" transform="rotate(-21 248.9 601.9)"/><ellipse cx="259.5" cy="596.6" rx="2.7" ry="1.0" transform="rotate(46 259.5 596.6)"/><ellipse cx="157.3" cy="604.8" rx="2.4" ry="1.4" transform="rotate(-40 157.3 604.8)"/><ellipse cx="171.2" cy="601.5" rx="1.7" ry="2.4" transform="rotate(30 171.2 601.5)"/><ellipse cx="219.1" cy="599.8" rx="1.5" ry="1.5" transform="rotate(37 219.1 599.8)"/><ellipse cx="277.3" cy="599.7" rx="1.7" ry="2.1" transform="rotate(-26 277.3 599.7)"/><ellipse cx="197.7" cy="606.2" rx="2.8" ry="0.9" transform="rotate(21 197.7 606.2)"/><ellipse cx="163.0" cy="603.1" rx="3.0" ry="0.9" transform="rotate(34 163.0 603.1)"/><ellipse cx="180.6" cy="605.4" rx="1.7" ry="1.7" transform="rotate(38 180.6 605.4)"/><ellipse cx="162.7" cy="602.4" rx="3.0" ry="1.2" transform="rotate(8 162.7 602.4)"/><ellipse cx="278.5" cy="603.2" rx="3.0" ry="1.7" transform="rotate(21 278.5 603.2)"/><ellipse cx="159.1" cy="606.1" rx="1.9" ry="1.7" transform="rotate(4 159.1 606.1)"/><ellipse cx="194.3" cy="600.8" rx="2.4" ry="1.7" transform="rotate(-42 194.3 600.8)"/><ellipse cx="253.1" cy="599.1" rx="3.1" ry="1.8" transform="rotate(-20 253.1 599.1)"/><ellipse cx="238.2" cy="599.2" rx="1.5" ry="1.8" transform="rotate(17 238.2 599.2)"/><ellipse cx="286.2" cy="597.0" rx="2.9" ry="1.5" transform="rotate(-56 286.2 597.0)"/><ellipse cx="206.0" cy="605.6" rx="1.8" ry="1.4" transform="rotate(38 206.0 605.6)"/><ellipse cx="209.9" cy="603.6" rx="1.6" ry="0.9" transform="rotate(-2 209.9 603.6)"/><ellipse cx="252.8" cy="604.2" rx="1.5" ry="1.7" transform="rotate(39 252.8 604.2)"/><ellipse cx="231.2" cy="606.2" rx="1.9" ry="1.9" transform="rotate(31 231.2 606.2)"/><ellipse cx="161.1" cy="597.3" rx="2.0" ry="1.6" transform="rotate(-1 161.1 597.3)"/><ellipse cx="253.3" cy="595.1" rx="2.3" ry="1.3" transform="rotate(-30 253.3 595.1)"/><ellipse cx="222.4" cy="597.6" rx="1.1" ry="2.0" transform="rotate(-43 222.4 597.6)"/><ellipse cx="238.0" cy="599.1" rx="2.8" ry="0.9" transform="rotate(-4 238.0 599.1)"/><ellipse cx="227.7" cy="597.8" rx="1.8" ry="2.5" transform="rotate(-41 227.7 597.8)"/><ellipse cx="269.7" cy="600.0" rx="1.4" ry="1.4" transform="rotate(3 269.7 600.0)"/><ellipse cx="277.5" cy="598.7" rx="3.0" ry="0.8" transform="rotate(-24 277.5 598.7)"/><ellipse cx="150.5" cy="604.1" rx="3.1" ry="1.5" transform="rotate(25 150.5 604.1)"/><ellipse cx="157.1" cy="604.3" rx="1.8" ry="1.7" transform="rotate(-23 157.1 604.3)"/><ellipse cx="243.8" cy="604.2" rx="2.1" ry="1.6" transform="rotate(-18 243.8 604.2)"/><ellipse cx="221.9" cy="601.4" rx="2.4" ry="1.0" transform="rotate(19 221.9 601.4)"/><ellipse cx="178.1" cy="601.7" rx="2.6" ry="1.9" transform="rotate(35 178.1 601.7)"/><ellipse cx="207.6" cy="603.8" rx="2.9" ry="1.7" transform="rotate(-24 207.6 603.8)"/><ellipse cx="281.9" cy="602.4" rx="1.3" ry="1.5" transform="rotate(-46 281.9 602.4)"/><ellipse cx="219.0" cy="601.1" rx="1.3" ry="2.1" transform="rotate(-22 219.0 601.1)"/><ellipse cx="284.9" cy="601.7" rx="1.8" ry="1.2" transform="rotate(-43 284.9 601.7)"/><ellipse cx="199.6" cy="604.6" rx="1.0" ry="1.8" transform="rotate(-34 199.6 604.6)"/><ellipse cx="173.3" cy="601.5" rx="1.6" ry="1.8" transform="rotate(-29 173.3 601.5)"/><ellipse cx="244.7" cy="595.5" rx="1.8" ry="2.5" transform="rotate(52 244.7 595.5)"/><ellipse cx="178.6" cy="599.5" rx="2.2" ry="1.3" transform="rotate(-16 178.6 599.5)"/><ellipse cx="285.3" cy="600.4" rx="3.1" ry="1.3" transform="rotate(18 285.3 600.4)"/><ellipse cx="227.0" cy="602.0" rx="1.5" ry="0.8" transform="rotate(37 227.0 602.0)"/><ellipse cx="275.6" cy="596.2" rx="2.9" ry="1.6" transform="rotate(-51 275.6 596.2)"/><ellipse cx="185.4" cy="602.6" rx="2.2" ry="2.6" transform="rotate(-13 185.4 602.6)"/><ellipse cx="247.1" cy="598.8" rx="1.3" ry="2.5" transform="rotate(46 247.1 598.8)"/><ellipse cx="164.0" cy="602.7" rx="2.2" ry="2.1" transform="rotate(-23 164.0 602.7)"/><ellipse cx="157.2" cy="603.5" rx="2.2" ry="2.3" transform="rotate(-58 157.2 603.5)"/><ellipse cx="250.3" cy="595.8" rx="1.7" ry="1.6" transform="rotate(-55 250.3 595.8)"/><ellipse cx="219.1" cy="599.4" rx="1.7" ry="1.7" transform="rotate(21 219.1 599.4)"/><ellipse cx="166.6" cy="604.0" rx="1.6" ry="1.1" transform="rotate(12 166.6 604.0)"/><ellipse cx="156.4" cy="602.0" rx="2.6" ry="1.1" transform="rotate(-56 156.4 602.0)"/><ellipse cx="271.8" cy="597.6" rx="1.7" ry="2.3" transform="rotate(-33 271.8 597.6)"/><ellipse cx="178.1" cy="607.1" rx="1.3" ry="1.4" transform="rotate(18 178.1 607.1)"/><ellipse cx="186.9" cy="602.1" rx="3.0" ry="1.3" transform="rotate(-28 186.9 602.1)"/><ellipse cx="223.3" cy="605.5" rx="1.9" ry="1.7" transform="rotate(34 223.3 605.5)"/><ellipse cx="286.5" cy="601.0" rx="2.8" ry="1.1" transform="rotate(-33 286.5 601.0)"/><ellipse cx="164.7" cy="603.4" rx="1.5" ry="2.2" transform="rotate(55 164.7 603.4)"/><ellipse cx="165.6" cy="604.0" rx="3.2" ry="2.4" transform="rotate(-35 165.6 604.0)"/><ellipse cx="233.4" cy="596.7" rx="1.0" ry="0.8" transform="rotate(27 233.4 596.7)"/><ellipse cx="222.0" cy="602.5" rx="1.2" ry="1.1" transform="rotate(34 222.0 602.5)"/><ellipse cx="204.3" cy="598.7" rx="2.7" ry="0.9" transform="rotate(-46 204.3 598.7)"/><ellipse cx="220.6" cy="600.0" rx="1.7" ry="1.7" transform="rotate(30 220.6 600.0)"/><ellipse cx="272.0" cy="598.8" rx="2.6" ry="1.1" transform="rotate(-3 272.0 598.8)"/><ellipse cx="254.0" cy="597.3" rx="2.4" ry="1.2" transform="rotate(15 254.0 597.3)"/><ellipse cx="219.1" cy="602.2" rx="1.3" ry="1.4" transform="rotate(34 219.1 602.2)"/></g>
</g>
<g filter="url(#bl0_8)"><ellipse cx="153" cy="604.2" rx="4.5" ry="5.5" fill="#a0d820"/><ellipse cx="150" cy="611.2" rx="3.5" ry="3" fill="#40b028"/></g>
<g filter="url(#bl0_8)"><path d="M124,623.2 C132,623.2 140,620.2 147,616.2 C146,622.2 140,627.2 130,628.2 C126,628.2 124,626.2 124,623.2 Z" fill="#28b038"/></g>
<g filter="url(#bl0_8)"><path d="M90,613.2 C96,612.2 104,616.2 111,620.2 L109,622.2 C102,619.2 96,616.2 90,615.2 Z" fill="#c8241c"/></g>
<g filter="url(#bl0_8)"><path d="M102,608.2 C106,607.2 108,613.2 107,617.2 C104,617.2 101,613.2 102,608.2 Z" fill="#28b83a"/></g>
</g>
<text x="144.3" y="591.5" font-size="7.2" fill="#f4f4f4" textLength="21.5" lengthAdjust="spacingAndGlyphs">AA/IgG</text>
<rect x="144.2" y="635.8" width="23.4" height="1.5" fill="#e8e8e8"/>
<text x="230.5" y="635.6" font-size="4.6" fill="#e8e8e8" textLength="20" lengthAdjust="spacingAndGlyphs">00:45:00</text>
<g clip-path="url(#imc1)">
<rect x="87.0" y="651.2" width="205.0" height="57.8" fill="url(#g2base)"/>
<g filter="url(#bl2_5)"><path d="M80,646.2 L300,646.2 L300,660.2 C250,662.2 180,664.2 80,666.2 Z" fill="url(#g2top)"/></g>
<g filter="url(#bl1_8)"><path d="M80,646.2 L170,646.2 L170,655.2 C140,658.2 110,660.2 80,661.2 Z" fill="#2a8430"/></g>
<g filter="url(#bl1_8)"><path d="M122,703.2 C128,697.2 140,694.2 160,694.2 C200,695.2 250,695.2 300,694.2 L300,721.2 L118,721.2 Z" fill="#24882c"/></g>
<g filter="url(#bl1_8)"><path d="M80,699.2 L96,699.2 L98,721.2 L80,721.2 Z" fill="#27882a"/></g>
<g filter="url(#bl2_5)"><path d="M96,701.2 L130,703.2 L130,721.2 L96,721.2 Z" fill="#3a5014"/></g>
<g filter="url(#bl0_8)"><path d="M105,676.2 C108,673.2 118,672.2 126,673.2 C134,675.2 137,685.2 135,695.2 C128,699.2 116,698.2 106,696.2 C103,689.2 103,682.2 105,676.2 Z" fill="#3a0a06" stroke="#a08048" stroke-width="0.9"/></g>
<g filter="url(#bl0_5)">
<g fill="#3cc04a" fill-opacity="1.0"><ellipse cx="125.7" cy="675.0" rx="1.4" ry="1.9" transform="rotate(-5 125.7 675.0)"/><ellipse cx="145.6" cy="682.6" rx="2.7" ry="0.9" transform="rotate(7 145.6 682.6)"/><ellipse cx="133.4" cy="684.3" rx="2.1" ry="1.4" transform="rotate(-34 133.4 684.3)"/><ellipse cx="139.5" cy="675.6" rx="1.4" ry="1.4" transform="rotate(50 139.5 675.6)"/><ellipse cx="126.5" cy="674.5" rx="1.3" ry="1.6" transform="rotate(20 126.5 674.5)"/><ellipse cx="127.2" cy="687.8" rx="2.1" ry="2.1" transform="rotate(8 127.2 687.8)"/><ellipse cx="132.9" cy="677.1" rx="1.4" ry="1.9" transform="rotate(43 132.9 677.1)"/><ellipse cx="137.2" cy="678.4" rx="1.4" ry="1.1" transform="rotate(6 137.2 678.4)"/><ellipse cx="135.1" cy="681.0" rx="2.9" ry="2.0" transform="rotate(27 135.1 681.0)"/><ellipse cx="145.6" cy="682.8" rx="2.1" ry="1.2" transform="rotate(22 145.6 682.8)"/><ellipse cx="136.4" cy="681.6" rx="2.9" ry="1.6" transform="rotate(42 136.4 681.6)"/><ellipse cx="144.7" cy="680.8" rx="2.3" ry="1.8" transform="rotate(-2 144.7 680.8)"/><ellipse cx="129.0" cy="677.8" rx="1.5" ry="1.3" transform="rotate(11 129.0 677.8)"/><ellipse cx="135.1" cy="677.6" rx="1.7" ry="1.6" transform="rotate(-6 135.1 677.6)"/><ellipse cx="119.5" cy="686.6" rx="1.8" ry="1.9" transform="rotate(23 119.5 686.6)"/><ellipse cx="138.7" cy="680.9" rx="2.9" ry="1.3" transform="rotate(20 138.7 680.9)"/><ellipse cx="124.1" cy="681.4" rx="2.6" ry="2.0" transform="rotate(28 124.1 681.4)"/><ellipse cx="117.9" cy="686.1" rx="2.3" ry="1.6" transform="rotate(50 117.9 686.1)"/><ellipse cx="117.6" cy="683.0" rx="1.5" ry="1.4" transform="rotate(34 117.6 683.0)"/><ellipse cx="118.8" cy="680.8" rx="2.3" ry="1.4" transform="rotate(42 118.8 680.8)"/><ellipse cx="115.4" cy="678.1" rx="2.1" ry="1.5" transform="rotate(-14 115.4 678.1)"/><ellipse cx="145.9" cy="676.1" rx="2.4" ry="1.6" transform="rotate(-36 145.9 676.1)"/><ellipse cx="117.3" cy="679.9" rx="2.5" ry="2.4" transform="rotate(-30 117.3 679.9)"/><ellipse cx="126.6" cy="679.8" rx="2.2" ry="0.9" transform="rotate(36 126.6 679.8)"/><ellipse cx="137.4" cy="675.0" rx="2.5" ry="1.4" transform="rotate(-8 137.4 675.0)"/><ellipse cx="120.4" cy="678.5" rx="2.2" ry="0.9" transform="rotate(-42 120.4 678.5)"/><ellipse cx="137.4" cy="679.8" rx="2.0" ry="1.9" transform="rotate(-40 137.4 679.8)"/><ellipse cx="129.9" cy="676.3" rx="1.5" ry="2.1" transform="rotate(-50 129.9 676.3)"/><ellipse cx="140.4" cy="675.0" rx="1.8" ry="1.2" transform="rotate(43 140.4 675.0)"/><ellipse cx="145.9" cy="676.7" rx="2.3" ry="0.9" transform="rotate(-12 145.9 676.7)"/><ellipse cx="121.0" cy="680.3" rx="1.6" ry="1.8" transform="rotate(55 121.0 680.3)"/><ellipse cx="122.0" cy="679.9" rx="2.7" ry="0.9" transform="rotate(29 122.0 679.9)"/><ellipse cx="142.5" cy="679.2" rx="2.1" ry="2.4" transform="rotate(-42 142.5 679.2)"/><ellipse cx="140.7" cy="675.2" rx="1.3" ry="1.1" transform="rotate(51 140.7 675.2)"/><ellipse cx="116.1" cy="687.4" rx="1.3" ry="1.2" transform="rotate(-34 116.1 687.4)"/><ellipse cx="139.3" cy="675.7" rx="1.4" ry="1.7" transform="rotate(-36 139.3 675.7)"/><ellipse cx="130.6" cy="677.1" rx="1.5" ry="1.4" transform="rotate(26 130.6 677.1)"/><ellipse cx="140.5" cy="677.7" rx="2.1" ry="2.2" transform="rotate(4 140.5 677.7)"/><ellipse cx="139.3" cy="673.8" rx="1.8" ry="1.8" transform="rotate(4 139.3 673.8)"/><ellipse cx="120.5" cy="674.0" rx="2.8" ry="0.9" transform="rotate(55 120.5 674.0)"/><ellipse cx="115.7" cy="681.4" rx="1.3" ry="1.4" transform="rotate(8 115.7 681.4)"/><ellipse cx="130.1" cy="675.8" rx="2.1" ry="1.9" transform="rotate(19 130.1 675.8)"/><ellipse cx="118.9" cy="681.4" rx="1.3" ry="1.8" transform="rotate(-55 118.9 681.4)"/><ellipse cx="131.9" cy="681.0" rx="1.3" ry="1.6" transform="rotate(-23 131.9 681.0)"/><ellipse cx="115.8" cy="679.6" rx="1.6" ry="1.9" transform="rotate(-10 115.8 679.6)"/></g>
</g>
<g filter="url(#bl0_8)"><path d="M136,681.2 L152,685.2 L136,689.2 Z" fill="#38b848"/></g>
<path d="M292,668.2 L292,711.2 L273.8,711.2 Z" fill="#050505"/>
</g>
<text x="144.3" y="659.5" font-size="7.2" fill="#f4f4f4" textLength="30.5" lengthAdjust="spacingAndGlyphs">AA/15D10</text>
<rect x="144.2" y="703.8" width="23.4" height="1.5" fill="#e8e8e8"/>
<text x="230.5" y="703.6" font-size="4.6" fill="#e8e8e8" textLength="20" lengthAdjust="spacingAndGlyphs">00:45:00</text>
<g clip-path="url(#imc2)">
<rect x="87.0" y="719.2" width="205.0" height="57.8" fill="#040404"/>
<g filter="url(#bl4)"><ellipse cx="150" cy="722.2" rx="40" ry="7" fill="#0c3412"/></g>
<g filter="url(#bl2_5)"><path d="M160,765.2 C200,763.2 250,760.2 290,758.2 L282,781.2 L160,781.2 Z" fill="#0c5020"/></g>
<g filter="url(#bl2_5)"><path d="M93,737.2 C130,729.2 220,723.2 292,722.2 L292,757.2 C220,760.2 160,766.2 93,765.2 Z" fill="#4a0804"/></g>
<g filter="url(#bl1_2)"><ellipse cx="117" cy="747.7" rx="21" ry="14" fill="#d81c0c"/></g>
<g filter="url(#bl1_8)"><ellipse cx="120" cy="748.2" rx="14" ry="9" fill="#580a06"/></g>
<g filter="url(#bl1_2)"><path d="M132,735.2 C170,730.2 230,726.2 292,725.2 L292,751.2 C230,753.2 180,758.2 132,760.2 Z" fill="#e41e0a"/></g>
<g filter="url(#bl1_2)"><path d="M142,741.2 C175,735.2 230,731.2 292,730.2 L292,747.2 C230,749.2 180,752.2 142,754.2 Z" fill="#f03a10"/></g>
<g filter="url(#bl0_5)">
<g fill="#f8e020" fill-opacity="1.0"><ellipse cx="244.8" cy="741.7" rx="1.4" ry="1.0" transform="rotate(18 244.8 741.7)"/><ellipse cx="268.9" cy="742.7" rx="1.6" ry="2.3" transform="rotate(-4 268.9 742.7)"/><ellipse cx="202.7" cy="741.7" rx="1.3" ry="1.7" transform="rotate(-24 202.7 741.7)"/><ellipse cx="198.8" cy="741.3" rx="2.8" ry="2.1" transform="rotate(29 198.8 741.3)"/><ellipse cx="142.8" cy="747.9" rx="2.5" ry="2.6" transform="rotate(53 142.8 747.9)"/><ellipse cx="141.9" cy="742.5" rx="1.7" ry="2.1" transform="rotate(32 141.9 742.5)"/><ellipse cx="267.9" cy="737.0" rx="2.7" ry="2.6" transform="rotate(-0 267.9 737.0)"/><ellipse cx="175.2" cy="743.7" rx="2.3" ry="2.3" transform="rotate(-6 175.2 743.7)"/><ellipse cx="242.9" cy="741.1" rx="3.5" ry="1.8" transform="rotate(39 242.9 741.1)"/><ellipse cx="250.1" cy="741.7" rx="2.1" ry="1.0" transform="rotate(-5 250.1 741.7)"/><ellipse cx="190.0" cy="743.3" rx="3.6" ry="1.4" transform="rotate(34 190.0 743.3)"/><ellipse cx="165.1" cy="740.2" rx="2.0" ry="1.3" transform="rotate(-13 165.1 740.2)"/><ellipse cx="281.1" cy="742.0" rx="2.4" ry="2.5" transform="rotate(0 281.1 742.0)"/><ellipse cx="157.0" cy="745.8" rx="2.9" ry="1.8" transform="rotate(-35 157.0 745.8)"/><ellipse cx="286.0" cy="738.1" rx="3.1" ry="1.4" transform="rotate(30 286.0 738.1)"/><ellipse cx="219.6" cy="744.9" rx="2.9" ry="1.4" transform="rotate(-8 219.6 744.9)"/><ellipse cx="247.8" cy="742.9" rx="2.2" ry="2.2" transform="rotate(-2 247.8 742.9)"/><ellipse cx="240.6" cy="742.9" rx="3.6" ry="1.1" transform="rotate(20 240.6 742.9)"/><ellipse cx="150.0" cy="743.1" rx="3.3" ry="2.4" transform="rotate(-48 150.0 743.1)"/><ellipse cx="182.4" cy="750.2" rx="3.4" ry="2.6" transform="rotate(33 182.4 750.2)"/><ellipse cx="245.5" cy="740.1" rx="1.2" ry="0.9" transform="rotate(-24 245.5 740.1)"/><ellipse cx="227.1" cy="740.5" rx="2.2" ry="1.3" transform="rotate(16 227.1 740.5)"/><ellipse cx="283.7" cy="733.4" rx="2.5" ry="1.4" transform="rotate(30 283.7 733.4)"/><ellipse cx="162.1" cy="744.1" rx="1.6" ry="2.2" transform="rotate(0 162.1 744.1)"/><ellipse cx="264.6" cy="734.3" rx="3.4" ry="1.7" transform="rotate(-58 264.6 734.3)"/><ellipse cx="287.3" cy="740.0" rx="3.2" ry="2.5" transform="rotate(-45 287.3 740.0)"/><ellipse cx="272.0" cy="743.4" rx="1.9" ry="1.1" transform="rotate(-2 272.0 743.4)"/><ellipse cx="168.6" cy="748.6" rx="2.5" ry="1.1" transform="rotate(-2 168.6 748.6)"/><ellipse cx="244.8" cy="741.8" rx="3.3" ry="2.4" transform="rotate(30 244.8 741.8)"/><ellipse cx="249.3" cy="744.6" rx="1.5" ry="0.9" transform="rotate(29 249.3 744.6)"/><ellipse cx="142.7" cy="747.2" rx="2.7" ry="2.7" transform="rotate(-48 142.7 747.2)"/><ellipse cx="193.2" cy="744.3" rx="2.0" ry="1.4" transform="rotate(-38 193.2 744.3)"/><ellipse cx="143.0" cy="748.9" rx="1.3" ry="1.8" transform="rotate(28 143.0 748.9)"/><ellipse cx="203.2" cy="737.0" rx="3.5" ry="1.1" transform="rotate(17 203.2 737.0)"/><ellipse cx="241.1" cy="741.4" rx="2.0" ry="1.1" transform="rotate(-15 241.1 741.4)"/><ellipse cx="223.6" cy="738.4" rx="1.8" ry="2.6" transform="rotate(34 223.6 738.4)"/><ellipse cx="195.4" cy="742.2" rx="1.2" ry="2.8" transform="rotate(-1 195.4 742.2)"/><ellipse cx="163.2" cy="748.8" rx="3.3" ry="2.3" transform="rotate(58 163.2 748.8)"/><ellipse cx="181.9" cy="746.6" rx="2.2" ry="2.1" transform="rotate(-26 181.9 746.6)"/><ellipse cx="243.0" cy="738.5" rx="2.1" ry="2.2" transform="rotate(-27 243.0 738.5)"/><ellipse cx="189.9" cy="734.6" rx="2.1" ry="1.5" transform="rotate(56 189.9 734.6)"/><ellipse cx="281.5" cy="738.1" rx="1.3" ry="2.5" transform="rotate(-35 281.5 738.1)"/><ellipse cx="238.0" cy="746.6" rx="3.0" ry="0.9" transform="rotate(11 238.0 746.6)"/><ellipse cx="165.8" cy="744.2" rx="1.7" ry="1.2" transform="rotate(-17 165.8 744.2)"/><ellipse cx="223.2" cy="740.7" rx="1.5" ry="2.5" transform="rotate(-9 223.2 740.7)"/><ellipse cx="290.1" cy="737.8" rx="1.7" ry="1.8" transform="rotate(29 290.1 737.8)"/><ellipse cx="265.5" cy="733.3" rx="2.0" ry="2.3" transform="rotate(-48 265.5 733.3)"/><ellipse cx="246.6" cy="741.6" rx="2.8" ry="1.0" transform="rotate(-30 246.6 741.6)"/><ellipse cx="183.5" cy="743.3" rx="3.5" ry="2.6" transform="rotate(-50 183.5 743.3)"/><ellipse cx="227.2" cy="744.9" rx="3.1" ry="0.9" transform="rotate(29 227.2 744.9)"/><ellipse cx="257.9" cy="739.0" rx="2.6" ry="1.7" transform="rotate(-38 257.9 739.0)"/><ellipse cx="229.8" cy="743.2" rx="1.8" ry="1.9" transform="rotate(-51 229.8 743.2)"/><ellipse cx="213.5" cy="743.0" rx="2.3" ry="1.2" transform="rotate(30 213.5 743.0)"/><ellipse cx="270.4" cy="743.3" rx="3.3" ry="2.6" transform="rotate(11 270.4 743.3)"/><ellipse cx="253.5" cy="739.7" rx="2.5" ry="2.8" transform="rotate(29 253.5 739.7)"/><ellipse cx="286.4" cy="734.6" rx="1.5" ry="0.9" transform="rotate(-58 286.4 734.6)"/><ellipse cx="229.4" cy="747.0" rx="1.5" ry="2.8" transform="rotate(-26 229.4 747.0)"/><ellipse cx="175.7" cy="748.0" rx="1.2" ry="1.8" transform="rotate(20 175.7 748.0)"/><ellipse cx="224.6" cy="737.3" rx="3.1" ry="1.9" transform="rotate(9 224.6 737.3)"/><ellipse cx="198.4" cy="748.9" rx="1.2" ry="1.3" transform="rotate(26 198.4 748.9)"/><ellipse cx="186.1" cy="744.8" rx="3.0" ry="1.6" transform="rotate(41 186.1 744.8)"/><ellipse cx="244.8" cy="743.8" rx="2.5" ry="2.0" transform="rotate(51 244.8 743.8)"/><ellipse cx="265.3" cy="742.6" rx="3.3" ry="2.1" transform="rotate(-3 265.3 742.6)"/><ellipse cx="221.1" cy="739.3" rx="2.3" ry="2.8" transform="rotate(30 221.1 739.3)"/><ellipse cx="156.3" cy="747.8" rx="2.0" ry="2.8" transform="rotate(7 156.3 747.8)"/><ellipse cx="235.0" cy="739.9" rx="3.2" ry="1.3" transform="rotate(-29 235.0 739.9)"/><ellipse cx="230.6" cy="742.0" rx="1.1" ry="1.9" transform="rotate(53 230.6 742.0)"/><ellipse cx="243.1" cy="741.7" rx="2.9" ry="1.1" transform="rotate(57 243.1 741.7)"/><ellipse cx="222.0" cy="743.5" rx="3.0" ry="2.8" transform="rotate(2 222.0 743.5)"/><ellipse cx="214.8" cy="741.2" rx="2.8" ry="1.3" transform="rotate(-28 214.8 741.2)"/><ellipse cx="228.9" cy="743.5" rx="1.4" ry="1.9" transform="rotate(-59 228.9 743.5)"/><ellipse cx="145.7" cy="744.2" rx="2.9" ry="1.7" transform="rotate(15 145.7 744.2)"/><ellipse cx="265.8" cy="737.0" rx="3.3" ry="1.8" transform="rotate(38 265.8 737.0)"/><ellipse cx="238.0" cy="741.8" rx="2.3" ry="2.4" transform="rotate(16 238.0 741.8)"/><ellipse cx="270.4" cy="740.4" rx="2.8" ry="1.5" transform="rotate(53 270.4 740.4)"/><ellipse cx="233.8" cy="742.4" rx="3.2" ry="1.3" transform="rotate(-59 233.8 742.4)"/><ellipse cx="274.4" cy="741.8" rx="2.0" ry="1.8" transform="rotate(-47 274.4 741.8)"/><ellipse cx="215.8" cy="742.9" rx="1.2" ry="1.5" transform="rotate(21 215.8 742.9)"/><ellipse cx="279.9" cy="745.3" rx="3.5" ry="2.1" transform="rotate(-13 279.9 745.3)"/><ellipse cx="234.3" cy="746.1" rx="3.1" ry="1.2" transform="rotate(-23 234.3 746.1)"/><ellipse cx="205.3" cy="743.5" rx="1.9" ry="1.5" transform="rotate(31 205.3 743.5)"/><ellipse cx="211.1" cy="738.0" rx="1.3" ry="2.6" transform="rotate(25 211.1 738.0)"/><ellipse cx="242.8" cy="737.1" rx="1.2" ry="1.5" transform="rotate(-56 242.8 737.1)"/><ellipse cx="171.1" cy="741.8" rx="2.2" ry="2.4" transform="rotate(49 171.1 741.8)"/><ellipse cx="214.6" cy="742.1" rx="2.6" ry="1.7" transform="rotate(34 214.6 742.1)"/><ellipse cx="169.3" cy="739.8" rx="2.6" ry="1.3" transform="rotate(-45 169.3 739.8)"/><ellipse cx="225.2" cy="739.4" rx="2.0" ry="1.6" transform="rotate(13 225.2 739.4)"/><ellipse cx="183.3" cy="745.8" rx="1.6" ry="2.3" transform="rotate(-3 183.3 745.8)"/><ellipse cx="255.7" cy="741.7" rx="3.1" ry="2.1" transform="rotate(-3 255.7 741.7)"/><ellipse cx="234.5" cy="744.0" rx="1.5" ry="1.7" transform="rotate(-42 234.5 744.0)"/><ellipse cx="252.6" cy="740.0" rx="3.2" ry="1.6" transform="rotate(44 252.6 740.0)"/><ellipse cx="148.9" cy="748.4" rx="1.9" ry="1.3" transform="rotate(-3 148.9 748.4)"/><ellipse cx="181.6" cy="747.4" rx="3.1" ry="2.5" transform="rotate(38 181.6 747.4)"/><ellipse cx="159.5" cy="750.2" rx="3.3" ry="2.7" transform="rotate(57 159.5 750.2)"/><ellipse cx="279.9" cy="739.2" rx="1.8" ry="0.8" transform="rotate(0 279.9 739.2)"/><ellipse cx="147.8" cy="748.7" rx="1.4" ry="1.2" transform="rotate(-31 147.8 748.7)"/><ellipse cx="212.7" cy="749.2" rx="2.1" ry="2.7" transform="rotate(-10 212.7 749.2)"/><ellipse cx="269.8" cy="740.0" rx="1.5" ry="1.5" transform="rotate(43 269.8 740.0)"/><ellipse cx="230.6" cy="736.9" rx="1.6" ry="2.1" transform="rotate(-12 230.6 736.9)"/><ellipse cx="263.3" cy="741.9" rx="3.4" ry="2.4" transform="rotate(34 263.3 741.9)"/><ellipse cx="221.7" cy="735.8" rx="1.6" ry="1.9" transform="rotate(14 221.7 735.8)"/><ellipse cx="197.0" cy="745.5" rx="3.4" ry="1.6" transform="rotate(-23 197.0 745.5)"/><ellipse cx="206.5" cy="743.9" rx="1.5" ry="1.7" transform="rotate(23 206.5 743.9)"/><ellipse cx="184.5" cy="745.3" rx="3.3" ry="1.4" transform="rotate(-6 184.5 745.3)"/><ellipse cx="148.9" cy="747.2" rx="1.4" ry="1.0" transform="rotate(17 148.9 747.2)"/><ellipse cx="224.5" cy="740.1" rx="1.6" ry="0.8" transform="rotate(43 224.5 740.1)"/><ellipse cx="265.5" cy="740.4" rx="1.5" ry="2.1" transform="rotate(5 265.5 740.4)"/><ellipse cx="218.3" cy="745.9" rx="1.4" ry="1.5" transform="rotate(-18 218.3 745.9)"/><ellipse cx="269.6" cy="742.1" rx="3.0" ry="1.1" transform="rotate(8 269.6 742.1)"/><ellipse cx="274.1" cy="737.0" rx="3.3" ry="2.3" transform="rotate(26 274.1 737.0)"/><ellipse cx="214.7" cy="739.4" rx="3.2" ry="2.6" transform="rotate(-48 214.7 739.4)"/><ellipse cx="221.2" cy="740.4" rx="3.1" ry="1.3" transform="rotate(-10 221.2 740.4)"/><ellipse cx="252.8" cy="738.0" rx="1.3" ry="1.3" transform="rotate(-21 252.8 738.0)"/><ellipse cx="156.0" cy="749.2" rx="2.1" ry="1.4" transform="rotate(19 156.0 749.2)"/><ellipse cx="188.1" cy="749.2" rx="2.9" ry="2.0" transform="rotate(-53 188.1 749.2)"/><ellipse cx="283.5" cy="742.9" rx="2.3" ry="1.7" transform="rotate(19 283.5 742.9)"/><ellipse cx="197.5" cy="741.7" rx="1.8" ry="0.9" transform="rotate(44 197.5 741.7)"/><ellipse cx="153.9" cy="747.1" rx="3.3" ry="0.8" transform="rotate(-20 153.9 747.1)"/><ellipse cx="211.5" cy="742.4" rx="1.9" ry="1.8" transform="rotate(57 211.5 742.4)"/><ellipse cx="198.8" cy="745.7" rx="2.5" ry="2.8" transform="rotate(29 198.8 745.7)"/><ellipse cx="154.9" cy="748.8" rx="2.7" ry="2.6" transform="rotate(-2 154.9 748.8)"/><ellipse cx="167.8" cy="742.5" rx="1.6" ry="1.4" transform="rotate(-23 167.8 742.5)"/><ellipse cx="201.9" cy="741.0" rx="2.2" ry="1.9" transform="rotate(41 201.9 741.0)"/><ellipse cx="277.8" cy="735.7" rx="2.0" ry="1.3" transform="rotate(20 277.8 735.7)"/><ellipse cx="269.2" cy="740.1" rx="3.1" ry="1.4" transform="rotate(14 269.2 740.1)"/><ellipse cx="153.6" cy="748.1" rx="2.0" ry="1.8" transform="rotate(-24 153.6 748.1)"/><ellipse cx="218.6" cy="746.8" rx="1.6" ry="1.1" transform="rotate(-30 218.6 746.8)"/><ellipse cx="258.2" cy="743.9" rx="1.7" ry="2.4" transform="rotate(14 258.2 743.9)"/><ellipse cx="221.6" cy="739.7" rx="2.6" ry="2.2" transform="rotate(3 221.6 739.7)"/><ellipse cx="157.0" cy="743.4" rx="3.1" ry="2.7" transform="rotate(-27 157.0 743.4)"/><ellipse cx="166.8" cy="747.5" rx="2.8" ry="2.7" transform="rotate(-42 166.8 747.5)"/><ellipse cx="275.5" cy="748.6" rx="3.4" ry="1.3" transform="rotate(10 275.5 748.6)"/><ellipse cx="190.1" cy="740.6" rx="1.4" ry="2.4" transform="rotate(-37 190.1 740.6)"/><ellipse cx="153.7" cy="749.9" rx="1.3" ry="1.4" transform="rotate(-21 153.7 749.9)"/><ellipse cx="267.6" cy="739.6" rx="2.9" ry="1.2" transform="rotate(-25 267.6 739.6)"/><ellipse cx="243.4" cy="747.3" rx="3.6" ry="1.3" transform="rotate(32 243.4 747.3)"/><ellipse cx="288.3" cy="736.6" rx="2.0" ry="1.8" transform="rotate(21 288.3 736.6)"/><ellipse cx="280.8" cy="743.0" rx="3.1" ry="2.8" transform="rotate(-55 280.8 743.0)"/><ellipse cx="173.8" cy="739.2" rx="3.4" ry="0.9" transform="rotate(-17 173.8 739.2)"/><ellipse cx="242.0" cy="744.1" rx="2.5" ry="2.9" transform="rotate(-24 242.0 744.1)"/><ellipse cx="167.4" cy="742.1" rx="1.2" ry="1.0" transform="rotate(-25 167.4 742.1)"/><ellipse cx="240.9" cy="736.6" rx="2.7" ry="1.9" transform="rotate(-8 240.9 736.6)"/><ellipse cx="267.3" cy="744.1" rx="1.1" ry="2.6" transform="rotate(35 267.3 744.1)"/><ellipse cx="166.8" cy="751.0" rx="2.0" ry="2.0" transform="rotate(59 166.8 751.0)"/><ellipse cx="225.8" cy="740.8" rx="1.5" ry="2.8" transform="rotate(52 225.8 740.8)"/><ellipse cx="210.8" cy="739.1" rx="1.2" ry="2.6" transform="rotate(52 210.8 739.1)"/><ellipse cx="261.2" cy="743.0" rx="3.1" ry="2.2" transform="rotate(-1 261.2 743.0)"/><ellipse cx="207.9" cy="740.6" rx="2.6" ry="1.0" transform="rotate(29 207.9 740.6)"/><ellipse cx="240.6" cy="737.0" rx="2.5" ry="1.5" transform="rotate(-43 240.6 737.0)"/><ellipse cx="152.0" cy="748.4" rx="1.2" ry="1.5" transform="rotate(35 152.0 748.4)"/><ellipse cx="158.6" cy="747.2" rx="1.5" ry="2.6" transform="rotate(-19 158.6 747.2)"/><ellipse cx="170.0" cy="744.7" rx="2.7" ry="2.1" transform="rotate(-60 170.0 744.7)"/><ellipse cx="184.4" cy="744.2" rx="1.5" ry="1.9" transform="rotate(24 184.4 744.2)"/><ellipse cx="178.5" cy="741.9" rx="3.4" ry="2.4" transform="rotate(50 178.5 741.9)"/><ellipse cx="232.7" cy="742.7" rx="2.4" ry="2.8" transform="rotate(-52 232.7 742.7)"/><ellipse cx="174.9" cy="746.9" rx="1.2" ry="1.9" transform="rotate(-44 174.9 746.9)"/><ellipse cx="220.4" cy="742.2" rx="3.1" ry="1.5" transform="rotate(-36 220.4 742.2)"/><ellipse cx="181.5" cy="746.6" rx="1.8" ry="2.6" transform="rotate(-21 181.5 746.6)"/><ellipse cx="284.5" cy="739.5" rx="2.2" ry="1.1" transform="rotate(32 284.5 739.5)"/><ellipse cx="191.1" cy="749.7" rx="3.3" ry="2.5" transform="rotate(-6 191.1 749.7)"/><ellipse cx="167.4" cy="745.5" rx="3.0" ry="1.5" transform="rotate(-49 167.4 745.5)"/><ellipse cx="174.6" cy="748.7" rx="1.9" ry="2.3" transform="rotate(-21 174.6 748.7)"/><ellipse cx="223.6" cy="734.7" rx="2.4" ry="2.4" transform="rotate(-21 223.6 734.7)"/><ellipse cx="253.8" cy="738.9" rx="3.5" ry="2.0" transform="rotate(4 253.8 738.9)"/><ellipse cx="164.6" cy="746.6" rx="1.7" ry="1.2" transform="rotate(-19 164.6 746.6)"/><ellipse cx="262.0" cy="739.0" rx="2.6" ry="2.1" transform="rotate(-29 262.0 739.0)"/><ellipse cx="278.3" cy="736.4" rx="3.0" ry="2.1" transform="rotate(-41 278.3 736.4)"/><ellipse cx="254.2" cy="742.2" rx="1.3" ry="2.3" transform="rotate(-53 254.2 742.2)"/><ellipse cx="144.7" cy="748.0" rx="2.7" ry="1.5" transform="rotate(41 144.7 748.0)"/><ellipse cx="147.5" cy="748.8" rx="2.9" ry="2.3" transform="rotate(11 147.5 748.8)"/><ellipse cx="258.0" cy="745.3" rx="2.4" ry="2.3" transform="rotate(12 258.0 745.3)"/><ellipse cx="156.6" cy="743.2" rx="3.2" ry="1.2" transform="rotate(18 156.6 743.2)"/><ellipse cx="204.7" cy="749.1" rx="2.7" ry="1.0" transform="rotate(55 204.7 749.1)"/><ellipse cx="140.8" cy="743.0" rx="2.6" ry="1.6" transform="rotate(15 140.8 743.0)"/><ellipse cx="215.5" cy="741.0" rx="3.1" ry="0.9" transform="rotate(-53 215.5 741.0)"/><ellipse cx="168.8" cy="753.1" rx="1.7" ry="0.8" transform="rotate(5 168.8 753.1)"/><ellipse cx="246.1" cy="745.6" rx="1.4" ry="2.3" transform="rotate(2 246.1 745.6)"/><ellipse cx="242.7" cy="743.4" rx="3.4" ry="1.7" transform="rotate(59 242.7 743.4)"/><ellipse cx="182.3" cy="746.6" rx="2.6" ry="0.8" transform="rotate(7 182.3 746.6)"/><ellipse cx="203.8" cy="743.4" rx="1.2" ry="2.0" transform="rotate(-59 203.8 743.4)"/><ellipse cx="250.5" cy="735.3" rx="2.3" ry="2.3" transform="rotate(-43 250.5 735.3)"/><ellipse cx="202.2" cy="746.9" rx="2.8" ry="2.7" transform="rotate(-32 202.2 746.9)"/><ellipse cx="250.3" cy="736.3" rx="3.4" ry="2.8" transform="rotate(-33 250.3 736.3)"/><ellipse cx="158.4" cy="745.4" rx="3.4" ry="2.9" transform="rotate(20 158.4 745.4)"/><ellipse cx="201.5" cy="739.3" rx="2.6" ry="1.8" transform="rotate(33 201.5 739.3)"/><ellipse cx="274.0" cy="736.9" rx="2.8" ry="2.5" transform="rotate(43 274.0 736.9)"/><ellipse cx="162.8" cy="741.0" rx="3.6" ry="1.9" transform="rotate(-20 162.8 741.0)"/><ellipse cx="180.1" cy="748.6" rx="1.6" ry="2.9" transform="rotate(-59 180.1 748.6)"/><ellipse cx="194.7" cy="745.4" rx="1.1" ry="0.9" transform="rotate(-51 194.7 745.4)"/><ellipse cx="155.3" cy="746.9" rx="2.1" ry="2.2" transform="rotate(0 155.3 746.9)"/><ellipse cx="285.1" cy="734.6" rx="2.2" ry="1.1" transform="rotate(49 285.1 734.6)"/><ellipse cx="225.1" cy="743.9" rx="2.6" ry="2.9" transform="rotate(-26 225.1 743.9)"/><ellipse cx="206.8" cy="737.4" rx="1.9" ry="2.8" transform="rotate(51 206.8 737.4)"/><ellipse cx="178.9" cy="740.9" rx="3.1" ry="1.6" transform="rotate(-2 178.9 740.9)"/><ellipse cx="246.7" cy="740.6" rx="1.8" ry="1.2" transform="rotate(-23 246.7 740.6)"/><ellipse cx="274.7" cy="741.2" rx="3.1" ry="1.3" transform="rotate(-1 274.7 741.2)"/><ellipse cx="223.7" cy="741.1" rx="2.8" ry="2.7" transform="rotate(-32 223.7 741.1)"/><ellipse cx="177.0" cy="744.5" rx="2.5" ry="1.1" transform="rotate(-0 177.0 744.5)"/><ellipse cx="176.7" cy="744.5" rx="3.0" ry="2.4" transform="rotate(8 176.7 744.5)"/><ellipse cx="180.1" cy="749.4" rx="1.6" ry="1.8" transform="rotate(-1 180.1 749.4)"/><ellipse cx="231.7" cy="742.6" rx="2.3" ry="2.9" transform="rotate(31 231.7 742.6)"/><ellipse cx="235.8" cy="740.7" rx="3.1" ry="1.1" transform="rotate(57 235.8 740.7)"/><ellipse cx="228.1" cy="743.8" rx="3.5" ry="1.0" transform="rotate(45 228.1 743.8)"/><ellipse cx="182.2" cy="748.6" rx="3.0" ry="1.1" transform="rotate(-39 182.2 748.6)"/><ellipse cx="179.6" cy="747.5" rx="3.2" ry="1.7" transform="rotate(52 179.6 747.5)"/><ellipse cx="170.7" cy="745.3" rx="1.8" ry="2.4" transform="rotate(2 170.7 745.3)"/><ellipse cx="243.5" cy="740.0" rx="3.3" ry="1.3" transform="rotate(-29 243.5 740.0)"/><ellipse cx="204.6" cy="739.3" rx="2.1" ry="2.2" transform="rotate(-7 204.6 739.3)"/><ellipse cx="236.5" cy="741.2" rx="2.3" ry="0.9" transform="rotate(55 236.5 741.2)"/><ellipse cx="174.1" cy="748.3" rx="2.2" ry="2.3" transform="rotate(1 174.1 748.3)"/><ellipse cx="234.8" cy="740.5" rx="1.9" ry="1.5" transform="rotate(51 234.8 740.5)"/><ellipse cx="272.7" cy="737.5" rx="1.4" ry="0.9" transform="rotate(-30 272.7 737.5)"/><ellipse cx="212.5" cy="737.5" rx="2.9" ry="1.6" transform="rotate(19 212.5 737.5)"/><ellipse cx="144.2" cy="746.8" rx="2.7" ry="1.7" transform="rotate(-33 144.2 746.8)"/><ellipse cx="230.6" cy="744.6" rx="1.2" ry="2.3" transform="rotate(-46 230.6 744.6)"/><ellipse cx="233.8" cy="741.9" rx="3.4" ry="2.5" transform="rotate(18 233.8 741.9)"/><ellipse cx="197.9" cy="743.2" rx="1.9" ry="1.5" transform="rotate(1 197.9 743.2)"/><ellipse cx="166.8" cy="744.0" rx="2.7" ry="1.0" transform="rotate(-12 166.8 744.0)"/><ellipse cx="163.1" cy="752.9" rx="2.2" ry="1.9" transform="rotate(46 163.1 752.9)"/><ellipse cx="191.8" cy="741.8" rx="3.0" ry="1.0" transform="rotate(0 191.8 741.8)"/><ellipse cx="251.1" cy="738.2" rx="3.1" ry="0.9" transform="rotate(-36 251.1 738.2)"/><ellipse cx="248.2" cy="739.2" rx="2.4" ry="1.6" transform="rotate(31 248.2 739.2)"/><ellipse cx="248.2" cy="743.1" rx="2.4" ry="2.8" transform="rotate(52 248.2 743.1)"/><ellipse cx="270.1" cy="739.4" rx="1.3" ry="2.0" transform="rotate(53 270.1 739.4)"/><ellipse cx="233.7" cy="742.6" rx="1.9" ry="0.8" transform="rotate(27 233.7 742.6)"/><ellipse cx="193.3" cy="745.2" rx="1.5" ry="2.5" transform="rotate(-9 193.3 745.2)"/><ellipse cx="225.5" cy="737.8" rx="1.3" ry="1.3" transform="rotate(-24 225.5 737.8)"/><ellipse cx="228.2" cy="744.4" rx="2.1" ry="2.4" transform="rotate(33 228.2 744.4)"/><ellipse cx="209.0" cy="743.9" rx="3.2" ry="1.6" transform="rotate(-0 209.0 743.9)"/><ellipse cx="254.2" cy="739.4" rx="1.6" ry="1.4" transform="rotate(-44 254.2 739.4)"/></g>
</g>
<g filter="url(#bl0_5)">
<g fill="#48d040" fill-opacity="1.0"><ellipse cx="101.7" cy="743.9" rx="1.4" ry="1.6" transform="rotate(-59 101.7 743.9)"/><ellipse cx="106.3" cy="745.0" rx="1.6" ry="1.2" transform="rotate(-58 106.3 745.0)"/><ellipse cx="110.3" cy="747.8" rx="1.6" ry="1.1" transform="rotate(51 110.3 747.8)"/><ellipse cx="99.2" cy="738.9" rx="1.4" ry="1.6" transform="rotate(-28 99.2 738.9)"/><ellipse cx="100.2" cy="733.6" rx="1.7" ry="1.5" transform="rotate(-11 100.2 733.6)"/><ellipse cx="105.6" cy="735.6" rx="2.0" ry="1.7" transform="rotate(13 105.6 735.6)"/><ellipse cx="107.4" cy="740.0" rx="1.5" ry="1.7" transform="rotate(-60 107.4 740.0)"/><ellipse cx="107.5" cy="745.7" rx="1.2" ry="0.7" transform="rotate(-17 107.5 745.7)"/><ellipse cx="111.8" cy="735.1" rx="1.4" ry="1.5" transform="rotate(-52 111.8 735.1)"/><ellipse cx="107.3" cy="748.7" rx="1.0" ry="0.7" transform="rotate(-44 107.3 748.7)"/><ellipse cx="97.9" cy="742.6" rx="1.5" ry="1.0" transform="rotate(-15 97.9 742.6)"/><ellipse cx="102.7" cy="743.0" rx="2.1" ry="0.6" transform="rotate(-30 102.7 743.0)"/><ellipse cx="102.8" cy="734.9" rx="1.3" ry="1.6" transform="rotate(-49 102.8 734.9)"/><ellipse cx="108.2" cy="734.6" rx="1.3" ry="1.3" transform="rotate(35 108.2 734.6)"/><ellipse cx="106.7" cy="755.1" rx="1.5" ry="1.5" transform="rotate(-13 106.7 755.1)"/><ellipse cx="102.4" cy="746.4" rx="1.9" ry="0.8" transform="rotate(46 102.4 746.4)"/><ellipse cx="110.6" cy="741.3" rx="0.9" ry="1.4" transform="rotate(-26 110.6 741.3)"/><ellipse cx="108.4" cy="752.9" rx="0.9" ry="0.7" transform="rotate(39 108.4 752.9)"/><ellipse cx="105.1" cy="744.2" rx="1.9" ry="0.7" transform="rotate(16 105.1 744.2)"/><ellipse cx="104.4" cy="748.3" rx="1.0" ry="1.4" transform="rotate(15 104.4 748.3)"/><ellipse cx="109.9" cy="741.3" rx="1.4" ry="0.9" transform="rotate(-44 109.9 741.3)"/><ellipse cx="111.2" cy="748.1" rx="1.8" ry="0.9" transform="rotate(40 111.2 748.1)"/><ellipse cx="103.1" cy="746.5" rx="1.6" ry="0.7" transform="rotate(22 103.1 746.5)"/><ellipse cx="98.5" cy="744.8" rx="0.9" ry="0.7" transform="rotate(-16 98.5 744.8)"/><ellipse cx="110.7" cy="744.1" rx="1.5" ry="1.5" transform="rotate(-24 110.7 744.1)"/><ellipse cx="107.3" cy="735.6" rx="1.6" ry="0.7" transform="rotate(25 107.3 735.6)"/><ellipse cx="111.9" cy="745.8" rx="1.4" ry="1.6" transform="rotate(39 111.9 745.8)"/><ellipse cx="101.1" cy="742.2" rx="1.1" ry="1.3" transform="rotate(53 101.1 742.2)"/><ellipse cx="106.4" cy="743.2" rx="2.0" ry="1.6" transform="rotate(60 106.4 743.2)"/><ellipse cx="100.6" cy="742.5" rx="0.8" ry="1.7" transform="rotate(9 100.6 742.5)"/><ellipse cx="107.7" cy="745.1" rx="1.0" ry="0.7" transform="rotate(-15 107.7 745.1)"/><ellipse cx="97.8" cy="744.2" rx="1.1" ry="0.6" transform="rotate(-16 97.8 744.2)"/><ellipse cx="111.0" cy="743.8" rx="1.4" ry="1.3" transform="rotate(26 111.0 743.8)"/><ellipse cx="98.1" cy="744.0" rx="1.6" ry="1.6" transform="rotate(28 98.1 744.0)"/><ellipse cx="108.9" cy="744.7" rx="1.9" ry="1.3" transform="rotate(36 108.9 744.7)"/><ellipse cx="103.1" cy="741.2" rx="2.0" ry="1.5" transform="rotate(-27 103.1 741.2)"/><ellipse cx="99.9" cy="746.0" rx="1.3" ry="1.3" transform="rotate(-14 99.9 746.0)"/><ellipse cx="112.7" cy="741.7" rx="1.8" ry="0.8" transform="rotate(15 112.7 741.7)"/><ellipse cx="97.7" cy="748.3" rx="1.2" ry="0.8" transform="rotate(40 97.7 748.3)"/><ellipse cx="104.3" cy="743.3" rx="1.6" ry="0.8" transform="rotate(-40 104.3 743.3)"/><ellipse cx="101.4" cy="744.0" rx="2.0" ry="0.8" transform="rotate(-54 101.4 744.0)"/><ellipse cx="109.5" cy="740.9" rx="1.4" ry="1.4" transform="rotate(9 109.5 740.9)"/><ellipse cx="101.7" cy="750.5" rx="1.3" ry="1.5" transform="rotate(10 101.7 750.5)"/><ellipse cx="110.2" cy="738.1" rx="1.4" ry="1.5" transform="rotate(40 110.2 738.1)"/><ellipse cx="107.5" cy="746.6" rx="2.0" ry="1.4" transform="rotate(29 107.5 746.6)"/></g>
</g>
<g filter="url(#bl0_8)"><ellipse cx="132" cy="743.2" rx="2.6" ry="3" fill="#40c848"/></g>
<path d="M292,737.2 L292,779.2 L275,779.2 Z" fill="#040404"/>
</g>
<text x="144.3" y="727.5" font-size="7.2" fill="#f4f4f4" textLength="21.6" lengthAdjust="spacingAndGlyphs">SS/IgG</text>
<rect x="144.2" y="771.8" width="23.4" height="1.5" fill="#e8e8e8"/>
<text x="230.5" y="771.6" font-size="4.6" fill="#e8e8e8" textLength="20" lengthAdjust="spacingAndGlyphs">00:45:00</text>
<g clip-path="url(#imc3)">
<rect x="87.0" y="787.2" width="205.0" height="57.8" fill="url(#g4base)"/>
<g filter="url(#bl2_5)"><path d="M80,782.2 L300,782.2 L300,793.2 C230,794.2 160,795.2 80,796.2 Z" fill="url(#g4top)"/></g>
<g filter="url(#bl1_8)"><path d="M80,822.2 C150,822.2 230,821.2 300,820.2 L300,857.2 L80,857.2 Z" fill="#27a838"/></g>
<g filter="url(#bl2_5)"><path d="M80,811.2 C100,807.2 130,803.2 150,803.2 C160,807.2 175,815.2 210,820.2 L230,823.2 L230,847.2 L80,847.2 Z" fill="#2a9c34"/></g>
<g filter="url(#bl2_5)"><path d="M132,802.2 C150,803.2 165,807.2 190,814.2 C205,817.2 220,819.2 240,821.2 L240,823.2 C200,821.2 150,817.2 132,817.2 Z" fill="#2a9a32"/></g>
<g filter="url(#bl1_2)"><path d="M104,796.2 L110,798.2 L95,824.2 L89,822.2 Z" fill="#36b840"/></g>
<g filter="url(#bl1_2)"><path d="M108,799.2 C118,798.2 130,800.2 140,804.2 L138,808.2 C128,805.2 118,803.2 108,803.2 Z" fill="#36b840"/></g>
<g filter="url(#bl2_5)"><ellipse cx="97" cy="804.2" rx="10" ry="8" fill="#4a1606"/></g>
<g filter="url(#bl1_8)"><path d="M110,801.2 C120,799.2 134,801.2 140,809.2 C144,817.2 138,827.2 128,829.2 C118,831.2 110,827.2 106,819.2 C104,813.2 105,805.2 110,801.2 Z" fill="#6a2c0e"/></g>
<g filter="url(#bl1_8)"><ellipse cx="116" cy="821.2" rx="9" ry="6" fill="#8a4a14" fill-opacity="0.7"/></g>
<g filter="url(#bl1_8)"><ellipse cx="131" cy="811.2" rx="7" ry="6.5" fill="#1c1206"/></g>
<path d="M87,787.2 L92,787.2 L87,795.2 Z" fill="#050505"/>
<path d="M292,820.2 L292,847.2 L281,847.2 Z" fill="#050505"/>
</g>
<text x="144.3" y="795.5" font-size="7.2" fill="#f4f4f4" textLength="30.5" lengthAdjust="spacingAndGlyphs">SS/15D10</text>
<rect x="144.2" y="839.8" width="23.4" height="1.5" fill="#e8e8e8"/>
<text x="230.5" y="839.6" font-size="4.6" fill="#e8e8e8" textLength="20" lengthAdjust="spacingAndGlyphs">00:45:00</text>
<rect x="87" y="850.2" width="65.0" height="22.4" fill="#161616"/>
<text x="95.9" y="865.2" font-size="13" fill="#2e9a44" textLength="48" lengthAdjust="spacingAndGlyphs">Platelets</text>
<rect x="170" y="850.2" width="43.8" height="22.4" fill="#161616"/>
<text x="175.6" y="865.2" font-size="13" fill="#d03a2a" textLength="32.4" lengthAdjust="spacingAndGlyphs">Fibrin</text>
<rect x="232.2" y="850.2" width="59.8" height="22.4" fill="#161616"/>
<text x="240.8" y="865.2" font-size="13" fill="#e0d42c" textLength="43.6" lengthAdjust="spacingAndGlyphs">Overlay</text>
<rect x="0.5" y="0.5" width="519" height="883" fill="none" stroke="#222" stroke-width="1"/>
</svg>
</body></html>
